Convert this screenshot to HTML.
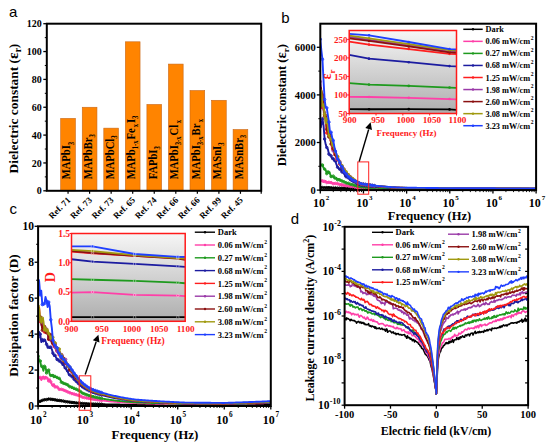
<!DOCTYPE html>
<html><head><meta charset="utf-8"><title>Figure</title>
<style>html,body{margin:0;padding:0;background:#fff;overflow:hidden;width:550px;height:445px}svg{display:block}</style>
</head><body>
<svg width="550" height="445" viewBox="0 0 550 445"><text x="9" y="17.2" font-family="Liberation Sans" font-size="15" fill="#000">a</text>
<text x="281.3" y="22.6" font-family="Liberation Sans" font-size="15" fill="#000">b</text>
<text x="9.5" y="213.7" font-family="Liberation Sans" font-size="15" fill="#000">c</text>
<text x="290.8" y="223.9" font-family="Liberation Sans" font-size="15" fill="#000">d</text>
<rect x="60.70" y="118.39" width="14.70" height="72.41" fill="#ff8400" stroke="#c8681a" stroke-width="0.6" />
<rect x="82.25" y="107.25" width="14.70" height="83.55" fill="#ff8400" stroke="#c8681a" stroke-width="0.6" />
<rect x="103.80" y="128.14" width="14.70" height="62.66" fill="#ff8400" stroke="#c8681a" stroke-width="0.6" />
<rect x="125.35" y="41.80" width="14.70" height="149.00" fill="#ff8400" stroke="#c8681a" stroke-width="0.6" />
<rect x="146.90" y="104.46" width="14.70" height="86.34" fill="#ff8400" stroke="#c8681a" stroke-width="0.6" />
<rect x="168.45" y="64.08" width="14.70" height="126.72" fill="#ff8400" stroke="#c8681a" stroke-width="0.6" />
<rect x="190.00" y="90.54" width="14.70" height="100.26" fill="#ff8400" stroke="#c8681a" stroke-width="0.6" />
<rect x="211.55" y="100.29" width="14.70" height="90.51" fill="#ff8400" stroke="#c8681a" stroke-width="0.6" />
<rect x="233.10" y="129.53" width="14.70" height="61.27" fill="#ff8400" stroke="#c8681a" stroke-width="0.6" />
<text x="0" y="0" font-size="10.6" transform="translate(70.45 179.3) rotate(-90) scale(1 1.1)" font-family="Liberation Serif" font-weight="bold">MAPbI<tspan font-size="6.6" dy="2.8">3</tspan></text>
<text x="0" y="0" font-size="10.6" transform="translate(92.00 179.3) rotate(-90) scale(1 1.1)" font-family="Liberation Serif" font-weight="bold">MAPbBr<tspan font-size="6.6" dy="2.8">3</tspan></text>
<text x="0" y="0" font-size="10.6" transform="translate(113.55 179.3) rotate(-90) scale(1 1.1)" font-family="Liberation Serif" font-weight="bold">MAPbCl<tspan font-size="6.6" dy="2.8">3</tspan></text>
<text x="0" y="0" font-size="10.6" transform="translate(135.10 179.3) rotate(-90) scale(1 1.1)" font-family="Liberation Serif" font-weight="bold">MAPb<tspan font-size="6.6" dy="2.8">1-x</tspan><tspan dx="1" dy="-2.8">Fe</tspan><tspan font-size="6.6" dx="1.2" dy="2.8">x</tspan><tspan dx="0.8" dy="-2.8">I</tspan><tspan font-size="6.6" dy="2.8">3</tspan></text>
<text x="0" y="0" font-size="10.6" transform="translate(156.65 179.3) rotate(-90) scale(1 1.1)" font-family="Liberation Serif" font-weight="bold">FAPbI<tspan font-size="6.6" dy="2.8">3</tspan></text>
<text x="0" y="0" font-size="10.6" transform="translate(178.20 179.3) rotate(-90) scale(1 1.1)" font-family="Liberation Serif" font-weight="bold">MAPbI<tspan font-size="6.6" dy="2.8">3-x</tspan><tspan dx="1" dy="-2.8">Cl</tspan><tspan font-size="6.6" dx="1.5" dy="2.8">x</tspan></text>
<text x="0" y="0" font-size="10.6" transform="translate(199.75 179.3) rotate(-90) scale(1 1.1)" font-family="Liberation Serif" font-weight="bold">MAPbI<tspan font-size="6.6" dy="2.8">3-x</tspan><tspan dx="1" dy="-2.8">Br</tspan><tspan font-size="6.6" dx="1.5" dy="2.8">x</tspan></text>
<text x="0" y="0" font-size="10.6" transform="translate(221.30 179.3) rotate(-90) scale(1 1.1)" font-family="Liberation Serif" font-weight="bold">MASnI<tspan font-size="6.6" dy="2.8">3</tspan></text>
<text x="0" y="0" font-size="10.6" transform="translate(242.85 179.3) rotate(-90) scale(1 1.1)" font-family="Liberation Serif" font-weight="bold">MASnBr<tspan font-size="6.6" dy="2.8">3</tspan></text>
<text x="71.05" y="200.60" font-size="8.9" text-anchor="end" fill="#000" transform="rotate(-45 71.05 200.60)" font-family="Liberation Serif" font-weight="bold">Ref. 71</text>
<line x1="68.05" y1="190.80" x2="68.05" y2="193.80" stroke="#000" stroke-width="1.2" />
<text x="92.60" y="200.60" font-size="8.9" text-anchor="end" fill="#000" transform="rotate(-45 92.60 200.60)" font-family="Liberation Serif" font-weight="bold">Ref. 73</text>
<line x1="89.60" y1="190.80" x2="89.60" y2="193.80" stroke="#000" stroke-width="1.2" />
<text x="114.15" y="200.60" font-size="8.9" text-anchor="end" fill="#000" transform="rotate(-45 114.15 200.60)" font-family="Liberation Serif" font-weight="bold">Ref. 73</text>
<line x1="111.15" y1="190.80" x2="111.15" y2="193.80" stroke="#000" stroke-width="1.2" />
<text x="135.70" y="200.60" font-size="8.9" text-anchor="end" fill="#000" transform="rotate(-45 135.70 200.60)" font-family="Liberation Serif" font-weight="bold">Ref. 65</text>
<line x1="132.70" y1="190.80" x2="132.70" y2="193.80" stroke="#000" stroke-width="1.2" />
<text x="157.25" y="200.60" font-size="8.9" text-anchor="end" fill="#000" transform="rotate(-45 157.25 200.60)" font-family="Liberation Serif" font-weight="bold">Ref. 74</text>
<line x1="154.25" y1="190.80" x2="154.25" y2="193.80" stroke="#000" stroke-width="1.2" />
<text x="178.80" y="200.60" font-size="8.9" text-anchor="end" fill="#000" transform="rotate(-45 178.80 200.60)" font-family="Liberation Serif" font-weight="bold">Ref. 66</text>
<line x1="175.80" y1="190.80" x2="175.80" y2="193.80" stroke="#000" stroke-width="1.2" />
<text x="200.35" y="200.60" font-size="8.9" text-anchor="end" fill="#000" transform="rotate(-45 200.35 200.60)" font-family="Liberation Serif" font-weight="bold">Ref. 66</text>
<line x1="197.35" y1="190.80" x2="197.35" y2="193.80" stroke="#000" stroke-width="1.2" />
<text x="221.90" y="200.60" font-size="8.9" text-anchor="end" fill="#000" transform="rotate(-45 221.90 200.60)" font-family="Liberation Serif" font-weight="bold">Ref. 99</text>
<line x1="218.90" y1="190.80" x2="218.90" y2="193.80" stroke="#000" stroke-width="1.2" />
<text x="243.45" y="200.60" font-size="8.9" text-anchor="end" fill="#000" transform="rotate(-45 243.45 200.60)" font-family="Liberation Serif" font-weight="bold">Ref. 45</text>
<line x1="240.45" y1="190.80" x2="240.45" y2="193.80" stroke="#000" stroke-width="1.2" />
<line x1="261.20" y1="190.80" x2="261.20" y2="193.80" stroke="#000" stroke-width="1.2" />
<line x1="43.30" y1="190.80" x2="46.80" y2="190.80" stroke="#000" stroke-width="1.3" />
<text x="41.80" y="194.40" font-size="10" text-anchor="end" fill="#000" font-family="Liberation Serif" font-weight="bold">0</text>
<line x1="43.30" y1="162.95" x2="46.80" y2="162.95" stroke="#000" stroke-width="1.3" />
<text x="41.80" y="166.55" font-size="10" text-anchor="end" fill="#000" font-family="Liberation Serif" font-weight="bold">20</text>
<line x1="43.30" y1="135.10" x2="46.80" y2="135.10" stroke="#000" stroke-width="1.3" />
<text x="41.80" y="138.70" font-size="10" text-anchor="end" fill="#000" font-family="Liberation Serif" font-weight="bold">40</text>
<line x1="43.30" y1="107.25" x2="46.80" y2="107.25" stroke="#000" stroke-width="1.3" />
<text x="41.80" y="110.85" font-size="10" text-anchor="end" fill="#000" font-family="Liberation Serif" font-weight="bold">60</text>
<line x1="43.30" y1="79.40" x2="46.80" y2="79.40" stroke="#000" stroke-width="1.3" />
<text x="41.80" y="83.00" font-size="10" text-anchor="end" fill="#000" font-family="Liberation Serif" font-weight="bold">80</text>
<line x1="43.30" y1="51.55" x2="46.80" y2="51.55" stroke="#000" stroke-width="1.3" />
<text x="41.80" y="55.15" font-size="10" text-anchor="end" fill="#000" font-family="Liberation Serif" font-weight="bold">100</text>
<line x1="43.30" y1="23.70" x2="46.80" y2="23.70" stroke="#000" stroke-width="1.3" />
<text x="41.80" y="27.30" font-size="10" text-anchor="end" fill="#000" font-family="Liberation Serif" font-weight="bold">120</text>
<line x1="44.80" y1="176.88" x2="46.80" y2="176.88" stroke="#000" stroke-width="1" />
<line x1="44.80" y1="149.03" x2="46.80" y2="149.03" stroke="#000" stroke-width="1" />
<line x1="44.80" y1="121.17" x2="46.80" y2="121.17" stroke="#000" stroke-width="1" />
<line x1="44.80" y1="93.32" x2="46.80" y2="93.32" stroke="#000" stroke-width="1" />
<line x1="44.80" y1="65.47" x2="46.80" y2="65.47" stroke="#000" stroke-width="1" />
<line x1="44.80" y1="37.62" x2="46.80" y2="37.62" stroke="#000" stroke-width="1" />
<rect x="46.80" y="23.70" width="214.40" height="167.10" fill="none" stroke="#000" stroke-width="2" />
<text x="17.60" y="108.60" font-size="13.4" text-anchor="middle" fill="#000" transform="rotate(-90 17.60 108.60)" font-family="Liberation Serif" font-weight="bold">Dielectric constant (<tspan font-size="15.5">&#949;</tspan><tspan font-size="9.5" dy="3.5">r</tspan><tspan dy="-3.5">)</tspan></text>
<defs><linearGradient id="g1" x1="0" y1="0" x2="0" y2="1"><stop offset="0" stop-color="#f6f6f6"/><stop offset="1" stop-color="#adadad"/></linearGradient><clipPath id="cpb"><rect x="320.3" y="23.7" width="215.8" height="166.4"/></clipPath><clipPath id="cpc"><rect x="38.1" y="226.3" width="232.7" height="179.7"/></clipPath><clipPath id="cpd"><rect x="344.6" y="226.8" width="183.5" height="178.4"/></clipPath></defs>
<g clip-path="url(#cpb)">
<polyline points="320.30,187.52 321.38,187.46 322.46,187.59 323.54,187.64 324.62,187.75 325.69,187.70 326.77,187.61 327.85,187.72 328.93,187.70 330.01,187.81 331.09,187.83 332.17,187.89 333.25,188.05 334.33,187.91 335.41,187.97 336.49,188.01 337.56,188.16 338.64,188.19 339.72,188.18 340.80,188.19 341.88,188.18 342.96,188.22 344.04,188.23 345.12,188.30 346.20,188.29 347.28,188.31 348.35,188.37 349.43,188.33 350.51,188.38 351.59,188.39 352.67,188.46 353.75,188.48 354.83,188.50 355.91,188.52 356.99,188.53 358.06,188.56 359.14,188.58 360.22,188.61 361.30,188.62 362.38,188.64 363.46,188.66 364.54,188.68 365.62,188.71 366.70,188.73 367.78,188.75 368.86,188.77 369.93,188.78 371.01,188.80 372.09,188.82 373.17,188.84 374.25,188.86 375.33,188.88 376.41,188.90 377.49,188.91 378.57,188.93 379.65,188.95 380.72,188.96 381.80,188.98 382.88,189.00 383.96,189.01 385.04,189.03 386.12,189.04 387.20,189.04 388.28,189.05 389.36,189.06 390.44,189.06 391.51,189.07 392.59,189.08 393.67,189.09 394.75,189.09 395.83,189.10 396.91,189.11 397.99,189.11 399.07,189.12 400.15,189.13 401.23,189.13 402.30,189.14 403.38,189.15 404.46,189.15 405.54,189.16 406.62,189.16 407.70,189.17 408.78,189.18 409.86,189.18 410.94,189.19 412.01,189.20 413.09,189.20 414.17,189.21 415.25,189.21 416.33,189.22 417.41,189.23 418.49,189.23 419.57,189.24 420.65,189.24 421.73,189.25 422.81,189.25 423.88,189.26 424.96,189.27 426.04,189.27 427.12,189.28 428.20,189.28 429.28,189.29 430.36,189.29 431.44,189.30 432.52,189.30 433.60,189.31 434.67,189.32 435.75,189.32 436.83,189.33 437.91,189.33 438.99,189.34 440.07,189.34 441.15,189.35 442.23,189.35 443.31,189.36 444.38,189.36 445.46,189.37 446.54,189.37 447.62,189.38 448.70,189.38 449.78,189.39 450.86,189.39 451.94,189.39 453.02,189.39 454.10,189.39 455.18,189.39 456.25,189.40 457.33,189.40 458.41,189.40 459.49,189.40 460.57,189.40 461.65,189.40 462.73,189.41 463.81,189.41 464.89,189.41 465.97,189.41 467.04,189.41 468.12,189.41 469.20,189.41 470.28,189.42 471.36,189.42 472.44,189.42 473.52,189.42 474.60,189.42 475.68,189.42 476.75,189.43 477.83,189.43 478.91,189.43 479.99,189.43 481.07,189.43 482.15,189.43 483.23,189.43 484.31,189.44 485.39,189.44 486.47,189.44 487.55,189.44 488.62,189.44 489.70,189.44 490.78,189.45 491.86,189.45 492.94,189.45 494.02,189.45 495.10,189.45 496.18,189.45 497.26,189.45 498.34,189.46 499.41,189.46 500.49,189.46 501.57,189.46 502.65,189.46 503.73,189.46 504.81,189.46 505.89,189.47 506.97,189.47 508.05,189.47 509.12,189.47 510.20,189.47 511.28,189.47 512.36,189.47 513.44,189.48 514.52,189.48 515.60,189.48 516.68,189.48 517.76,189.48 518.84,189.48 519.91,189.48 520.99,189.49 522.07,189.49 523.15,189.49 524.23,189.49 525.31,189.49 526.39,189.49 527.47,189.49 528.55,189.50 529.63,189.50 530.71,189.50 531.78,189.50 532.86,189.50 533.94,189.50 535.02,189.50 536.10,189.50" fill="none" stroke="#000000" stroke-width="1.9" stroke-linejoin="round" />
<circle cx="320.30" cy="187.52" r="1.25" fill="none" stroke="#000000" stroke-width="1.0"/>
<circle cx="322.46" cy="187.59" r="1.25" fill="none" stroke="#000000" stroke-width="1.0"/>
<circle cx="324.62" cy="187.75" r="1.25" fill="none" stroke="#000000" stroke-width="1.0"/>
<circle cx="326.77" cy="187.61" r="1.25" fill="none" stroke="#000000" stroke-width="1.0"/>
<circle cx="328.93" cy="187.70" r="1.25" fill="none" stroke="#000000" stroke-width="1.0"/>
<circle cx="331.09" cy="187.83" r="1.25" fill="none" stroke="#000000" stroke-width="1.0"/>
<circle cx="333.25" cy="188.05" r="1.25" fill="none" stroke="#000000" stroke-width="1.0"/>
<circle cx="335.41" cy="187.97" r="1.25" fill="none" stroke="#000000" stroke-width="1.0"/>
<circle cx="337.56" cy="188.16" r="1.25" fill="none" stroke="#000000" stroke-width="1.0"/>
<circle cx="339.72" cy="188.18" r="1.25" fill="none" stroke="#000000" stroke-width="1.0"/>
<circle cx="341.88" cy="188.18" r="1.25" fill="none" stroke="#000000" stroke-width="1.0"/>
<circle cx="344.04" cy="188.23" r="1.25" fill="none" stroke="#000000" stroke-width="1.0"/>
<circle cx="346.20" cy="188.29" r="1.25" fill="none" stroke="#000000" stroke-width="1.0"/>
<circle cx="348.35" cy="188.37" r="1.25" fill="none" stroke="#000000" stroke-width="1.0"/>
<circle cx="350.51" cy="188.38" r="1.25" fill="none" stroke="#000000" stroke-width="1.0"/>
<circle cx="352.67" cy="188.46" r="1.25" fill="none" stroke="#000000" stroke-width="1.0"/>
<circle cx="354.83" cy="188.50" r="1.25" fill="none" stroke="#000000" stroke-width="1.0"/>
<circle cx="356.99" cy="188.53" r="1.25" fill="none" stroke="#000000" stroke-width="1.0"/>
<circle cx="359.14" cy="188.58" r="1.25" fill="none" stroke="#000000" stroke-width="1.0"/>
<circle cx="361.30" cy="188.62" r="1.25" fill="none" stroke="#000000" stroke-width="1.0"/>
<circle cx="363.46" cy="188.66" r="1.25" fill="none" stroke="#000000" stroke-width="1.0"/>
<circle cx="365.62" cy="188.71" r="1.25" fill="none" stroke="#000000" stroke-width="1.0"/>
<circle cx="367.78" cy="188.75" r="1.25" fill="none" stroke="#000000" stroke-width="1.0"/>
<circle cx="369.93" cy="188.78" r="1.25" fill="none" stroke="#000000" stroke-width="1.0"/>
<circle cx="372.09" cy="188.82" r="1.25" fill="none" stroke="#000000" stroke-width="1.0"/>
<circle cx="374.25" cy="188.86" r="1.25" fill="none" stroke="#000000" stroke-width="1.0"/>
<polyline points="320.30,181.12 321.38,180.65 322.46,180.77 323.54,182.10 324.62,181.43 325.69,180.98 326.77,182.59 327.85,182.20 328.93,182.29 330.01,182.84 331.09,182.57 332.17,183.03 333.25,183.73 334.33,183.21 335.41,183.49 336.49,183.64 337.56,183.74 338.64,184.22 339.72,184.47 340.80,184.94 341.88,184.75 342.96,185.17 344.04,185.33 345.12,185.63 346.20,185.76 347.28,185.87 348.35,185.85 349.43,186.27 350.51,186.41 351.59,186.47 352.67,186.58 353.75,186.81 354.83,187.06 355.91,187.21 356.99,187.29 358.06,187.46 359.14,187.59 360.22,187.69 361.30,187.81 362.38,187.88 363.46,187.93 364.54,187.98 365.62,188.02 366.70,188.07 367.78,188.11 368.86,188.16 369.93,188.20 371.01,188.24 372.09,188.28 373.17,188.32 374.25,188.36 375.33,188.40 376.41,188.43 377.49,188.46 378.57,188.49 379.65,188.52 380.72,188.55 381.80,188.57 382.88,188.60 383.96,188.63 385.04,188.65 386.12,188.68 387.20,188.70 388.28,188.73 389.36,188.75 390.44,188.77 391.51,188.80 392.59,188.82 393.67,188.84 394.75,188.86 395.83,188.88 396.91,188.90 397.99,188.93 399.07,188.95 400.15,188.96 401.23,188.97 402.30,188.98 403.38,188.98 404.46,188.99 405.54,189.00 406.62,189.01 407.70,189.01 408.78,189.02 409.86,189.03 410.94,189.04 412.01,189.04 413.09,189.05 414.17,189.06 415.25,189.06 416.33,189.07 417.41,189.08 418.49,189.09 419.57,189.09 420.65,189.10 421.73,189.11 422.81,189.11 423.88,189.12 424.96,189.13 426.04,189.13 427.12,189.14 428.20,189.15 429.28,189.15 430.36,189.16 431.44,189.16 432.52,189.17 433.60,189.18 434.67,189.18 435.75,189.19 436.83,189.20 437.91,189.20 438.99,189.21 440.07,189.21 441.15,189.22 442.23,189.23 443.31,189.23 444.38,189.24 445.46,189.24 446.54,189.25 447.62,189.26 448.70,189.26 449.78,189.27 450.86,189.27 451.94,189.27 453.02,189.27 454.10,189.27 455.18,189.27 456.25,189.28 457.33,189.28 458.41,189.28 459.49,189.28 460.57,189.28 461.65,189.28 462.73,189.29 463.81,189.29 464.89,189.29 465.97,189.29 467.04,189.29 468.12,189.29 469.20,189.30 470.28,189.30 471.36,189.30 472.44,189.30 473.52,189.30 474.60,189.30 475.68,189.30 476.75,189.31 477.83,189.31 478.91,189.31 479.99,189.31 481.07,189.31 482.15,189.31 483.23,189.32 484.31,189.32 485.39,189.32 486.47,189.32 487.55,189.32 488.62,189.32 489.70,189.32 490.78,189.33 491.86,189.33 492.94,189.33 494.02,189.33 495.10,189.33 496.18,189.33 497.26,189.33 498.34,189.34 499.41,189.34 500.49,189.34 501.57,189.34 502.65,189.34 503.73,189.34 504.81,189.34 505.89,189.35 506.97,189.35 508.05,189.35 509.12,189.35 510.20,189.35 511.28,189.35 512.36,189.36 513.44,189.36 514.52,189.36 515.60,189.36 516.68,189.36 517.76,189.36 518.84,189.36 519.91,189.37 520.99,189.37 522.07,189.37 523.15,189.37 524.23,189.37 525.31,189.37 526.39,189.37 527.47,189.37 528.55,189.38 529.63,189.38 530.71,189.38 531.78,189.38 532.86,189.38 533.94,189.38 535.02,189.38 536.10,189.39" fill="none" stroke="#ff3fa8" stroke-width="1.9" stroke-linejoin="round" />
<circle cx="320.30" cy="181.12" r="1.25" fill="none" stroke="#ff3fa8" stroke-width="1.0"/>
<circle cx="322.46" cy="180.77" r="1.25" fill="none" stroke="#ff3fa8" stroke-width="1.0"/>
<circle cx="324.62" cy="181.43" r="1.25" fill="none" stroke="#ff3fa8" stroke-width="1.0"/>
<circle cx="326.77" cy="182.59" r="1.25" fill="none" stroke="#ff3fa8" stroke-width="1.0"/>
<circle cx="328.93" cy="182.29" r="1.25" fill="none" stroke="#ff3fa8" stroke-width="1.0"/>
<circle cx="331.09" cy="182.57" r="1.25" fill="none" stroke="#ff3fa8" stroke-width="1.0"/>
<circle cx="333.25" cy="183.73" r="1.25" fill="none" stroke="#ff3fa8" stroke-width="1.0"/>
<circle cx="335.41" cy="183.49" r="1.25" fill="none" stroke="#ff3fa8" stroke-width="1.0"/>
<circle cx="337.56" cy="183.74" r="1.25" fill="none" stroke="#ff3fa8" stroke-width="1.0"/>
<circle cx="339.72" cy="184.47" r="1.25" fill="none" stroke="#ff3fa8" stroke-width="1.0"/>
<circle cx="341.88" cy="184.75" r="1.25" fill="none" stroke="#ff3fa8" stroke-width="1.0"/>
<circle cx="344.04" cy="185.33" r="1.25" fill="none" stroke="#ff3fa8" stroke-width="1.0"/>
<circle cx="346.20" cy="185.76" r="1.25" fill="none" stroke="#ff3fa8" stroke-width="1.0"/>
<circle cx="348.35" cy="185.85" r="1.25" fill="none" stroke="#ff3fa8" stroke-width="1.0"/>
<circle cx="350.51" cy="186.41" r="1.25" fill="none" stroke="#ff3fa8" stroke-width="1.0"/>
<circle cx="352.67" cy="186.58" r="1.25" fill="none" stroke="#ff3fa8" stroke-width="1.0"/>
<circle cx="354.83" cy="187.06" r="1.25" fill="none" stroke="#ff3fa8" stroke-width="1.0"/>
<circle cx="356.99" cy="187.29" r="1.25" fill="none" stroke="#ff3fa8" stroke-width="1.0"/>
<circle cx="359.14" cy="187.59" r="1.25" fill="none" stroke="#ff3fa8" stroke-width="1.0"/>
<circle cx="361.30" cy="187.81" r="1.25" fill="none" stroke="#ff3fa8" stroke-width="1.0"/>
<circle cx="363.46" cy="187.93" r="1.25" fill="none" stroke="#ff3fa8" stroke-width="1.0"/>
<circle cx="365.62" cy="188.02" r="1.25" fill="none" stroke="#ff3fa8" stroke-width="1.0"/>
<circle cx="367.78" cy="188.11" r="1.25" fill="none" stroke="#ff3fa8" stroke-width="1.0"/>
<circle cx="369.93" cy="188.20" r="1.25" fill="none" stroke="#ff3fa8" stroke-width="1.0"/>
<circle cx="372.09" cy="188.28" r="1.25" fill="none" stroke="#ff3fa8" stroke-width="1.0"/>
<circle cx="374.25" cy="188.36" r="1.25" fill="none" stroke="#ff3fa8" stroke-width="1.0"/>
<polyline points="320.30,164.62 321.38,165.59 322.46,165.05 323.54,167.80 324.62,169.11 325.69,170.09 326.77,173.61 327.85,171.13 328.93,172.42 330.01,173.83 331.09,176.54 332.17,176.53 333.25,176.14 334.33,178.43 335.41,178.12 336.49,177.99 337.56,179.81 338.64,178.92 339.72,179.89 340.80,180.67 341.88,180.94 342.96,181.31 344.04,181.92 345.12,182.07 346.20,182.92 347.28,183.23 348.35,183.30 349.43,183.83 350.51,184.28 351.59,184.40 352.67,184.70 353.75,185.21 354.83,185.57 355.91,185.76 356.99,186.03 358.06,186.28 359.14,186.46 360.22,186.74 361.30,186.91 362.38,187.03 363.46,187.09 364.54,187.16 365.62,187.23 366.70,187.30 367.78,187.37 368.86,187.43 369.93,187.49 371.01,187.55 372.09,187.61 373.17,187.67 374.25,187.73 375.33,187.78 376.41,187.84 377.49,187.88 378.57,187.93 379.65,187.97 380.72,188.01 381.80,188.05 382.88,188.09 383.96,188.13 385.04,188.17 386.12,188.21 387.20,188.24 388.28,188.28 389.36,188.32 390.44,188.35 391.51,188.39 392.59,188.42 393.67,188.45 394.75,188.48 395.83,188.52 396.91,188.55 397.99,188.58 399.07,188.61 400.15,188.63 401.23,188.64 402.30,188.65 403.38,188.66 404.46,188.67 405.54,188.68 406.62,188.69 407.70,188.70 408.78,188.71 409.86,188.72 410.94,188.73 412.01,188.74 413.09,188.75 414.17,188.75 415.25,188.76 416.33,188.77 417.41,188.78 418.49,188.79 419.57,188.80 420.65,188.81 421.73,188.82 422.81,188.83 423.88,188.84 424.96,188.84 426.04,188.85 427.12,188.86 428.20,188.87 429.28,188.88 430.36,188.89 431.44,188.90 432.52,188.90 433.60,188.91 434.67,188.92 435.75,188.93 436.83,188.94 437.91,188.94 438.99,188.95 440.07,188.96 441.15,188.97 442.23,188.98 443.31,188.98 444.38,188.99 445.46,189.00 446.54,189.01 447.62,189.01 448.70,189.02 449.78,189.03 450.86,189.03 451.94,189.03 453.02,189.04 454.10,189.04 455.18,189.04 456.25,189.04 457.33,189.04 458.41,189.05 459.49,189.05 460.57,189.05 461.65,189.05 462.73,189.06 463.81,189.06 464.89,189.06 465.97,189.06 467.04,189.06 468.12,189.07 469.20,189.07 470.28,189.07 471.36,189.07 472.44,189.08 473.52,189.08 474.60,189.08 475.68,189.08 476.75,189.08 477.83,189.09 478.91,189.09 479.99,189.09 481.07,189.09 482.15,189.09 483.23,189.10 484.31,189.10 485.39,189.10 486.47,189.10 487.55,189.11 488.62,189.11 489.70,189.11 490.78,189.11 491.86,189.11 492.94,189.12 494.02,189.12 495.10,189.12 496.18,189.12 497.26,189.12 498.34,189.13 499.41,189.13 500.49,189.13 501.57,189.13 502.65,189.13 503.73,189.14 504.81,189.14 505.89,189.14 506.97,189.14 508.05,189.14 509.12,189.15 510.20,189.15 511.28,189.15 512.36,189.15 513.44,189.15 514.52,189.16 515.60,189.16 516.68,189.16 517.76,189.16 518.84,189.16 519.91,189.17 520.99,189.17 522.07,189.17 523.15,189.17 524.23,189.17 525.31,189.18 526.39,189.18 527.47,189.18 528.55,189.18 529.63,189.18 530.71,189.19 531.78,189.19 532.86,189.19 533.94,189.19 535.02,189.19 536.10,189.20" fill="none" stroke="#1e9a1e" stroke-width="1.9" stroke-linejoin="round" />
<circle cx="320.30" cy="164.62" r="1.25" fill="none" stroke="#1e9a1e" stroke-width="1.0"/>
<circle cx="322.46" cy="165.05" r="1.25" fill="none" stroke="#1e9a1e" stroke-width="1.0"/>
<circle cx="324.62" cy="169.11" r="1.25" fill="none" stroke="#1e9a1e" stroke-width="1.0"/>
<circle cx="326.77" cy="173.61" r="1.25" fill="none" stroke="#1e9a1e" stroke-width="1.0"/>
<circle cx="328.93" cy="172.42" r="1.25" fill="none" stroke="#1e9a1e" stroke-width="1.0"/>
<circle cx="331.09" cy="176.54" r="1.25" fill="none" stroke="#1e9a1e" stroke-width="1.0"/>
<circle cx="333.25" cy="176.14" r="1.25" fill="none" stroke="#1e9a1e" stroke-width="1.0"/>
<circle cx="335.41" cy="178.12" r="1.25" fill="none" stroke="#1e9a1e" stroke-width="1.0"/>
<circle cx="337.56" cy="179.81" r="1.25" fill="none" stroke="#1e9a1e" stroke-width="1.0"/>
<circle cx="339.72" cy="179.89" r="1.25" fill="none" stroke="#1e9a1e" stroke-width="1.0"/>
<circle cx="341.88" cy="180.94" r="1.25" fill="none" stroke="#1e9a1e" stroke-width="1.0"/>
<circle cx="344.04" cy="181.92" r="1.25" fill="none" stroke="#1e9a1e" stroke-width="1.0"/>
<circle cx="346.20" cy="182.92" r="1.25" fill="none" stroke="#1e9a1e" stroke-width="1.0"/>
<circle cx="348.35" cy="183.30" r="1.25" fill="none" stroke="#1e9a1e" stroke-width="1.0"/>
<circle cx="350.51" cy="184.28" r="1.25" fill="none" stroke="#1e9a1e" stroke-width="1.0"/>
<circle cx="352.67" cy="184.70" r="1.25" fill="none" stroke="#1e9a1e" stroke-width="1.0"/>
<circle cx="354.83" cy="185.57" r="1.25" fill="none" stroke="#1e9a1e" stroke-width="1.0"/>
<circle cx="356.99" cy="186.03" r="1.25" fill="none" stroke="#1e9a1e" stroke-width="1.0"/>
<circle cx="359.14" cy="186.46" r="1.25" fill="none" stroke="#1e9a1e" stroke-width="1.0"/>
<circle cx="361.30" cy="186.91" r="1.25" fill="none" stroke="#1e9a1e" stroke-width="1.0"/>
<circle cx="363.46" cy="187.09" r="1.25" fill="none" stroke="#1e9a1e" stroke-width="1.0"/>
<circle cx="365.62" cy="187.23" r="1.25" fill="none" stroke="#1e9a1e" stroke-width="1.0"/>
<circle cx="367.78" cy="187.37" r="1.25" fill="none" stroke="#1e9a1e" stroke-width="1.0"/>
<circle cx="369.93" cy="187.49" r="1.25" fill="none" stroke="#1e9a1e" stroke-width="1.0"/>
<circle cx="372.09" cy="187.61" r="1.25" fill="none" stroke="#1e9a1e" stroke-width="1.0"/>
<circle cx="374.25" cy="187.73" r="1.25" fill="none" stroke="#1e9a1e" stroke-width="1.0"/>
<polyline points="320.30,126.83 321.38,124.75 322.46,118.71 323.54,125.44 324.62,139.01 325.69,144.33 326.77,147.47 327.85,149.06 328.93,154.14 330.01,154.88 331.09,155.86 332.17,158.85 333.25,158.76 334.33,160.98 335.41,161.08 336.49,164.67 337.56,167.20 338.64,168.42 339.72,169.23 340.80,169.45 341.88,171.85 342.96,172.50 344.04,172.93 345.12,176.08 346.20,176.78 347.28,177.00 348.35,177.85 349.43,178.76 350.51,179.76 351.59,180.20 352.67,181.00 353.75,181.80 354.83,182.07 355.91,182.81 356.99,183.43 358.06,183.86 359.14,184.31 360.22,184.71 361.30,185.13 362.38,185.27 363.46,185.40 364.54,185.54 365.62,185.66 366.70,185.79 367.78,185.91 368.86,186.03 369.93,186.14 371.01,186.26 372.09,186.36 373.17,186.47 374.25,186.57 375.33,186.67 376.41,186.77 377.49,186.84 378.57,186.92 379.65,186.99 380.72,187.06 381.80,187.13 382.88,187.20 383.96,187.27 385.04,187.33 386.12,187.39 387.20,187.46 388.28,187.52 389.36,187.57 390.44,187.63 391.51,187.69 392.59,187.74 393.67,187.80 394.75,187.85 395.83,187.90 396.91,187.95 397.99,188.00 399.07,188.05 400.15,188.08 401.23,188.10 402.30,188.11 403.38,188.12 404.46,188.14 405.54,188.15 406.62,188.16 407.70,188.18 408.78,188.19 409.86,188.20 410.94,188.22 412.01,188.23 413.09,188.24 414.17,188.25 415.25,188.27 416.33,188.28 417.41,188.29 418.49,188.30 419.57,188.31 420.65,188.33 421.73,188.34 422.81,188.35 423.88,188.36 424.96,188.37 426.04,188.39 427.12,188.40 428.20,188.41 429.28,188.42 430.36,188.43 431.44,188.44 432.52,188.45 433.60,188.47 434.67,188.48 435.75,188.49 436.83,188.50 437.91,188.51 438.99,188.52 440.07,188.53 441.15,188.54 442.23,188.55 443.31,188.56 444.38,188.57 445.46,188.58 446.54,188.59 447.62,188.60 448.70,188.61 449.78,188.62 450.86,188.63 451.94,188.63 453.02,188.63 454.10,188.64 455.18,188.64 456.25,188.64 457.33,188.65 458.41,188.65 459.49,188.65 460.57,188.66 461.65,188.66 462.73,188.66 463.81,188.67 464.89,188.67 465.97,188.67 467.04,188.68 468.12,188.68 469.20,188.68 470.28,188.68 471.36,188.69 472.44,188.69 473.52,188.69 474.60,188.70 475.68,188.70 476.75,188.70 477.83,188.71 478.91,188.71 479.99,188.71 481.07,188.72 482.15,188.72 483.23,188.72 484.31,188.72 485.39,188.73 486.47,188.73 487.55,188.73 488.62,188.74 489.70,188.74 490.78,188.74 491.86,188.75 492.94,188.75 494.02,188.75 495.10,188.75 496.18,188.76 497.26,188.76 498.34,188.76 499.41,188.77 500.49,188.77 501.57,188.77 502.65,188.78 503.73,188.78 504.81,188.78 505.89,188.78 506.97,188.79 508.05,188.79 509.12,188.79 510.20,188.80 511.28,188.80 512.36,188.80 513.44,188.80 514.52,188.81 515.60,188.81 516.68,188.81 517.76,188.82 518.84,188.82 519.91,188.82 520.99,188.82 522.07,188.83 523.15,188.83 524.23,188.83 525.31,188.83 526.39,188.84 527.47,188.84 528.55,188.84 529.63,188.85 530.71,188.85 531.78,188.85 532.86,188.85 533.94,188.86 535.02,188.86 536.10,188.86" fill="none" stroke="#1c1ca0" stroke-width="1.9" stroke-linejoin="round" />
<circle cx="320.30" cy="126.83" r="1.25" fill="none" stroke="#1c1ca0" stroke-width="1.0"/>
<circle cx="322.46" cy="118.71" r="1.25" fill="none" stroke="#1c1ca0" stroke-width="1.0"/>
<circle cx="324.62" cy="139.01" r="1.25" fill="none" stroke="#1c1ca0" stroke-width="1.0"/>
<circle cx="326.77" cy="147.47" r="1.25" fill="none" stroke="#1c1ca0" stroke-width="1.0"/>
<circle cx="328.93" cy="154.14" r="1.25" fill="none" stroke="#1c1ca0" stroke-width="1.0"/>
<circle cx="331.09" cy="155.86" r="1.25" fill="none" stroke="#1c1ca0" stroke-width="1.0"/>
<circle cx="333.25" cy="158.76" r="1.25" fill="none" stroke="#1c1ca0" stroke-width="1.0"/>
<circle cx="335.41" cy="161.08" r="1.25" fill="none" stroke="#1c1ca0" stroke-width="1.0"/>
<circle cx="337.56" cy="167.20" r="1.25" fill="none" stroke="#1c1ca0" stroke-width="1.0"/>
<circle cx="339.72" cy="169.23" r="1.25" fill="none" stroke="#1c1ca0" stroke-width="1.0"/>
<circle cx="341.88" cy="171.85" r="1.25" fill="none" stroke="#1c1ca0" stroke-width="1.0"/>
<circle cx="344.04" cy="172.93" r="1.25" fill="none" stroke="#1c1ca0" stroke-width="1.0"/>
<circle cx="346.20" cy="176.78" r="1.25" fill="none" stroke="#1c1ca0" stroke-width="1.0"/>
<circle cx="348.35" cy="177.85" r="1.25" fill="none" stroke="#1c1ca0" stroke-width="1.0"/>
<circle cx="350.51" cy="179.76" r="1.25" fill="none" stroke="#1c1ca0" stroke-width="1.0"/>
<circle cx="352.67" cy="181.00" r="1.25" fill="none" stroke="#1c1ca0" stroke-width="1.0"/>
<circle cx="354.83" cy="182.07" r="1.25" fill="none" stroke="#1c1ca0" stroke-width="1.0"/>
<circle cx="356.99" cy="183.43" r="1.25" fill="none" stroke="#1c1ca0" stroke-width="1.0"/>
<circle cx="359.14" cy="184.31" r="1.25" fill="none" stroke="#1c1ca0" stroke-width="1.0"/>
<circle cx="361.30" cy="185.13" r="1.25" fill="none" stroke="#1c1ca0" stroke-width="1.0"/>
<circle cx="363.46" cy="185.40" r="1.25" fill="none" stroke="#1c1ca0" stroke-width="1.0"/>
<circle cx="365.62" cy="185.66" r="1.25" fill="none" stroke="#1c1ca0" stroke-width="1.0"/>
<circle cx="367.78" cy="185.91" r="1.25" fill="none" stroke="#1c1ca0" stroke-width="1.0"/>
<circle cx="369.93" cy="186.14" r="1.25" fill="none" stroke="#1c1ca0" stroke-width="1.0"/>
<circle cx="372.09" cy="186.36" r="1.25" fill="none" stroke="#1c1ca0" stroke-width="1.0"/>
<circle cx="374.25" cy="186.57" r="1.25" fill="none" stroke="#1c1ca0" stroke-width="1.0"/>
<polyline points="320.30,90.58 321.38,106.41 322.46,107.76 323.54,109.03 324.62,114.63 325.69,116.88 326.77,133.00 327.85,132.71 328.93,136.41 330.01,137.63 331.09,140.34 332.17,149.79 333.25,147.48 334.33,155.05 335.41,154.03 336.49,159.70 337.56,159.63 338.64,160.62 339.72,164.10 340.80,165.61 341.88,166.86 342.96,169.03 344.04,170.71 345.12,171.26 346.20,172.88 347.28,174.71 348.35,175.18 349.43,177.10 350.51,177.49 351.59,178.67 352.67,179.41 353.75,180.09 354.83,180.88 355.91,181.51 356.99,182.31 358.06,182.85 359.14,183.25 360.22,183.80 361.30,184.24 362.38,184.44 363.46,184.59 364.54,184.74 365.62,184.89 366.70,185.04 367.78,185.18 368.86,185.31 369.93,185.45 371.01,185.58 372.09,185.70 373.17,185.83 374.25,185.94 375.33,186.06 376.41,186.17 377.49,186.27 378.57,186.37 379.65,186.46 380.72,186.55 381.80,186.64 382.88,186.73 383.96,186.82 385.04,186.90 386.12,186.98 387.20,187.06 388.28,187.14 389.36,187.21 390.44,187.28 391.51,187.35 392.59,187.42 393.67,187.49 394.75,187.56 395.83,187.62 396.91,187.68 397.99,187.74 399.07,187.80 400.15,187.84 401.23,187.86 402.30,187.87 403.38,187.89 404.46,187.90 405.54,187.92 406.62,187.93 407.70,187.95 408.78,187.96 409.86,187.97 410.94,187.99 412.01,188.00 413.09,188.02 414.17,188.03 415.25,188.04 416.33,188.06 417.41,188.07 418.49,188.08 419.57,188.10 420.65,188.11 421.73,188.12 422.81,188.14 423.88,188.15 424.96,188.16 426.04,188.17 427.12,188.19 428.20,188.20 429.28,188.21 430.36,188.22 431.44,188.24 432.52,188.25 433.60,188.26 434.67,188.27 435.75,188.29 436.83,188.30 437.91,188.31 438.99,188.32 440.07,188.33 441.15,188.34 442.23,188.36 443.31,188.37 444.38,188.38 445.46,188.39 446.54,188.40 447.62,188.41 448.70,188.42 449.78,188.43 450.86,188.44 451.94,188.44 453.02,188.44 454.10,188.45 455.18,188.45 456.25,188.45 457.33,188.46 458.41,188.46 459.49,188.46 460.57,188.47 461.65,188.47 462.73,188.47 463.81,188.48 464.89,188.48 465.97,188.48 467.04,188.48 468.12,188.49 469.20,188.49 470.28,188.49 471.36,188.50 472.44,188.50 473.52,188.50 474.60,188.51 475.68,188.51 476.75,188.51 477.83,188.52 478.91,188.52 479.99,188.52 481.07,188.52 482.15,188.53 483.23,188.53 484.31,188.53 485.39,188.54 486.47,188.54 487.55,188.54 488.62,188.55 489.70,188.55 490.78,188.55 491.86,188.55 492.94,188.56 494.02,188.56 495.10,188.56 496.18,188.57 497.26,188.57 498.34,188.57 499.41,188.58 500.49,188.58 501.57,188.58 502.65,188.58 503.73,188.59 504.81,188.59 505.89,188.59 506.97,188.60 508.05,188.60 509.12,188.60 510.20,188.60 511.28,188.61 512.36,188.61 513.44,188.61 514.52,188.62 515.60,188.62 516.68,188.62 517.76,188.62 518.84,188.63 519.91,188.63 520.99,188.63 522.07,188.64 523.15,188.64 524.23,188.64 525.31,188.64 526.39,188.65 527.47,188.65 528.55,188.65 529.63,188.66 530.71,188.66 531.78,188.66 532.86,188.66 533.94,188.67 535.02,188.67 536.10,188.67" fill="none" stroke="#ff1e1e" stroke-width="1.9" stroke-linejoin="round" />
<circle cx="320.30" cy="90.58" r="1.25" fill="none" stroke="#ff1e1e" stroke-width="1.0"/>
<circle cx="322.46" cy="107.76" r="1.25" fill="none" stroke="#ff1e1e" stroke-width="1.0"/>
<circle cx="324.62" cy="114.63" r="1.25" fill="none" stroke="#ff1e1e" stroke-width="1.0"/>
<circle cx="326.77" cy="133.00" r="1.25" fill="none" stroke="#ff1e1e" stroke-width="1.0"/>
<circle cx="328.93" cy="136.41" r="1.25" fill="none" stroke="#ff1e1e" stroke-width="1.0"/>
<circle cx="331.09" cy="140.34" r="1.25" fill="none" stroke="#ff1e1e" stroke-width="1.0"/>
<circle cx="333.25" cy="147.48" r="1.25" fill="none" stroke="#ff1e1e" stroke-width="1.0"/>
<circle cx="335.41" cy="154.03" r="1.25" fill="none" stroke="#ff1e1e" stroke-width="1.0"/>
<circle cx="337.56" cy="159.63" r="1.25" fill="none" stroke="#ff1e1e" stroke-width="1.0"/>
<circle cx="339.72" cy="164.10" r="1.25" fill="none" stroke="#ff1e1e" stroke-width="1.0"/>
<circle cx="341.88" cy="166.86" r="1.25" fill="none" stroke="#ff1e1e" stroke-width="1.0"/>
<circle cx="344.04" cy="170.71" r="1.25" fill="none" stroke="#ff1e1e" stroke-width="1.0"/>
<circle cx="346.20" cy="172.88" r="1.25" fill="none" stroke="#ff1e1e" stroke-width="1.0"/>
<circle cx="348.35" cy="175.18" r="1.25" fill="none" stroke="#ff1e1e" stroke-width="1.0"/>
<circle cx="350.51" cy="177.49" r="1.25" fill="none" stroke="#ff1e1e" stroke-width="1.0"/>
<circle cx="352.67" cy="179.41" r="1.25" fill="none" stroke="#ff1e1e" stroke-width="1.0"/>
<circle cx="354.83" cy="180.88" r="1.25" fill="none" stroke="#ff1e1e" stroke-width="1.0"/>
<circle cx="356.99" cy="182.31" r="1.25" fill="none" stroke="#ff1e1e" stroke-width="1.0"/>
<circle cx="359.14" cy="183.25" r="1.25" fill="none" stroke="#ff1e1e" stroke-width="1.0"/>
<circle cx="361.30" cy="184.24" r="1.25" fill="none" stroke="#ff1e1e" stroke-width="1.0"/>
<circle cx="363.46" cy="184.59" r="1.25" fill="none" stroke="#ff1e1e" stroke-width="1.0"/>
<circle cx="365.62" cy="184.89" r="1.25" fill="none" stroke="#ff1e1e" stroke-width="1.0"/>
<circle cx="367.78" cy="185.18" r="1.25" fill="none" stroke="#ff1e1e" stroke-width="1.0"/>
<circle cx="369.93" cy="185.45" r="1.25" fill="none" stroke="#ff1e1e" stroke-width="1.0"/>
<circle cx="372.09" cy="185.70" r="1.25" fill="none" stroke="#ff1e1e" stroke-width="1.0"/>
<circle cx="374.25" cy="185.94" r="1.25" fill="none" stroke="#ff1e1e" stroke-width="1.0"/>
<polyline points="320.30,81.53 321.38,90.91 322.46,94.46 323.54,110.99 324.62,112.73 325.69,122.81 326.77,119.70 327.85,121.84 328.93,134.41 330.01,131.72 331.09,137.79 332.17,144.70 333.25,151.00 334.33,148.29 335.41,153.83 336.49,157.14 337.56,158.12 338.64,160.39 339.72,161.38 340.80,165.82 341.88,165.72 342.96,167.27 344.04,168.99 345.12,171.47 346.20,173.08 347.28,173.53 348.35,175.09 349.43,176.17 350.51,176.82 351.59,178.18 352.67,179.27 353.75,179.83 354.83,180.70 355.91,181.09 356.99,181.79 358.06,182.45 359.14,182.95 360.22,183.43 361.30,183.93 362.38,184.14 363.46,184.32 364.54,184.48 365.62,184.64 366.70,184.79 367.78,184.94 368.86,185.09 369.93,185.23 371.01,185.37 372.09,185.50 373.17,185.63 374.25,185.76 375.33,185.88 376.41,186.00 377.49,186.10 378.57,186.20 379.65,186.30 380.72,186.40 381.80,186.50 382.88,186.59 383.96,186.68 385.04,186.77 386.12,186.85 387.20,186.93 388.28,187.01 389.36,187.09 390.44,187.17 391.51,187.25 392.59,187.32 393.67,187.39 394.75,187.46 395.83,187.53 396.91,187.59 397.99,187.66 399.07,187.72 400.15,187.76 401.23,187.78 402.30,187.79 403.38,187.80 404.46,187.82 405.54,187.83 406.62,187.85 407.70,187.86 408.78,187.87 409.86,187.89 410.94,187.90 412.01,187.92 413.09,187.93 414.17,187.94 415.25,187.96 416.33,187.97 417.41,187.98 418.49,188.00 419.57,188.01 420.65,188.02 421.73,188.03 422.81,188.05 423.88,188.06 424.96,188.07 426.04,188.08 427.12,188.10 428.20,188.11 429.28,188.12 430.36,188.13 431.44,188.15 432.52,188.16 433.60,188.17 434.67,188.18 435.75,188.19 436.83,188.21 437.91,188.22 438.99,188.23 440.07,188.24 441.15,188.25 442.23,188.26 443.31,188.28 444.38,188.29 445.46,188.30 446.54,188.31 447.62,188.32 448.70,188.33 449.78,188.34 450.86,188.34 451.94,188.35 453.02,188.35 454.10,188.35 455.18,188.36 456.25,188.36 457.33,188.36 458.41,188.37 459.49,188.37 460.57,188.37 461.65,188.38 462.73,188.38 463.81,188.38 464.89,188.39 465.97,188.39 467.04,188.39 468.12,188.39 469.20,188.40 470.28,188.40 471.36,188.40 472.44,188.41 473.52,188.41 474.60,188.41 475.68,188.42 476.75,188.42 477.83,188.42 478.91,188.42 479.99,188.43 481.07,188.43 482.15,188.43 483.23,188.44 484.31,188.44 485.39,188.44 486.47,188.45 487.55,188.45 488.62,188.45 489.70,188.45 490.78,188.46 491.86,188.46 492.94,188.46 494.02,188.47 495.10,188.47 496.18,188.47 497.26,188.47 498.34,188.48 499.41,188.48 500.49,188.48 501.57,188.49 502.65,188.49 503.73,188.49 504.81,188.50 505.89,188.50 506.97,188.50 508.05,188.50 509.12,188.51 510.20,188.51 511.28,188.51 512.36,188.52 513.44,188.52 514.52,188.52 515.60,188.52 516.68,188.53 517.76,188.53 518.84,188.53 519.91,188.53 520.99,188.54 522.07,188.54 523.15,188.54 524.23,188.55 525.31,188.55 526.39,188.55 527.47,188.55 528.55,188.56 529.63,188.56 530.71,188.56 531.78,188.57 532.86,188.57 533.94,188.57 535.02,188.57 536.10,188.58" fill="none" stroke="#9a3aa8" stroke-width="1.9" stroke-linejoin="round" />
<circle cx="320.30" cy="81.53" r="1.25" fill="none" stroke="#9a3aa8" stroke-width="1.0"/>
<circle cx="322.46" cy="94.46" r="1.25" fill="none" stroke="#9a3aa8" stroke-width="1.0"/>
<circle cx="324.62" cy="112.73" r="1.25" fill="none" stroke="#9a3aa8" stroke-width="1.0"/>
<circle cx="326.77" cy="119.70" r="1.25" fill="none" stroke="#9a3aa8" stroke-width="1.0"/>
<circle cx="328.93" cy="134.41" r="1.25" fill="none" stroke="#9a3aa8" stroke-width="1.0"/>
<circle cx="331.09" cy="137.79" r="1.25" fill="none" stroke="#9a3aa8" stroke-width="1.0"/>
<circle cx="333.25" cy="151.00" r="1.25" fill="none" stroke="#9a3aa8" stroke-width="1.0"/>
<circle cx="335.41" cy="153.83" r="1.25" fill="none" stroke="#9a3aa8" stroke-width="1.0"/>
<circle cx="337.56" cy="158.12" r="1.25" fill="none" stroke="#9a3aa8" stroke-width="1.0"/>
<circle cx="339.72" cy="161.38" r="1.25" fill="none" stroke="#9a3aa8" stroke-width="1.0"/>
<circle cx="341.88" cy="165.72" r="1.25" fill="none" stroke="#9a3aa8" stroke-width="1.0"/>
<circle cx="344.04" cy="168.99" r="1.25" fill="none" stroke="#9a3aa8" stroke-width="1.0"/>
<circle cx="346.20" cy="173.08" r="1.25" fill="none" stroke="#9a3aa8" stroke-width="1.0"/>
<circle cx="348.35" cy="175.09" r="1.25" fill="none" stroke="#9a3aa8" stroke-width="1.0"/>
<circle cx="350.51" cy="176.82" r="1.25" fill="none" stroke="#9a3aa8" stroke-width="1.0"/>
<circle cx="352.67" cy="179.27" r="1.25" fill="none" stroke="#9a3aa8" stroke-width="1.0"/>
<circle cx="354.83" cy="180.70" r="1.25" fill="none" stroke="#9a3aa8" stroke-width="1.0"/>
<circle cx="356.99" cy="181.79" r="1.25" fill="none" stroke="#9a3aa8" stroke-width="1.0"/>
<circle cx="359.14" cy="182.95" r="1.25" fill="none" stroke="#9a3aa8" stroke-width="1.0"/>
<circle cx="361.30" cy="183.93" r="1.25" fill="none" stroke="#9a3aa8" stroke-width="1.0"/>
<circle cx="363.46" cy="184.32" r="1.25" fill="none" stroke="#9a3aa8" stroke-width="1.0"/>
<circle cx="365.62" cy="184.64" r="1.25" fill="none" stroke="#9a3aa8" stroke-width="1.0"/>
<circle cx="367.78" cy="184.94" r="1.25" fill="none" stroke="#9a3aa8" stroke-width="1.0"/>
<circle cx="369.93" cy="185.23" r="1.25" fill="none" stroke="#9a3aa8" stroke-width="1.0"/>
<circle cx="372.09" cy="185.50" r="1.25" fill="none" stroke="#9a3aa8" stroke-width="1.0"/>
<circle cx="374.25" cy="185.76" r="1.25" fill="none" stroke="#9a3aa8" stroke-width="1.0"/>
<polyline points="320.30,88.26 321.38,90.63 322.46,95.29 323.54,101.39 324.62,116.40 325.69,114.89 326.77,129.40 327.85,131.81 328.93,136.96 330.01,133.56 331.09,144.06 332.17,144.79 333.25,148.72 334.33,151.34 335.41,155.01 336.49,156.25 337.56,157.01 338.64,161.12 339.72,162.67 340.80,164.21 341.88,167.06 342.96,169.47 344.04,170.47 345.12,170.96 346.20,173.61 347.28,174.38 348.35,174.91 349.43,176.10 350.51,177.34 351.59,178.06 352.67,179.06 353.75,180.06 354.83,180.80 355.91,181.34 356.99,181.82 358.06,182.52 359.14,183.07 360.22,183.55 361.30,184.03 362.38,184.21 363.46,184.38 364.54,184.54 365.62,184.69 366.70,184.85 367.78,184.99 368.86,185.14 369.93,185.28 371.01,185.41 372.09,185.55 373.17,185.68 374.25,185.80 375.33,185.92 376.41,186.04 377.49,186.14 378.57,186.24 379.65,186.34 380.72,186.44 381.80,186.53 382.88,186.62 383.96,186.71 385.04,186.80 386.12,186.88 387.20,186.97 388.28,187.05 389.36,187.12 390.44,187.20 391.51,187.27 392.59,187.35 393.67,187.42 394.75,187.49 395.83,187.55 396.91,187.62 397.99,187.68 399.07,187.74 400.15,187.79 401.23,187.80 402.30,187.81 403.38,187.83 404.46,187.84 405.54,187.86 406.62,187.87 407.70,187.88 408.78,187.90 409.86,187.91 410.94,187.92 412.01,187.94 413.09,187.95 414.17,187.96 415.25,187.98 416.33,187.99 417.41,188.00 418.49,188.02 419.57,188.03 420.65,188.04 421.73,188.06 422.81,188.07 423.88,188.08 424.96,188.09 426.04,188.11 427.12,188.12 428.20,188.13 429.28,188.14 430.36,188.15 431.44,188.17 432.52,188.18 433.60,188.19 434.67,188.20 435.75,188.21 436.83,188.23 437.91,188.24 438.99,188.25 440.07,188.26 441.15,188.27 442.23,188.28 443.31,188.29 444.38,188.30 445.46,188.32 446.54,188.33 447.62,188.34 448.70,188.35 449.78,188.36 450.86,188.36 451.94,188.37 453.02,188.37 454.10,188.37 455.18,188.38 456.25,188.38 457.33,188.38 458.41,188.38 459.49,188.39 460.57,188.39 461.65,188.39 462.73,188.40 463.81,188.40 464.89,188.40 465.97,188.41 467.04,188.41 468.12,188.41 469.20,188.41 470.28,188.42 471.36,188.42 472.44,188.42 473.52,188.43 474.60,188.43 475.68,188.43 476.75,188.44 477.83,188.44 478.91,188.44 479.99,188.44 481.07,188.45 482.15,188.45 483.23,188.45 484.31,188.46 485.39,188.46 486.47,188.46 487.55,188.47 488.62,188.47 489.70,188.47 490.78,188.47 491.86,188.48 492.94,188.48 494.02,188.48 495.10,188.49 496.18,188.49 497.26,188.49 498.34,188.49 499.41,188.50 500.49,188.50 501.57,188.50 502.65,188.51 503.73,188.51 504.81,188.51 505.89,188.51 506.97,188.52 508.05,188.52 509.12,188.52 510.20,188.53 511.28,188.53 512.36,188.53 513.44,188.53 514.52,188.54 515.60,188.54 516.68,188.54 517.76,188.55 518.84,188.55 519.91,188.55 520.99,188.55 522.07,188.56 523.15,188.56 524.23,188.56 525.31,188.56 526.39,188.57 527.47,188.57 528.55,188.57 529.63,188.58 530.71,188.58 531.78,188.58 532.86,188.58 533.94,188.59 535.02,188.59 536.10,188.59" fill="none" stroke="#8b1010" stroke-width="1.9" stroke-linejoin="round" />
<circle cx="320.30" cy="88.26" r="1.25" fill="none" stroke="#8b1010" stroke-width="1.0"/>
<circle cx="322.46" cy="95.29" r="1.25" fill="none" stroke="#8b1010" stroke-width="1.0"/>
<circle cx="324.62" cy="116.40" r="1.25" fill="none" stroke="#8b1010" stroke-width="1.0"/>
<circle cx="326.77" cy="129.40" r="1.25" fill="none" stroke="#8b1010" stroke-width="1.0"/>
<circle cx="328.93" cy="136.96" r="1.25" fill="none" stroke="#8b1010" stroke-width="1.0"/>
<circle cx="331.09" cy="144.06" r="1.25" fill="none" stroke="#8b1010" stroke-width="1.0"/>
<circle cx="333.25" cy="148.72" r="1.25" fill="none" stroke="#8b1010" stroke-width="1.0"/>
<circle cx="335.41" cy="155.01" r="1.25" fill="none" stroke="#8b1010" stroke-width="1.0"/>
<circle cx="337.56" cy="157.01" r="1.25" fill="none" stroke="#8b1010" stroke-width="1.0"/>
<circle cx="339.72" cy="162.67" r="1.25" fill="none" stroke="#8b1010" stroke-width="1.0"/>
<circle cx="341.88" cy="167.06" r="1.25" fill="none" stroke="#8b1010" stroke-width="1.0"/>
<circle cx="344.04" cy="170.47" r="1.25" fill="none" stroke="#8b1010" stroke-width="1.0"/>
<circle cx="346.20" cy="173.61" r="1.25" fill="none" stroke="#8b1010" stroke-width="1.0"/>
<circle cx="348.35" cy="174.91" r="1.25" fill="none" stroke="#8b1010" stroke-width="1.0"/>
<circle cx="350.51" cy="177.34" r="1.25" fill="none" stroke="#8b1010" stroke-width="1.0"/>
<circle cx="352.67" cy="179.06" r="1.25" fill="none" stroke="#8b1010" stroke-width="1.0"/>
<circle cx="354.83" cy="180.80" r="1.25" fill="none" stroke="#8b1010" stroke-width="1.0"/>
<circle cx="356.99" cy="181.82" r="1.25" fill="none" stroke="#8b1010" stroke-width="1.0"/>
<circle cx="359.14" cy="183.07" r="1.25" fill="none" stroke="#8b1010" stroke-width="1.0"/>
<circle cx="361.30" cy="184.03" r="1.25" fill="none" stroke="#8b1010" stroke-width="1.0"/>
<circle cx="363.46" cy="184.38" r="1.25" fill="none" stroke="#8b1010" stroke-width="1.0"/>
<circle cx="365.62" cy="184.69" r="1.25" fill="none" stroke="#8b1010" stroke-width="1.0"/>
<circle cx="367.78" cy="184.99" r="1.25" fill="none" stroke="#8b1010" stroke-width="1.0"/>
<circle cx="369.93" cy="185.28" r="1.25" fill="none" stroke="#8b1010" stroke-width="1.0"/>
<circle cx="372.09" cy="185.55" r="1.25" fill="none" stroke="#8b1010" stroke-width="1.0"/>
<circle cx="374.25" cy="185.80" r="1.25" fill="none" stroke="#8b1010" stroke-width="1.0"/>
<polyline points="320.30,90.43 321.38,91.09 322.46,105.84 323.54,104.30 324.62,114.31 325.69,123.25 326.77,118.79 327.85,127.34 328.93,135.60 330.01,137.89 331.09,138.84 332.17,144.68 333.25,145.62 334.33,148.89 335.41,151.99 336.49,155.24 337.56,156.38 338.64,159.64 339.72,162.05 340.80,165.90 341.88,165.55 342.96,167.05 344.04,169.80 345.12,171.35 346.20,171.71 347.28,174.37 348.35,174.73 349.43,175.51 350.51,177.26 351.59,177.78 352.67,178.51 353.75,179.63 354.83,180.28 355.91,180.95 356.99,181.77 358.06,182.29 359.14,182.83 360.22,183.33 361.30,183.84 362.38,184.06 363.46,184.23 364.54,184.39 365.62,184.56 366.70,184.71 367.78,184.86 368.86,185.01 369.93,185.16 371.01,185.29 372.09,185.43 373.17,185.56 374.25,185.69 375.33,185.81 376.41,185.94 377.49,186.04 378.57,186.15 379.65,186.25 380.72,186.35 381.80,186.44 382.88,186.53 383.96,186.63 385.04,186.71 386.12,186.80 387.20,186.89 388.28,186.97 389.36,187.05 390.44,187.13 391.51,187.20 392.59,187.28 393.67,187.35 394.75,187.42 395.83,187.49 396.91,187.55 397.99,187.62 399.07,187.68 400.15,187.73 401.23,187.74 402.30,187.76 403.38,187.77 404.46,187.78 405.54,187.80 406.62,187.81 407.70,187.83 408.78,187.84 409.86,187.85 410.94,187.87 412.01,187.88 413.09,187.90 414.17,187.91 415.25,187.92 416.33,187.94 417.41,187.95 418.49,187.96 419.57,187.98 420.65,187.99 421.73,188.00 422.81,188.02 423.88,188.03 424.96,188.04 426.04,188.05 427.12,188.07 428.20,188.08 429.28,188.09 430.36,188.10 431.44,188.12 432.52,188.13 433.60,188.14 434.67,188.15 435.75,188.17 436.83,188.18 437.91,188.19 438.99,188.20 440.07,188.21 441.15,188.22 442.23,188.24 443.31,188.25 444.38,188.26 445.46,188.27 446.54,188.28 447.62,188.29 448.70,188.30 449.78,188.31 450.86,188.32 451.94,188.32 453.02,188.32 454.10,188.33 455.18,188.33 456.25,188.33 457.33,188.34 458.41,188.34 459.49,188.34 460.57,188.35 461.65,188.35 462.73,188.35 463.81,188.36 464.89,188.36 465.97,188.36 467.04,188.37 468.12,188.37 469.20,188.37 470.28,188.37 471.36,188.38 472.44,188.38 473.52,188.38 474.60,188.39 475.68,188.39 476.75,188.39 477.83,188.40 478.91,188.40 479.99,188.40 481.07,188.41 482.15,188.41 483.23,188.41 484.31,188.41 485.39,188.42 486.47,188.42 487.55,188.42 488.62,188.43 489.70,188.43 490.78,188.43 491.86,188.44 492.94,188.44 494.02,188.44 495.10,188.44 496.18,188.45 497.26,188.45 498.34,188.45 499.41,188.46 500.49,188.46 501.57,188.46 502.65,188.46 503.73,188.47 504.81,188.47 505.89,188.47 506.97,188.48 508.05,188.48 509.12,188.48 510.20,188.49 511.28,188.49 512.36,188.49 513.44,188.49 514.52,188.50 515.60,188.50 516.68,188.50 517.76,188.51 518.84,188.51 519.91,188.51 520.99,188.51 522.07,188.52 523.15,188.52 524.23,188.52 525.31,188.53 526.39,188.53 527.47,188.53 528.55,188.53 529.63,188.54 530.71,188.54 531.78,188.54 532.86,188.54 533.94,188.55 535.02,188.55 536.10,188.55" fill="none" stroke="#a09a10" stroke-width="1.9" stroke-linejoin="round" />
<circle cx="320.30" cy="90.43" r="1.25" fill="none" stroke="#a09a10" stroke-width="1.0"/>
<circle cx="322.46" cy="105.84" r="1.25" fill="none" stroke="#a09a10" stroke-width="1.0"/>
<circle cx="324.62" cy="114.31" r="1.25" fill="none" stroke="#a09a10" stroke-width="1.0"/>
<circle cx="326.77" cy="118.79" r="1.25" fill="none" stroke="#a09a10" stroke-width="1.0"/>
<circle cx="328.93" cy="135.60" r="1.25" fill="none" stroke="#a09a10" stroke-width="1.0"/>
<circle cx="331.09" cy="138.84" r="1.25" fill="none" stroke="#a09a10" stroke-width="1.0"/>
<circle cx="333.25" cy="145.62" r="1.25" fill="none" stroke="#a09a10" stroke-width="1.0"/>
<circle cx="335.41" cy="151.99" r="1.25" fill="none" stroke="#a09a10" stroke-width="1.0"/>
<circle cx="337.56" cy="156.38" r="1.25" fill="none" stroke="#a09a10" stroke-width="1.0"/>
<circle cx="339.72" cy="162.05" r="1.25" fill="none" stroke="#a09a10" stroke-width="1.0"/>
<circle cx="341.88" cy="165.55" r="1.25" fill="none" stroke="#a09a10" stroke-width="1.0"/>
<circle cx="344.04" cy="169.80" r="1.25" fill="none" stroke="#a09a10" stroke-width="1.0"/>
<circle cx="346.20" cy="171.71" r="1.25" fill="none" stroke="#a09a10" stroke-width="1.0"/>
<circle cx="348.35" cy="174.73" r="1.25" fill="none" stroke="#a09a10" stroke-width="1.0"/>
<circle cx="350.51" cy="177.26" r="1.25" fill="none" stroke="#a09a10" stroke-width="1.0"/>
<circle cx="352.67" cy="178.51" r="1.25" fill="none" stroke="#a09a10" stroke-width="1.0"/>
<circle cx="354.83" cy="180.28" r="1.25" fill="none" stroke="#a09a10" stroke-width="1.0"/>
<circle cx="356.99" cy="181.77" r="1.25" fill="none" stroke="#a09a10" stroke-width="1.0"/>
<circle cx="359.14" cy="182.83" r="1.25" fill="none" stroke="#a09a10" stroke-width="1.0"/>
<circle cx="361.30" cy="183.84" r="1.25" fill="none" stroke="#a09a10" stroke-width="1.0"/>
<circle cx="363.46" cy="184.23" r="1.25" fill="none" stroke="#a09a10" stroke-width="1.0"/>
<circle cx="365.62" cy="184.56" r="1.25" fill="none" stroke="#a09a10" stroke-width="1.0"/>
<circle cx="367.78" cy="184.86" r="1.25" fill="none" stroke="#a09a10" stroke-width="1.0"/>
<circle cx="369.93" cy="185.16" r="1.25" fill="none" stroke="#a09a10" stroke-width="1.0"/>
<circle cx="372.09" cy="185.43" r="1.25" fill="none" stroke="#a09a10" stroke-width="1.0"/>
<circle cx="374.25" cy="185.69" r="1.25" fill="none" stroke="#a09a10" stroke-width="1.0"/>
<polyline points="320.30,39.25 321.38,50.58 322.46,59.25 323.54,80.61 324.62,99.51 325.69,107.06 326.77,107.88 327.85,115.22 328.93,122.12 330.01,132.44 331.09,132.27 332.17,137.46 333.25,140.53 334.33,146.61 335.41,151.16 336.49,153.94 337.56,159.07 338.64,159.54 339.72,162.75 340.80,165.80 341.88,166.74 342.96,168.58 344.04,171.61 345.12,172.80 346.20,173.88 347.28,175.23 348.35,176.57 349.43,177.78 350.51,178.22 351.59,179.00 352.67,179.95 353.75,180.55 354.83,180.83 355.91,181.42 356.99,181.91 358.06,182.43 359.14,182.95 360.22,183.33 361.30,183.76 362.38,183.95 363.46,184.11 364.54,184.27 365.62,184.43 366.70,184.59 367.78,184.74 368.86,184.89 369.93,185.03 371.01,185.17 372.09,185.31 373.17,185.44 374.25,185.57 375.33,185.69 376.41,185.82 377.49,185.92 378.57,186.02 379.65,186.12 380.72,186.22 381.80,186.32 382.88,186.41 383.96,186.50 385.04,186.59 386.12,186.68 387.20,186.76 388.28,186.84 389.36,186.92 390.44,187.00 391.51,187.08 392.59,187.15 393.67,187.23 394.75,187.30 395.83,187.37 396.91,187.43 397.99,187.50 399.07,187.56 400.15,187.61 401.23,187.62 402.30,187.64 403.38,187.65 404.46,187.66 405.54,187.68 406.62,187.69 407.70,187.71 408.78,187.72 409.86,187.73 410.94,187.75 412.01,187.76 413.09,187.78 414.17,187.79 415.25,187.80 416.33,187.82 417.41,187.83 418.49,187.84 419.57,187.86 420.65,187.87 421.73,187.88 422.81,187.90 423.88,187.91 424.96,187.92 426.04,187.93 427.12,187.95 428.20,187.96 429.28,187.97 430.36,187.98 431.44,188.00 432.52,188.01 433.60,188.02 434.67,188.03 435.75,188.05 436.83,188.06 437.91,188.07 438.99,188.08 440.07,188.09 441.15,188.10 442.23,188.12 443.31,188.13 444.38,188.14 445.46,188.15 446.54,188.16 447.62,188.17 448.70,188.18 449.78,188.20 450.86,188.20 451.94,188.20 453.02,188.21 454.10,188.21 455.18,188.21 456.25,188.21 457.33,188.22 458.41,188.22 459.49,188.22 460.57,188.23 461.65,188.23 462.73,188.23 463.81,188.24 464.89,188.24 465.97,188.24 467.04,188.25 468.12,188.25 469.20,188.25 470.28,188.26 471.36,188.26 472.44,188.26 473.52,188.26 474.60,188.27 475.68,188.27 476.75,188.27 477.83,188.28 478.91,188.28 479.99,188.28 481.07,188.29 482.15,188.29 483.23,188.29 484.31,188.30 485.39,188.30 486.47,188.30 487.55,188.30 488.62,188.31 489.70,188.31 490.78,188.31 491.86,188.32 492.94,188.32 494.02,188.32 495.10,188.32 496.18,188.33 497.26,188.33 498.34,188.33 499.41,188.34 500.49,188.34 501.57,188.34 502.65,188.35 503.73,188.35 504.81,188.35 505.89,188.35 506.97,188.36 508.05,188.36 509.12,188.36 510.20,188.37 511.28,188.37 512.36,188.37 513.44,188.37 514.52,188.38 515.60,188.38 516.68,188.38 517.76,188.39 518.84,188.39 519.91,188.39 520.99,188.39 522.07,188.40 523.15,188.40 524.23,188.40 525.31,188.41 526.39,188.41 527.47,188.41 528.55,188.41 529.63,188.42 530.71,188.42 531.78,188.42 532.86,188.43 533.94,188.43 535.02,188.43 536.10,188.43" fill="none" stroke="#1f3fff" stroke-width="1.9" stroke-linejoin="round" />
<circle cx="320.30" cy="39.25" r="1.25" fill="none" stroke="#1f3fff" stroke-width="1.0"/>
<circle cx="322.46" cy="59.25" r="1.25" fill="none" stroke="#1f3fff" stroke-width="1.0"/>
<circle cx="324.62" cy="99.51" r="1.25" fill="none" stroke="#1f3fff" stroke-width="1.0"/>
<circle cx="326.77" cy="107.88" r="1.25" fill="none" stroke="#1f3fff" stroke-width="1.0"/>
<circle cx="328.93" cy="122.12" r="1.25" fill="none" stroke="#1f3fff" stroke-width="1.0"/>
<circle cx="331.09" cy="132.27" r="1.25" fill="none" stroke="#1f3fff" stroke-width="1.0"/>
<circle cx="333.25" cy="140.53" r="1.25" fill="none" stroke="#1f3fff" stroke-width="1.0"/>
<circle cx="335.41" cy="151.16" r="1.25" fill="none" stroke="#1f3fff" stroke-width="1.0"/>
<circle cx="337.56" cy="159.07" r="1.25" fill="none" stroke="#1f3fff" stroke-width="1.0"/>
<circle cx="339.72" cy="162.75" r="1.25" fill="none" stroke="#1f3fff" stroke-width="1.0"/>
<circle cx="341.88" cy="166.74" r="1.25" fill="none" stroke="#1f3fff" stroke-width="1.0"/>
<circle cx="344.04" cy="171.61" r="1.25" fill="none" stroke="#1f3fff" stroke-width="1.0"/>
<circle cx="346.20" cy="173.88" r="1.25" fill="none" stroke="#1f3fff" stroke-width="1.0"/>
<circle cx="348.35" cy="176.57" r="1.25" fill="none" stroke="#1f3fff" stroke-width="1.0"/>
<circle cx="350.51" cy="178.22" r="1.25" fill="none" stroke="#1f3fff" stroke-width="1.0"/>
<circle cx="352.67" cy="179.95" r="1.25" fill="none" stroke="#1f3fff" stroke-width="1.0"/>
<circle cx="354.83" cy="180.83" r="1.25" fill="none" stroke="#1f3fff" stroke-width="1.0"/>
<circle cx="356.99" cy="181.91" r="1.25" fill="none" stroke="#1f3fff" stroke-width="1.0"/>
<circle cx="359.14" cy="182.95" r="1.25" fill="none" stroke="#1f3fff" stroke-width="1.0"/>
<circle cx="361.30" cy="183.76" r="1.25" fill="none" stroke="#1f3fff" stroke-width="1.0"/>
<circle cx="363.46" cy="184.11" r="1.25" fill="none" stroke="#1f3fff" stroke-width="1.0"/>
<circle cx="365.62" cy="184.43" r="1.25" fill="none" stroke="#1f3fff" stroke-width="1.0"/>
<circle cx="367.78" cy="184.74" r="1.25" fill="none" stroke="#1f3fff" stroke-width="1.0"/>
<circle cx="369.93" cy="185.03" r="1.25" fill="none" stroke="#1f3fff" stroke-width="1.0"/>
<circle cx="372.09" cy="185.31" r="1.25" fill="none" stroke="#1f3fff" stroke-width="1.0"/>
<circle cx="374.25" cy="185.57" r="1.25" fill="none" stroke="#1f3fff" stroke-width="1.0"/>
</g>
<line x1="316.80" y1="190.10" x2="320.30" y2="190.10" stroke="#000" stroke-width="1.3" />
<text x="315.80" y="193.80" font-size="10.5" text-anchor="end" fill="#000" font-family="Liberation Serif" font-weight="bold">0</text>
<line x1="316.80" y1="142.50" x2="320.30" y2="142.50" stroke="#000" stroke-width="1.3" />
<text x="315.80" y="146.20" font-size="10.5" text-anchor="end" fill="#000" font-family="Liberation Serif" font-weight="bold">2000</text>
<line x1="316.80" y1="94.90" x2="320.30" y2="94.90" stroke="#000" stroke-width="1.3" />
<text x="315.80" y="98.60" font-size="10.5" text-anchor="end" fill="#000" font-family="Liberation Serif" font-weight="bold">4000</text>
<line x1="316.80" y1="47.30" x2="320.30" y2="47.30" stroke="#000" stroke-width="1.3" />
<text x="315.80" y="51.00" font-size="10.5" text-anchor="end" fill="#000" font-family="Liberation Serif" font-weight="bold">6000</text>
<line x1="318.30" y1="166.30" x2="320.30" y2="166.30" stroke="#000" stroke-width="1" />
<line x1="318.30" y1="118.70" x2="320.30" y2="118.70" stroke="#000" stroke-width="1" />
<line x1="318.30" y1="71.10" x2="320.30" y2="71.10" stroke="#000" stroke-width="1" />
<line x1="320.30" y1="190.10" x2="320.30" y2="193.60" stroke="#000" stroke-width="1.3" />
<text x="321.20" y="207.00" font-size="12" text-anchor="middle" fill="#000" font-family="Liberation Serif" font-weight="bold">10<tspan font-size="7" dx="0.8" dy="-6.6">2</tspan></text>
<line x1="333.29" y1="190.10" x2="333.29" y2="192.10" stroke="#000" stroke-width="0.9" />
<line x1="340.89" y1="190.10" x2="340.89" y2="192.10" stroke="#000" stroke-width="0.9" />
<line x1="346.28" y1="190.10" x2="346.28" y2="192.10" stroke="#000" stroke-width="0.9" />
<line x1="350.47" y1="190.10" x2="350.47" y2="192.10" stroke="#000" stroke-width="0.9" />
<line x1="353.89" y1="190.10" x2="353.89" y2="192.10" stroke="#000" stroke-width="0.9" />
<line x1="356.77" y1="190.10" x2="356.77" y2="192.10" stroke="#000" stroke-width="0.9" />
<line x1="359.28" y1="190.10" x2="359.28" y2="192.10" stroke="#000" stroke-width="0.9" />
<line x1="361.49" y1="190.10" x2="361.49" y2="192.10" stroke="#000" stroke-width="0.9" />
<line x1="363.46" y1="190.10" x2="363.46" y2="193.60" stroke="#000" stroke-width="1.3" />
<text x="364.36" y="207.00" font-size="12" text-anchor="middle" fill="#000" font-family="Liberation Serif" font-weight="bold">10<tspan font-size="7" dx="0.8" dy="-6.6">3</tspan></text>
<line x1="376.45" y1="190.10" x2="376.45" y2="192.10" stroke="#000" stroke-width="0.9" />
<line x1="384.05" y1="190.10" x2="384.05" y2="192.10" stroke="#000" stroke-width="0.9" />
<line x1="389.44" y1="190.10" x2="389.44" y2="192.10" stroke="#000" stroke-width="0.9" />
<line x1="393.63" y1="190.10" x2="393.63" y2="192.10" stroke="#000" stroke-width="0.9" />
<line x1="397.05" y1="190.10" x2="397.05" y2="192.10" stroke="#000" stroke-width="0.9" />
<line x1="399.93" y1="190.10" x2="399.93" y2="192.10" stroke="#000" stroke-width="0.9" />
<line x1="402.44" y1="190.10" x2="402.44" y2="192.10" stroke="#000" stroke-width="0.9" />
<line x1="404.65" y1="190.10" x2="404.65" y2="192.10" stroke="#000" stroke-width="0.9" />
<line x1="406.62" y1="190.10" x2="406.62" y2="193.60" stroke="#000" stroke-width="1.3" />
<text x="407.52" y="207.00" font-size="12" text-anchor="middle" fill="#000" font-family="Liberation Serif" font-weight="bold">10<tspan font-size="7" dx="0.8" dy="-6.6">4</tspan></text>
<line x1="419.61" y1="190.10" x2="419.61" y2="192.10" stroke="#000" stroke-width="0.9" />
<line x1="427.21" y1="190.10" x2="427.21" y2="192.10" stroke="#000" stroke-width="0.9" />
<line x1="432.60" y1="190.10" x2="432.60" y2="192.10" stroke="#000" stroke-width="0.9" />
<line x1="436.79" y1="190.10" x2="436.79" y2="192.10" stroke="#000" stroke-width="0.9" />
<line x1="440.21" y1="190.10" x2="440.21" y2="192.10" stroke="#000" stroke-width="0.9" />
<line x1="443.09" y1="190.10" x2="443.09" y2="192.10" stroke="#000" stroke-width="0.9" />
<line x1="445.60" y1="190.10" x2="445.60" y2="192.10" stroke="#000" stroke-width="0.9" />
<line x1="447.81" y1="190.10" x2="447.81" y2="192.10" stroke="#000" stroke-width="0.9" />
<line x1="449.78" y1="190.10" x2="449.78" y2="193.60" stroke="#000" stroke-width="1.3" />
<text x="450.68" y="207.00" font-size="12" text-anchor="middle" fill="#000" font-family="Liberation Serif" font-weight="bold">10<tspan font-size="7" dx="0.8" dy="-6.6">5</tspan></text>
<line x1="462.77" y1="190.10" x2="462.77" y2="192.10" stroke="#000" stroke-width="0.9" />
<line x1="470.37" y1="190.10" x2="470.37" y2="192.10" stroke="#000" stroke-width="0.9" />
<line x1="475.76" y1="190.10" x2="475.76" y2="192.10" stroke="#000" stroke-width="0.9" />
<line x1="479.95" y1="190.10" x2="479.95" y2="192.10" stroke="#000" stroke-width="0.9" />
<line x1="483.37" y1="190.10" x2="483.37" y2="192.10" stroke="#000" stroke-width="0.9" />
<line x1="486.25" y1="190.10" x2="486.25" y2="192.10" stroke="#000" stroke-width="0.9" />
<line x1="488.76" y1="190.10" x2="488.76" y2="192.10" stroke="#000" stroke-width="0.9" />
<line x1="490.97" y1="190.10" x2="490.97" y2="192.10" stroke="#000" stroke-width="0.9" />
<line x1="492.94" y1="190.10" x2="492.94" y2="193.60" stroke="#000" stroke-width="1.3" />
<text x="493.84" y="207.00" font-size="12" text-anchor="middle" fill="#000" font-family="Liberation Serif" font-weight="bold">10<tspan font-size="7" dx="0.8" dy="-6.6">6</tspan></text>
<line x1="505.93" y1="190.10" x2="505.93" y2="192.10" stroke="#000" stroke-width="0.9" />
<line x1="513.53" y1="190.10" x2="513.53" y2="192.10" stroke="#000" stroke-width="0.9" />
<line x1="518.92" y1="190.10" x2="518.92" y2="192.10" stroke="#000" stroke-width="0.9" />
<line x1="523.11" y1="190.10" x2="523.11" y2="192.10" stroke="#000" stroke-width="0.9" />
<line x1="526.53" y1="190.10" x2="526.53" y2="192.10" stroke="#000" stroke-width="0.9" />
<line x1="529.41" y1="190.10" x2="529.41" y2="192.10" stroke="#000" stroke-width="0.9" />
<line x1="531.92" y1="190.10" x2="531.92" y2="192.10" stroke="#000" stroke-width="0.9" />
<line x1="534.13" y1="190.10" x2="534.13" y2="192.10" stroke="#000" stroke-width="0.9" />
<line x1="536.10" y1="190.10" x2="536.10" y2="193.60" stroke="#000" stroke-width="1.3" />
<text x="537.00" y="207.00" font-size="12" text-anchor="middle" fill="#000" font-family="Liberation Serif" font-weight="bold">10<tspan font-size="7" dx="0.8" dy="-6.6">7</tspan></text>
<rect x="320.30" y="23.70" width="215.80" height="166.40" fill="none" stroke="#000" stroke-width="2" />
<text x="285.80" y="105.20" font-size="12.6" text-anchor="middle" fill="#000" transform="rotate(-90 285.80 105.20)" font-family="Liberation Serif" font-weight="bold">Dielectric constant (<tspan font-size="14.5">&#949;</tspan><tspan font-size="9" dy="3.3">r</tspan><tspan dy="-3.3">)</tspan></text>
<text x="429.50" y="219.70" font-size="12.5" text-anchor="middle" fill="#000" font-family="Liberation Serif" font-weight="bold">Frequency (Hz)</text>
<rect x="357.80" y="161.90" width="10.90" height="32.30" fill="none" stroke="#ff2020" stroke-width="1" />
<line x1="359.20" y1="161.50" x2="368.65" y2="129.50" stroke="#000" stroke-width="1.4" />
<polygon points="370.6,122.3 365.29,128.05 372.01,130.0" fill="#000"/>
<rect x="349.20" y="30.50" width="107.30" height="83.00" fill="url(#g1)" stroke="none" stroke-width="1" />
<polyline points="349.20,109.05 369.05,109.24 408.75,109.15 449.53,109.42 456.50,109.80" fill="none" stroke="#000000" stroke-width="1.8" stroke-linejoin="round" />
<circle cx="369.05" cy="109.24" r="1.3" fill="#000000"/>
<circle cx="408.75" cy="109.15" r="1.3" fill="#000000"/>
<circle cx="449.53" cy="109.42" r="1.3" fill="#000000"/>
<polyline points="349.20,96.83 369.05,97.01 408.75,97.85 449.53,99.05 456.50,99.42" fill="none" stroke="#ff3fa8" stroke-width="1.8" stroke-linejoin="round" />
<circle cx="369.05" cy="97.01" r="1.3" fill="#ff3fa8"/>
<circle cx="408.75" cy="97.85" r="1.3" fill="#ff3fa8"/>
<circle cx="449.53" cy="99.05" r="1.3" fill="#ff3fa8"/>
<polyline points="349.20,83.12 369.05,84.60 408.75,85.90 449.53,87.56 456.50,87.94" fill="none" stroke="#1e9a1e" stroke-width="1.8" stroke-linejoin="round" />
<circle cx="369.05" cy="84.60" r="1.3" fill="#1e9a1e"/>
<circle cx="408.75" cy="85.90" r="1.3" fill="#1e9a1e"/>
<circle cx="449.53" cy="87.56" r="1.3" fill="#1e9a1e"/>
<polyline points="349.20,54.96 369.05,58.67 408.75,62.19 449.53,66.08 456.50,66.45" fill="none" stroke="#1c1ca0" stroke-width="1.8" stroke-linejoin="round" />
<circle cx="369.05" cy="58.67" r="1.3" fill="#1c1ca0"/>
<circle cx="408.75" cy="62.19" r="1.3" fill="#1c1ca0"/>
<circle cx="449.53" cy="66.08" r="1.3" fill="#1c1ca0"/>
<polyline points="349.20,41.62 369.05,44.59 408.75,49.03 449.53,53.85 456.50,54.22" fill="none" stroke="#ff1e1e" stroke-width="1.8" stroke-linejoin="round" />
<circle cx="369.05" cy="44.59" r="1.3" fill="#ff1e1e"/>
<circle cx="408.75" cy="49.03" r="1.3" fill="#ff1e1e"/>
<circle cx="449.53" cy="53.85" r="1.3" fill="#ff1e1e"/>
<polyline points="349.20,36.81 369.05,39.77 408.75,45.51 449.53,51.63 456.50,52.00" fill="none" stroke="#9a3aa8" stroke-width="1.8" stroke-linejoin="round" />
<circle cx="369.05" cy="39.77" r="1.3" fill="#9a3aa8"/>
<circle cx="408.75" cy="45.51" r="1.3" fill="#9a3aa8"/>
<circle cx="449.53" cy="51.63" r="1.3" fill="#9a3aa8"/>
<polyline points="349.20,38.29 369.05,40.88 408.75,46.44 449.53,52.37 456.50,52.74" fill="none" stroke="#8b1010" stroke-width="1.8" stroke-linejoin="round" />
<circle cx="369.05" cy="40.88" r="1.3" fill="#8b1010"/>
<circle cx="408.75" cy="46.44" r="1.3" fill="#8b1010"/>
<circle cx="449.53" cy="52.37" r="1.3" fill="#8b1010"/>
<polyline points="349.20,35.70 369.05,38.29 408.75,44.03 449.53,50.14 456.50,50.52" fill="none" stroke="#a09a10" stroke-width="1.8" stroke-linejoin="round" />
<circle cx="369.05" cy="38.29" r="1.3" fill="#a09a10"/>
<circle cx="408.75" cy="44.03" r="1.3" fill="#a09a10"/>
<circle cx="449.53" cy="50.14" r="1.3" fill="#a09a10"/>
<polyline points="349.20,33.84 369.05,35.32 408.75,41.99 449.53,49.03 456.50,49.40" fill="none" stroke="#1f3fff" stroke-width="1.8" stroke-linejoin="round" />
<circle cx="369.05" cy="35.32" r="1.3" fill="#1f3fff"/>
<circle cx="408.75" cy="41.99" r="1.3" fill="#1f3fff"/>
<circle cx="449.53" cy="49.03" r="1.3" fill="#1f3fff"/>
<rect x="349.20" y="30.50" width="107.30" height="83.00" fill="none" stroke="#ff1a1a" stroke-width="1.5" />
<line x1="347.20" y1="113.50" x2="349.20" y2="113.50" stroke="#ff1a1a" stroke-width="1" />
<text x="347.50" y="116.70" font-size="9" text-anchor="end" fill="#ff1a1a" font-family="Liberation Serif" font-weight="bold">50</text>
<line x1="347.20" y1="94.97" x2="349.20" y2="94.97" stroke="#ff1a1a" stroke-width="1" />
<text x="347.50" y="98.17" font-size="9" text-anchor="end" fill="#ff1a1a" font-family="Liberation Serif" font-weight="bold">100</text>
<line x1="347.20" y1="76.45" x2="349.20" y2="76.45" stroke="#ff1a1a" stroke-width="1" />
<text x="347.50" y="79.65" font-size="9" text-anchor="end" fill="#ff1a1a" font-family="Liberation Serif" font-weight="bold">150</text>
<line x1="347.20" y1="57.92" x2="349.20" y2="57.92" stroke="#ff1a1a" stroke-width="1" />
<text x="347.50" y="61.12" font-size="9" text-anchor="end" fill="#ff1a1a" font-family="Liberation Serif" font-weight="bold">200</text>
<line x1="347.20" y1="39.40" x2="349.20" y2="39.40" stroke="#ff1a1a" stroke-width="1" />
<text x="347.50" y="42.60" font-size="9" text-anchor="end" fill="#ff1a1a" font-family="Liberation Serif" font-weight="bold">250</text>
<line x1="349.20" y1="113.50" x2="349.20" y2="115.50" stroke="#ff1a1a" stroke-width="1" />
<text x="349.70" y="122.80" font-size="9.2" text-anchor="middle" fill="#ff1a1a" font-family="Liberation Serif" font-weight="bold">900</text>
<line x1="376.02" y1="113.50" x2="376.02" y2="115.50" stroke="#ff1a1a" stroke-width="1" />
<text x="378.02" y="122.80" font-size="9.2" text-anchor="middle" fill="#ff1a1a" font-family="Liberation Serif" font-weight="bold">950</text>
<line x1="402.85" y1="113.50" x2="402.85" y2="115.50" stroke="#ff1a1a" stroke-width="1" />
<text x="405.65" y="122.80" font-size="9.2" text-anchor="middle" fill="#ff1a1a" font-family="Liberation Serif" font-weight="bold">1000</text>
<line x1="429.68" y1="113.50" x2="429.68" y2="115.50" stroke="#ff1a1a" stroke-width="1" />
<text x="431.88" y="122.80" font-size="9.2" text-anchor="middle" fill="#ff1a1a" font-family="Liberation Serif" font-weight="bold">1050</text>
<line x1="456.50" y1="113.50" x2="456.50" y2="115.50" stroke="#ff1a1a" stroke-width="1" />
<text x="457.50" y="122.80" font-size="9.2" text-anchor="middle" fill="#ff1a1a" font-family="Liberation Serif" font-weight="bold">1100</text>
<text x="406.50" y="135.80" font-size="9" text-anchor="middle" fill="#ff1a1a" font-family="Liberation Serif" font-weight="bold">Frequency (Hz)</text>
<text x="330.50" y="74.50" font-size="14" text-anchor="middle" fill="#ff1a1a" transform="rotate(-90 330.50 74.50)" font-family="Liberation Serif" font-weight="bold">&#949;<tspan font-size="9" dy="4">r</tspan></text>
<line x1="463.30" y1="29.30" x2="482.70" y2="29.30" stroke="#000000" stroke-width="1.5" />
<circle cx="473" cy="29.30" r="1.2" fill="#000000"/>
<text x="485.50" y="32.30" font-size="8.3" text-anchor="start" fill="#000" font-family="Liberation Serif" font-weight="bold">Dark</text>
<line x1="463.30" y1="41.35" x2="482.70" y2="41.35" stroke="#ff3fa8" stroke-width="1.5" />
<circle cx="473" cy="41.35" r="1.2" fill="#ff3fa8"/>
<text x="485.50" y="44.35" font-size="8.3" text-anchor="start" fill="#000" font-family="Liberation Serif" font-weight="bold">0.06 mW/cm<tspan font-size="5.6" dx="0.6" dy="-4.3">2</tspan></text>
<line x1="463.30" y1="53.40" x2="482.70" y2="53.40" stroke="#1e9a1e" stroke-width="1.5" />
<circle cx="473" cy="53.40" r="1.2" fill="#1e9a1e"/>
<text x="485.50" y="56.40" font-size="8.3" text-anchor="start" fill="#000" font-family="Liberation Serif" font-weight="bold">0.27 mW/cm<tspan font-size="5.6" dx="0.6" dy="-4.3">2</tspan></text>
<line x1="463.30" y1="65.45" x2="482.70" y2="65.45" stroke="#1c1ca0" stroke-width="1.5" />
<circle cx="473" cy="65.45" r="1.2" fill="#1c1ca0"/>
<text x="485.50" y="68.45" font-size="8.3" text-anchor="start" fill="#000" font-family="Liberation Serif" font-weight="bold">0.68 mW/cm<tspan font-size="5.6" dx="0.6" dy="-4.3">2</tspan></text>
<line x1="463.30" y1="77.50" x2="482.70" y2="77.50" stroke="#ff1e1e" stroke-width="1.5" />
<circle cx="473" cy="77.50" r="1.2" fill="#ff1e1e"/>
<text x="485.50" y="80.50" font-size="8.3" text-anchor="start" fill="#000" font-family="Liberation Serif" font-weight="bold">1.25 mW/cm<tspan font-size="5.6" dx="0.6" dy="-4.3">2</tspan></text>
<line x1="463.30" y1="89.55" x2="482.70" y2="89.55" stroke="#9a3aa8" stroke-width="1.5" />
<circle cx="473" cy="89.55" r="1.2" fill="#9a3aa8"/>
<text x="485.50" y="92.55" font-size="8.3" text-anchor="start" fill="#000" font-family="Liberation Serif" font-weight="bold">1.98 mW/cm<tspan font-size="5.6" dx="0.6" dy="-4.3">2</tspan></text>
<line x1="463.30" y1="101.60" x2="482.70" y2="101.60" stroke="#8b1010" stroke-width="1.5" />
<circle cx="473" cy="101.60" r="1.2" fill="#8b1010"/>
<text x="485.50" y="104.60" font-size="8.3" text-anchor="start" fill="#000" font-family="Liberation Serif" font-weight="bold">2.60 mW/cm<tspan font-size="5.6" dx="0.6" dy="-4.3">2</tspan></text>
<line x1="463.30" y1="113.65" x2="482.70" y2="113.65" stroke="#a09a10" stroke-width="1.5" />
<circle cx="473" cy="113.65" r="1.2" fill="#a09a10"/>
<text x="485.50" y="116.65" font-size="8.3" text-anchor="start" fill="#000" font-family="Liberation Serif" font-weight="bold">3.08 mW/cm<tspan font-size="5.6" dx="0.6" dy="-4.3">2</tspan></text>
<line x1="463.30" y1="125.70" x2="482.70" y2="125.70" stroke="#1f3fff" stroke-width="1.5" />
<circle cx="473" cy="125.70" r="1.2" fill="#1f3fff"/>
<text x="485.50" y="128.70" font-size="8.3" text-anchor="start" fill="#000" font-family="Liberation Serif" font-weight="bold">3.23 mW/cm<tspan font-size="5.6" dx="0.6" dy="-4.3">2</tspan></text>
<g clip-path="url(#cpc)">
<polyline points="38.10,401.70 39.16,401.28 40.22,401.34 41.27,400.87 42.33,400.37 43.39,400.05 44.45,399.72 45.50,399.65 46.56,399.61 47.62,399.03 48.68,399.03 49.73,399.08 50.79,399.22 51.85,399.24 52.91,399.47 53.97,399.60 55.02,399.83 56.08,399.98 57.14,400.22 58.20,400.61 59.25,400.46 60.31,400.53 61.37,400.79 62.43,401.04 63.49,401.11 64.54,401.43 65.60,401.66 66.66,401.60 67.72,401.86 68.77,401.88 69.83,402.17 70.89,402.42 71.95,402.44 73.00,402.44 74.06,402.67 75.12,402.83 76.18,402.93 77.24,403.00 78.29,403.12 79.35,403.24 80.41,403.32 81.47,403.42 82.52,403.51 83.58,403.59 84.64,403.67 85.70,403.74 86.76,403.81 87.81,403.89 88.87,403.95 89.93,404.02 90.99,404.04 92.04,404.07 93.10,404.09 94.16,404.11 95.22,404.13 96.28,404.15 97.33,404.18 98.39,404.20 99.45,404.22 100.51,404.24 101.56,404.26 102.62,404.28 103.68,404.30 104.74,404.32 105.79,404.34 106.85,404.36 107.91,404.38 108.97,404.39 110.03,404.41 111.08,404.43 112.14,404.45 113.20,404.47 114.26,404.49 115.31,404.50 116.37,404.52 117.43,404.54 118.49,404.55 119.55,404.57 120.60,404.59 121.66,404.60 122.72,404.62 123.78,404.64 124.83,404.65 125.89,404.67 126.95,404.68 128.01,404.70 129.06,404.71 130.12,404.73 131.18,404.74 132.24,404.75 133.30,404.76 134.35,404.77 135.41,404.78 136.47,404.79 137.53,404.80 138.58,404.81 139.64,404.82 140.70,404.83 141.76,404.83 142.81,404.84 143.87,404.85 144.93,404.86 145.99,404.87 147.05,404.88 148.10,404.89 149.16,404.90 150.22,404.90 151.28,404.91 152.33,404.92 153.39,404.93 154.45,404.94 155.51,404.94 156.57,404.95 157.62,404.96 158.68,404.97 159.74,404.98 160.80,404.98 161.85,404.99 162.91,405.00 163.97,405.01 165.03,405.02 166.09,405.02 167.14,405.03 168.20,405.04 169.26,405.04 170.32,405.05 171.37,405.06 172.43,405.07 173.49,405.07 174.55,405.08 175.60,405.09 176.66,405.09 177.72,405.10 178.78,405.10 179.84,405.09 180.89,405.09 181.95,405.09 183.01,405.08 184.07,405.08 185.12,405.08 186.18,405.07 187.24,405.07 188.30,405.06 189.36,405.06 190.41,405.06 191.47,405.05 192.53,405.05 193.59,405.04 194.64,405.04 195.70,405.04 196.76,405.03 197.82,405.03 198.87,405.02 199.93,405.02 200.99,405.02 202.05,405.01 203.11,405.01 204.16,405.00 205.22,405.00 206.28,405.00 207.34,404.99 208.39,404.99 209.45,404.98 210.51,404.98 211.57,404.97 212.63,404.97 213.68,404.97 214.74,404.96 215.80,404.96 216.86,404.95 217.91,404.95 218.97,404.94 220.03,404.94 221.09,404.94 222.14,404.93 223.20,404.93 224.26,404.92 225.32,404.91 226.38,404.90 227.43,404.88 228.49,404.87 229.55,404.86 230.61,404.84 231.66,404.83 232.72,404.82 233.78,404.80 234.84,404.79 235.90,404.77 236.95,404.76 238.01,404.75 239.07,404.73 240.13,404.72 241.18,404.70 242.24,404.69 243.30,404.67 244.36,404.66 245.41,404.64 246.47,404.62 247.53,404.61 248.59,404.59 249.65,404.58 250.70,404.56 251.76,404.54 252.82,404.52 253.88,404.51 254.93,404.49 255.99,404.47 257.05,404.45 258.11,404.44 259.17,404.42 260.22,404.40 261.28,404.38 262.34,404.36 263.40,404.34 264.45,404.32 265.51,404.30 266.57,404.28 267.63,404.26 268.68,404.24 269.74,404.22 270.80,404.20" fill="none" stroke="#000000" stroke-width="1.9" stroke-linejoin="round" />
<circle cx="38.10" cy="401.70" r="1.25" fill="none" stroke="#000000" stroke-width="1.0"/>
<circle cx="40.22" cy="401.34" r="1.25" fill="none" stroke="#000000" stroke-width="1.0"/>
<circle cx="42.33" cy="400.37" r="1.25" fill="none" stroke="#000000" stroke-width="1.0"/>
<circle cx="44.45" cy="399.72" r="1.25" fill="none" stroke="#000000" stroke-width="1.0"/>
<circle cx="46.56" cy="399.61" r="1.25" fill="none" stroke="#000000" stroke-width="1.0"/>
<circle cx="48.68" cy="399.03" r="1.25" fill="none" stroke="#000000" stroke-width="1.0"/>
<circle cx="50.79" cy="399.22" r="1.25" fill="none" stroke="#000000" stroke-width="1.0"/>
<circle cx="52.91" cy="399.47" r="1.25" fill="none" stroke="#000000" stroke-width="1.0"/>
<circle cx="55.02" cy="399.83" r="1.25" fill="none" stroke="#000000" stroke-width="1.0"/>
<circle cx="57.14" cy="400.22" r="1.25" fill="none" stroke="#000000" stroke-width="1.0"/>
<circle cx="59.25" cy="400.46" r="1.25" fill="none" stroke="#000000" stroke-width="1.0"/>
<circle cx="61.37" cy="400.79" r="1.25" fill="none" stroke="#000000" stroke-width="1.0"/>
<circle cx="63.49" cy="401.11" r="1.25" fill="none" stroke="#000000" stroke-width="1.0"/>
<circle cx="65.60" cy="401.66" r="1.25" fill="none" stroke="#000000" stroke-width="1.0"/>
<circle cx="67.72" cy="401.86" r="1.25" fill="none" stroke="#000000" stroke-width="1.0"/>
<circle cx="69.83" cy="402.17" r="1.25" fill="none" stroke="#000000" stroke-width="1.0"/>
<circle cx="71.95" cy="402.44" r="1.25" fill="none" stroke="#000000" stroke-width="1.0"/>
<circle cx="74.06" cy="402.67" r="1.25" fill="none" stroke="#000000" stroke-width="1.0"/>
<circle cx="76.18" cy="402.93" r="1.25" fill="none" stroke="#000000" stroke-width="1.0"/>
<circle cx="78.29" cy="403.12" r="1.25" fill="none" stroke="#000000" stroke-width="1.0"/>
<circle cx="80.41" cy="403.32" r="1.25" fill="none" stroke="#000000" stroke-width="1.0"/>
<circle cx="82.52" cy="403.51" r="1.25" fill="none" stroke="#000000" stroke-width="1.0"/>
<circle cx="84.64" cy="403.67" r="1.25" fill="none" stroke="#000000" stroke-width="1.0"/>
<circle cx="86.76" cy="403.81" r="1.25" fill="none" stroke="#000000" stroke-width="1.0"/>
<circle cx="88.87" cy="403.95" r="1.25" fill="none" stroke="#000000" stroke-width="1.0"/>
<circle cx="90.99" cy="404.04" r="1.25" fill="none" stroke="#000000" stroke-width="1.0"/>
<circle cx="93.10" cy="404.09" r="1.25" fill="none" stroke="#000000" stroke-width="1.0"/>
<circle cx="95.22" cy="404.13" r="1.25" fill="none" stroke="#000000" stroke-width="1.0"/>
<circle cx="97.33" cy="404.18" r="1.25" fill="none" stroke="#000000" stroke-width="1.0"/>
<circle cx="99.45" cy="404.22" r="1.25" fill="none" stroke="#000000" stroke-width="1.0"/>
<circle cx="101.56" cy="404.26" r="1.25" fill="none" stroke="#000000" stroke-width="1.0"/>
<polyline points="38.10,377.95 39.16,378.29 40.22,377.48 41.27,380.00 42.33,377.79 43.39,376.39 44.45,378.35 45.50,376.83 46.56,377.93 47.62,378.16 48.68,380.90 49.73,379.15 50.79,381.87 51.85,384.45 52.91,385.26 53.97,384.09 55.02,386.91 56.08,386.56 57.14,387.02 58.20,388.14 59.25,389.28 60.31,388.97 61.37,389.34 62.43,389.43 63.49,390.04 64.54,390.78 65.60,390.88 66.66,391.40 67.72,391.90 68.77,392.31 69.83,392.75 70.89,392.88 71.95,393.60 73.00,393.83 74.06,394.04 75.12,394.56 76.18,394.71 77.24,395.17 78.29,395.31 79.35,395.49 80.41,396.06 81.47,396.67 82.52,397.21 83.58,397.44 84.64,397.63 85.70,397.84 86.76,398.04 87.81,398.24 88.87,398.43 89.93,398.62 90.99,398.80 92.04,398.98 93.10,399.15 94.16,399.31 95.22,399.48 96.28,399.64 97.33,399.79 98.39,399.94 99.45,400.09 100.51,400.23 101.56,400.37 102.62,400.51 103.68,400.65 104.74,400.78 105.79,400.90 106.85,401.03 107.91,401.15 108.97,401.24 110.03,401.34 111.08,401.43 112.14,401.52 113.20,401.61 114.26,401.70 115.31,401.79 116.37,401.87 117.43,401.95 118.49,402.03 119.55,402.11 120.60,402.19 121.66,402.27 122.72,402.34 123.78,402.41 124.83,402.49 125.89,402.56 126.95,402.62 128.01,402.69 129.06,402.76 130.12,402.82 131.18,402.89 132.24,402.95 133.30,403.01 134.35,403.07 135.41,403.13 136.47,403.16 137.53,403.19 138.58,403.23 139.64,403.26 140.70,403.29 141.76,403.32 142.81,403.35 143.87,403.38 144.93,403.41 145.99,403.44 147.05,403.47 148.10,403.50 149.16,403.53 150.22,403.56 151.28,403.59 152.33,403.62 153.39,403.65 154.45,403.67 155.51,403.70 156.57,403.73 157.62,403.75 158.68,403.78 159.74,403.81 160.80,403.83 161.85,403.86 162.91,403.88 163.97,403.91 165.03,403.93 166.09,403.96 167.14,403.98 168.20,404.00 169.26,404.03 170.32,404.05 171.37,404.07 172.43,404.09 173.49,404.12 174.55,404.14 175.60,404.16 176.66,404.18 177.72,404.20 178.78,404.20 179.84,404.20 180.89,404.20 181.95,404.20 183.01,404.20 184.07,404.20 185.12,404.20 186.18,404.20 187.24,404.20 188.30,404.20 189.36,404.20 190.41,404.20 191.47,404.20 192.53,404.20 193.59,404.20 194.64,404.20 195.70,404.20 196.76,404.20 197.82,404.20 198.87,404.20 199.93,404.20 200.99,404.20 202.05,404.20 203.11,404.20 204.16,404.20 205.22,404.20 206.28,404.20 207.34,404.20 208.39,404.20 209.45,404.20 210.51,404.20 211.57,404.20 212.63,404.20 213.68,404.20 214.74,404.20 215.80,404.20 216.86,404.20 217.91,404.20 218.97,404.20 220.03,404.20 221.09,404.20 222.14,404.20 223.20,404.20 224.26,404.20 225.32,404.18 226.38,404.16 227.43,404.14 228.49,404.11 229.55,404.09 230.61,404.07 231.66,404.04 232.72,404.02 233.78,404.00 234.84,403.97 235.90,403.95 236.95,403.92 238.01,403.90 239.07,403.87 240.13,403.85 241.18,403.82 242.24,403.79 243.30,403.77 244.36,403.74 245.41,403.71 246.47,403.69 247.53,403.66 248.59,403.63 249.65,403.60 250.70,403.57 251.76,403.54 252.82,403.51 253.88,403.48 254.93,403.45 255.99,403.42 257.05,403.39 258.11,403.36 259.17,403.32 260.22,403.29 261.28,403.26 262.34,403.23 263.40,403.19 264.45,403.16 265.51,403.12 266.57,403.09 267.63,403.05 268.68,403.02 269.74,402.98 270.80,402.95" fill="none" stroke="#ff3fa8" stroke-width="1.9" stroke-linejoin="round" />
<circle cx="38.10" cy="377.95" r="1.25" fill="none" stroke="#ff3fa8" stroke-width="1.0"/>
<circle cx="40.22" cy="377.48" r="1.25" fill="none" stroke="#ff3fa8" stroke-width="1.0"/>
<circle cx="42.33" cy="377.79" r="1.25" fill="none" stroke="#ff3fa8" stroke-width="1.0"/>
<circle cx="44.45" cy="378.35" r="1.25" fill="none" stroke="#ff3fa8" stroke-width="1.0"/>
<circle cx="46.56" cy="377.93" r="1.25" fill="none" stroke="#ff3fa8" stroke-width="1.0"/>
<circle cx="48.68" cy="380.90" r="1.25" fill="none" stroke="#ff3fa8" stroke-width="1.0"/>
<circle cx="50.79" cy="381.87" r="1.25" fill="none" stroke="#ff3fa8" stroke-width="1.0"/>
<circle cx="52.91" cy="385.26" r="1.25" fill="none" stroke="#ff3fa8" stroke-width="1.0"/>
<circle cx="55.02" cy="386.91" r="1.25" fill="none" stroke="#ff3fa8" stroke-width="1.0"/>
<circle cx="57.14" cy="387.02" r="1.25" fill="none" stroke="#ff3fa8" stroke-width="1.0"/>
<circle cx="59.25" cy="389.28" r="1.25" fill="none" stroke="#ff3fa8" stroke-width="1.0"/>
<circle cx="61.37" cy="389.34" r="1.25" fill="none" stroke="#ff3fa8" stroke-width="1.0"/>
<circle cx="63.49" cy="390.04" r="1.25" fill="none" stroke="#ff3fa8" stroke-width="1.0"/>
<circle cx="65.60" cy="390.88" r="1.25" fill="none" stroke="#ff3fa8" stroke-width="1.0"/>
<circle cx="67.72" cy="391.90" r="1.25" fill="none" stroke="#ff3fa8" stroke-width="1.0"/>
<circle cx="69.83" cy="392.75" r="1.25" fill="none" stroke="#ff3fa8" stroke-width="1.0"/>
<circle cx="71.95" cy="393.60" r="1.25" fill="none" stroke="#ff3fa8" stroke-width="1.0"/>
<circle cx="74.06" cy="394.04" r="1.25" fill="none" stroke="#ff3fa8" stroke-width="1.0"/>
<circle cx="76.18" cy="394.71" r="1.25" fill="none" stroke="#ff3fa8" stroke-width="1.0"/>
<circle cx="78.29" cy="395.31" r="1.25" fill="none" stroke="#ff3fa8" stroke-width="1.0"/>
<circle cx="80.41" cy="396.06" r="1.25" fill="none" stroke="#ff3fa8" stroke-width="1.0"/>
<circle cx="82.52" cy="397.21" r="1.25" fill="none" stroke="#ff3fa8" stroke-width="1.0"/>
<circle cx="84.64" cy="397.63" r="1.25" fill="none" stroke="#ff3fa8" stroke-width="1.0"/>
<circle cx="86.76" cy="398.04" r="1.25" fill="none" stroke="#ff3fa8" stroke-width="1.0"/>
<circle cx="88.87" cy="398.43" r="1.25" fill="none" stroke="#ff3fa8" stroke-width="1.0"/>
<circle cx="90.99" cy="398.80" r="1.25" fill="none" stroke="#ff3fa8" stroke-width="1.0"/>
<circle cx="93.10" cy="399.15" r="1.25" fill="none" stroke="#ff3fa8" stroke-width="1.0"/>
<circle cx="95.22" cy="399.48" r="1.25" fill="none" stroke="#ff3fa8" stroke-width="1.0"/>
<circle cx="97.33" cy="399.79" r="1.25" fill="none" stroke="#ff3fa8" stroke-width="1.0"/>
<circle cx="99.45" cy="400.09" r="1.25" fill="none" stroke="#ff3fa8" stroke-width="1.0"/>
<circle cx="101.56" cy="400.37" r="1.25" fill="none" stroke="#ff3fa8" stroke-width="1.0"/>
<polyline points="38.10,356.15 39.16,361.04 40.22,360.96 41.27,366.86 42.33,366.41 43.39,370.76 44.45,366.30 45.50,366.92 46.56,372.90 47.62,370.39 48.68,370.07 49.73,374.56 50.79,375.48 51.85,375.24 52.91,375.52 53.97,377.30 55.02,376.45 56.08,377.07 57.14,377.53 58.20,378.31 59.25,378.44 60.31,379.56 61.37,382.20 62.43,382.28 63.49,383.29 64.54,383.90 65.60,383.94 66.66,384.50 67.72,384.88 68.77,386.34 69.83,386.71 70.89,386.80 71.95,387.38 73.00,387.93 74.06,388.36 75.12,388.99 76.18,389.18 77.24,389.72 78.29,390.23 79.35,390.73 80.41,391.48 81.47,392.45 82.52,393.11 83.58,393.52 84.64,393.96 85.70,394.38 86.76,394.78 87.81,395.17 88.87,395.55 89.93,395.92 90.99,396.18 92.04,396.43 93.10,396.68 94.16,396.92 95.22,397.15 96.28,397.38 97.33,397.60 98.39,397.82 99.45,398.03 100.51,398.23 101.56,398.43 102.62,398.63 103.68,398.82 104.74,399.00 105.79,399.18 106.85,399.36 107.91,399.53 108.97,399.68 110.03,399.82 111.08,399.96 112.14,400.09 113.20,400.22 114.26,400.35 115.31,400.48 116.37,400.60 117.43,400.72 118.49,400.84 119.55,400.96 120.60,401.07 121.66,401.18 122.72,401.29 123.78,401.39 124.83,401.50 125.89,401.60 126.95,401.70 128.01,401.79 129.06,401.89 130.12,401.98 131.18,402.07 132.24,402.16 133.30,402.24 134.35,402.33 135.41,402.41 136.47,402.45 137.53,402.48 138.58,402.52 139.64,402.56 140.70,402.60 141.76,402.63 142.81,402.67 143.87,402.71 144.93,402.74 145.99,402.78 147.05,402.81 148.10,402.85 149.16,402.88 150.22,402.91 151.28,402.95 152.33,402.98 153.39,403.01 154.45,403.04 155.51,403.08 156.57,403.11 157.62,403.14 158.68,403.17 159.74,403.20 160.80,403.23 161.85,403.26 162.91,403.29 163.97,403.32 165.03,403.35 166.09,403.38 167.14,403.41 168.20,403.43 169.26,403.46 170.32,403.49 171.37,403.52 172.43,403.54 173.49,403.57 174.55,403.60 175.60,403.62 176.66,403.65 177.72,403.67 178.78,403.70 179.84,403.72 180.89,403.75 181.95,403.77 183.01,403.80 184.07,403.82 185.12,403.84 186.18,403.85 187.24,403.85 188.30,403.86 189.36,403.86 190.41,403.87 191.47,403.87 192.53,403.88 193.59,403.88 194.64,403.89 195.70,403.89 196.76,403.90 197.82,403.90 198.87,403.91 199.93,403.91 200.99,403.92 202.05,403.92 203.11,403.93 204.16,403.93 205.22,403.94 206.28,403.94 207.34,403.95 208.39,403.95 209.45,403.96 210.51,403.96 211.57,403.97 212.63,403.97 213.68,403.98 214.74,403.98 215.80,403.99 216.86,403.99 217.91,404.00 218.97,404.00 220.03,404.00 221.09,404.01 222.14,404.01 223.20,404.02 224.26,404.02 225.32,404.00 226.38,403.97 227.43,403.95 228.49,403.92 229.55,403.90 230.61,403.87 231.66,403.84 232.72,403.82 233.78,403.79 234.84,403.76 235.90,403.73 236.95,403.71 238.01,403.68 239.07,403.65 240.13,403.62 241.18,403.59 242.24,403.56 243.30,403.53 244.36,403.50 245.41,403.47 246.47,403.43 247.53,403.40 248.59,403.37 249.65,403.34 250.70,403.30 251.76,403.27 252.82,403.24 253.88,403.20 254.93,403.17 255.99,403.13 257.05,403.09 258.11,403.06 259.17,403.02 260.22,402.98 261.28,402.95 262.34,402.91 263.40,402.87 264.45,402.83 265.51,402.79 266.57,402.75 267.63,402.71 268.68,402.67 269.74,402.63 270.80,402.59" fill="none" stroke="#1e9a1e" stroke-width="1.9" stroke-linejoin="round" />
<circle cx="38.10" cy="356.15" r="1.25" fill="none" stroke="#1e9a1e" stroke-width="1.0"/>
<circle cx="40.22" cy="360.96" r="1.25" fill="none" stroke="#1e9a1e" stroke-width="1.0"/>
<circle cx="42.33" cy="366.41" r="1.25" fill="none" stroke="#1e9a1e" stroke-width="1.0"/>
<circle cx="44.45" cy="366.30" r="1.25" fill="none" stroke="#1e9a1e" stroke-width="1.0"/>
<circle cx="46.56" cy="372.90" r="1.25" fill="none" stroke="#1e9a1e" stroke-width="1.0"/>
<circle cx="48.68" cy="370.07" r="1.25" fill="none" stroke="#1e9a1e" stroke-width="1.0"/>
<circle cx="50.79" cy="375.48" r="1.25" fill="none" stroke="#1e9a1e" stroke-width="1.0"/>
<circle cx="52.91" cy="375.52" r="1.25" fill="none" stroke="#1e9a1e" stroke-width="1.0"/>
<circle cx="55.02" cy="376.45" r="1.25" fill="none" stroke="#1e9a1e" stroke-width="1.0"/>
<circle cx="57.14" cy="377.53" r="1.25" fill="none" stroke="#1e9a1e" stroke-width="1.0"/>
<circle cx="59.25" cy="378.44" r="1.25" fill="none" stroke="#1e9a1e" stroke-width="1.0"/>
<circle cx="61.37" cy="382.20" r="1.25" fill="none" stroke="#1e9a1e" stroke-width="1.0"/>
<circle cx="63.49" cy="383.29" r="1.25" fill="none" stroke="#1e9a1e" stroke-width="1.0"/>
<circle cx="65.60" cy="383.94" r="1.25" fill="none" stroke="#1e9a1e" stroke-width="1.0"/>
<circle cx="67.72" cy="384.88" r="1.25" fill="none" stroke="#1e9a1e" stroke-width="1.0"/>
<circle cx="69.83" cy="386.71" r="1.25" fill="none" stroke="#1e9a1e" stroke-width="1.0"/>
<circle cx="71.95" cy="387.38" r="1.25" fill="none" stroke="#1e9a1e" stroke-width="1.0"/>
<circle cx="74.06" cy="388.36" r="1.25" fill="none" stroke="#1e9a1e" stroke-width="1.0"/>
<circle cx="76.18" cy="389.18" r="1.25" fill="none" stroke="#1e9a1e" stroke-width="1.0"/>
<circle cx="78.29" cy="390.23" r="1.25" fill="none" stroke="#1e9a1e" stroke-width="1.0"/>
<circle cx="80.41" cy="391.48" r="1.25" fill="none" stroke="#1e9a1e" stroke-width="1.0"/>
<circle cx="82.52" cy="393.11" r="1.25" fill="none" stroke="#1e9a1e" stroke-width="1.0"/>
<circle cx="84.64" cy="393.96" r="1.25" fill="none" stroke="#1e9a1e" stroke-width="1.0"/>
<circle cx="86.76" cy="394.78" r="1.25" fill="none" stroke="#1e9a1e" stroke-width="1.0"/>
<circle cx="88.87" cy="395.55" r="1.25" fill="none" stroke="#1e9a1e" stroke-width="1.0"/>
<circle cx="90.99" cy="396.18" r="1.25" fill="none" stroke="#1e9a1e" stroke-width="1.0"/>
<circle cx="93.10" cy="396.68" r="1.25" fill="none" stroke="#1e9a1e" stroke-width="1.0"/>
<circle cx="95.22" cy="397.15" r="1.25" fill="none" stroke="#1e9a1e" stroke-width="1.0"/>
<circle cx="97.33" cy="397.60" r="1.25" fill="none" stroke="#1e9a1e" stroke-width="1.0"/>
<circle cx="99.45" cy="398.03" r="1.25" fill="none" stroke="#1e9a1e" stroke-width="1.0"/>
<circle cx="101.56" cy="398.43" r="1.25" fill="none" stroke="#1e9a1e" stroke-width="1.0"/>
<polyline points="38.10,337.34 39.16,331.81 40.22,334.15 41.27,342.11 42.33,339.66 43.39,341.40 44.45,340.08 45.50,340.95 46.56,344.26 47.62,347.85 48.68,346.99 49.73,347.95 50.79,347.10 51.85,349.37 52.91,353.18 53.97,355.97 55.02,355.38 56.08,357.48 57.14,359.46 58.20,359.13 59.25,361.02 60.31,361.45 61.37,362.19 62.43,365.02 63.49,363.60 64.54,367.97 65.60,368.13 66.66,370.45 67.72,371.08 68.77,374.81 69.83,374.93 70.89,375.58 71.95,376.68 73.00,377.19 74.06,379.20 75.12,380.02 76.18,381.27 77.24,382.28 78.29,383.37 79.35,384.42 80.41,385.24 81.47,386.24 82.52,386.91 83.58,387.67 84.64,388.30 85.70,388.93 86.76,389.54 87.81,390.12 88.87,390.69 89.93,391.23 90.99,391.63 92.04,392.01 93.10,392.38 94.16,392.75 95.22,393.10 96.28,393.44 97.33,393.77 98.39,394.10 99.45,394.41 100.51,394.72 101.56,395.02 102.62,395.31 103.68,395.59 104.74,395.87 105.79,396.14 106.85,396.40 107.91,396.66 108.97,396.89 110.03,397.12 111.08,397.34 112.14,397.55 113.20,397.76 114.26,397.97 115.31,398.17 116.37,398.36 117.43,398.55 118.49,398.74 119.55,398.92 120.60,399.10 121.66,399.27 122.72,399.44 123.78,399.60 124.83,399.76 125.89,399.92 126.95,400.07 128.01,400.22 129.06,400.36 130.12,400.50 131.18,400.64 132.24,400.77 133.30,400.90 134.35,401.03 135.41,401.15 136.47,401.22 137.53,401.28 138.58,401.35 139.64,401.41 140.70,401.48 141.76,401.54 142.81,401.60 143.87,401.66 144.93,401.72 145.99,401.78 147.05,401.84 148.10,401.90 149.16,401.96 150.22,402.01 151.28,402.07 152.33,402.12 153.39,402.17 154.45,402.23 155.51,402.28 156.57,402.33 157.62,402.38 158.68,402.43 159.74,402.48 160.80,402.53 161.85,402.58 162.91,402.63 163.97,402.67 165.03,402.72 166.09,402.76 167.14,402.81 168.20,402.85 169.26,402.90 170.32,402.94 171.37,402.98 172.43,403.02 173.49,403.07 174.55,403.11 175.60,403.15 176.66,403.19 177.72,403.22 178.78,403.26 179.84,403.30 180.89,403.34 181.95,403.38 183.01,403.41 184.07,403.45 185.12,403.48 186.18,403.49 187.24,403.49 188.30,403.50 189.36,403.50 190.41,403.51 191.47,403.51 192.53,403.52 193.59,403.52 194.64,403.53 195.70,403.53 196.76,403.54 197.82,403.54 198.87,403.55 199.93,403.55 200.99,403.56 202.05,403.56 203.11,403.57 204.16,403.57 205.22,403.58 206.28,403.58 207.34,403.59 208.39,403.59 209.45,403.60 210.51,403.60 211.57,403.61 212.63,403.61 213.68,403.62 214.74,403.62 215.80,403.63 216.86,403.63 217.91,403.64 218.97,403.64 220.03,403.65 221.09,403.65 222.14,403.65 223.20,403.66 224.26,403.66 225.32,403.64 226.38,403.62 227.43,403.59 228.49,403.57 229.55,403.55 230.61,403.52 231.66,403.50 232.72,403.47 233.78,403.45 234.84,403.42 235.90,403.40 236.95,403.37 238.01,403.35 239.07,403.32 240.13,403.29 241.18,403.27 242.24,403.24 243.30,403.21 244.36,403.19 245.41,403.16 246.47,403.13 247.53,403.10 248.59,403.07 249.65,403.05 250.70,403.02 251.76,402.99 252.82,402.96 253.88,402.93 254.93,402.90 255.99,402.87 257.05,402.84 258.11,402.80 259.17,402.77 260.22,402.74 261.28,402.71 262.34,402.68 263.40,402.64 264.45,402.61 265.51,402.58 266.57,402.54 267.63,402.51 268.68,402.48 269.74,402.44 270.80,402.41" fill="none" stroke="#1c1ca0" stroke-width="1.9" stroke-linejoin="round" />
<circle cx="38.10" cy="337.34" r="1.25" fill="none" stroke="#1c1ca0" stroke-width="1.0"/>
<circle cx="40.22" cy="334.15" r="1.25" fill="none" stroke="#1c1ca0" stroke-width="1.0"/>
<circle cx="42.33" cy="339.66" r="1.25" fill="none" stroke="#1c1ca0" stroke-width="1.0"/>
<circle cx="44.45" cy="340.08" r="1.25" fill="none" stroke="#1c1ca0" stroke-width="1.0"/>
<circle cx="46.56" cy="344.26" r="1.25" fill="none" stroke="#1c1ca0" stroke-width="1.0"/>
<circle cx="48.68" cy="346.99" r="1.25" fill="none" stroke="#1c1ca0" stroke-width="1.0"/>
<circle cx="50.79" cy="347.10" r="1.25" fill="none" stroke="#1c1ca0" stroke-width="1.0"/>
<circle cx="52.91" cy="353.18" r="1.25" fill="none" stroke="#1c1ca0" stroke-width="1.0"/>
<circle cx="55.02" cy="355.38" r="1.25" fill="none" stroke="#1c1ca0" stroke-width="1.0"/>
<circle cx="57.14" cy="359.46" r="1.25" fill="none" stroke="#1c1ca0" stroke-width="1.0"/>
<circle cx="59.25" cy="361.02" r="1.25" fill="none" stroke="#1c1ca0" stroke-width="1.0"/>
<circle cx="61.37" cy="362.19" r="1.25" fill="none" stroke="#1c1ca0" stroke-width="1.0"/>
<circle cx="63.49" cy="363.60" r="1.25" fill="none" stroke="#1c1ca0" stroke-width="1.0"/>
<circle cx="65.60" cy="368.13" r="1.25" fill="none" stroke="#1c1ca0" stroke-width="1.0"/>
<circle cx="67.72" cy="371.08" r="1.25" fill="none" stroke="#1c1ca0" stroke-width="1.0"/>
<circle cx="69.83" cy="374.93" r="1.25" fill="none" stroke="#1c1ca0" stroke-width="1.0"/>
<circle cx="71.95" cy="376.68" r="1.25" fill="none" stroke="#1c1ca0" stroke-width="1.0"/>
<circle cx="74.06" cy="379.20" r="1.25" fill="none" stroke="#1c1ca0" stroke-width="1.0"/>
<circle cx="76.18" cy="381.27" r="1.25" fill="none" stroke="#1c1ca0" stroke-width="1.0"/>
<circle cx="78.29" cy="383.37" r="1.25" fill="none" stroke="#1c1ca0" stroke-width="1.0"/>
<circle cx="80.41" cy="385.24" r="1.25" fill="none" stroke="#1c1ca0" stroke-width="1.0"/>
<circle cx="82.52" cy="386.91" r="1.25" fill="none" stroke="#1c1ca0" stroke-width="1.0"/>
<circle cx="84.64" cy="388.30" r="1.25" fill="none" stroke="#1c1ca0" stroke-width="1.0"/>
<circle cx="86.76" cy="389.54" r="1.25" fill="none" stroke="#1c1ca0" stroke-width="1.0"/>
<circle cx="88.87" cy="390.69" r="1.25" fill="none" stroke="#1c1ca0" stroke-width="1.0"/>
<circle cx="90.99" cy="391.63" r="1.25" fill="none" stroke="#1c1ca0" stroke-width="1.0"/>
<circle cx="93.10" cy="392.38" r="1.25" fill="none" stroke="#1c1ca0" stroke-width="1.0"/>
<circle cx="95.22" cy="393.10" r="1.25" fill="none" stroke="#1c1ca0" stroke-width="1.0"/>
<circle cx="97.33" cy="393.77" r="1.25" fill="none" stroke="#1c1ca0" stroke-width="1.0"/>
<circle cx="99.45" cy="394.41" r="1.25" fill="none" stroke="#1c1ca0" stroke-width="1.0"/>
<circle cx="101.56" cy="395.02" r="1.25" fill="none" stroke="#1c1ca0" stroke-width="1.0"/>
<polyline points="38.10,314.81 39.16,307.51 40.22,321.69 41.27,322.64 42.33,319.67 43.39,326.74 44.45,332.06 45.50,329.78 46.56,330.55 47.62,332.13 48.68,339.17 49.73,333.46 50.79,336.03 51.85,342.67 52.91,343.79 53.97,347.15 55.02,344.61 56.08,350.80 57.14,349.54 58.20,353.23 59.25,354.98 60.31,354.06 61.37,354.61 62.43,358.35 63.49,360.88 64.54,360.73 65.60,363.29 66.66,364.46 67.72,364.91 68.77,366.75 69.83,369.37 70.89,368.95 71.95,372.01 73.00,373.17 74.06,375.30 75.12,376.45 76.18,378.31 77.24,378.59 78.29,379.99 79.35,381.65 80.41,382.75 81.47,383.77 82.52,384.57 83.58,385.47 84.64,386.26 85.70,387.02 86.76,387.75 87.81,388.46 88.87,389.14 89.93,389.79 90.99,390.22 92.04,390.62 93.10,391.01 94.16,391.40 95.22,391.77 96.28,392.14 97.33,392.49 98.39,392.84 99.45,393.17 100.51,393.50 101.56,393.82 102.62,394.13 103.68,394.44 104.74,394.73 105.79,395.02 106.85,395.30 107.91,395.58 108.97,395.84 110.03,396.09 111.08,396.34 112.14,396.58 113.20,396.82 114.26,397.05 115.31,397.27 116.37,397.49 117.43,397.71 118.49,397.91 119.55,398.12 120.60,398.32 121.66,398.51 122.72,398.70 123.78,398.88 124.83,399.06 125.89,399.23 126.95,399.40 128.01,399.57 129.06,399.73 130.12,399.89 131.18,400.04 132.24,400.19 133.30,400.33 134.35,400.48 135.41,400.61 136.47,400.69 137.53,400.77 138.58,400.84 139.64,400.92 140.70,400.99 141.76,401.07 142.81,401.14 143.87,401.21 144.93,401.28 145.99,401.35 147.05,401.42 148.10,401.48 149.16,401.55 150.22,401.62 151.28,401.68 152.33,401.74 153.39,401.81 154.45,401.87 155.51,401.93 156.57,401.99 157.62,402.05 158.68,402.10 159.74,402.16 160.80,402.22 161.85,402.27 162.91,402.33 163.97,402.38 165.03,402.43 166.09,402.48 167.14,402.54 168.20,402.59 169.26,402.64 170.32,402.69 171.37,402.73 172.43,402.78 173.49,402.83 174.55,402.88 175.60,402.92 176.66,402.97 177.72,403.01 178.78,403.05 179.84,403.10 180.89,403.14 181.95,403.18 183.01,403.22 184.07,403.26 185.12,403.30 186.18,403.31 187.24,403.31 188.30,403.32 189.36,403.32 190.41,403.33 191.47,403.33 192.53,403.34 193.59,403.34 194.64,403.35 195.70,403.35 196.76,403.36 197.82,403.36 198.87,403.37 199.93,403.37 200.99,403.38 202.05,403.38 203.11,403.39 204.16,403.39 205.22,403.40 206.28,403.40 207.34,403.41 208.39,403.41 209.45,403.42 210.51,403.42 211.57,403.43 212.63,403.43 213.68,403.44 214.74,403.44 215.80,403.45 216.86,403.45 217.91,403.46 218.97,403.46 220.03,403.47 221.09,403.47 222.14,403.47 223.20,403.48 224.26,403.48 225.32,403.46 226.38,403.43 227.43,403.41 228.49,403.38 229.55,403.35 230.61,403.32 231.66,403.30 232.72,403.27 233.78,403.24 234.84,403.21 235.90,403.18 236.95,403.15 238.01,403.12 239.07,403.10 240.13,403.07 241.18,403.03 242.24,403.00 243.30,402.97 244.36,402.94 245.41,402.91 246.47,402.88 247.53,402.85 248.59,402.81 249.65,402.78 250.70,402.75 251.76,402.71 252.82,402.68 253.88,402.65 254.93,402.61 255.99,402.58 257.05,402.54 258.11,402.51 259.17,402.47 260.22,402.43 261.28,402.40 262.34,402.36 263.40,402.32 264.45,402.28 265.51,402.24 266.57,402.21 267.63,402.17 268.68,402.13 269.74,402.09 270.80,402.05" fill="none" stroke="#ff1e1e" stroke-width="1.9" stroke-linejoin="round" />
<circle cx="38.10" cy="314.81" r="1.25" fill="none" stroke="#ff1e1e" stroke-width="1.0"/>
<circle cx="40.22" cy="321.69" r="1.25" fill="none" stroke="#ff1e1e" stroke-width="1.0"/>
<circle cx="42.33" cy="319.67" r="1.25" fill="none" stroke="#ff1e1e" stroke-width="1.0"/>
<circle cx="44.45" cy="332.06" r="1.25" fill="none" stroke="#ff1e1e" stroke-width="1.0"/>
<circle cx="46.56" cy="330.55" r="1.25" fill="none" stroke="#ff1e1e" stroke-width="1.0"/>
<circle cx="48.68" cy="339.17" r="1.25" fill="none" stroke="#ff1e1e" stroke-width="1.0"/>
<circle cx="50.79" cy="336.03" r="1.25" fill="none" stroke="#ff1e1e" stroke-width="1.0"/>
<circle cx="52.91" cy="343.79" r="1.25" fill="none" stroke="#ff1e1e" stroke-width="1.0"/>
<circle cx="55.02" cy="344.61" r="1.25" fill="none" stroke="#ff1e1e" stroke-width="1.0"/>
<circle cx="57.14" cy="349.54" r="1.25" fill="none" stroke="#ff1e1e" stroke-width="1.0"/>
<circle cx="59.25" cy="354.98" r="1.25" fill="none" stroke="#ff1e1e" stroke-width="1.0"/>
<circle cx="61.37" cy="354.61" r="1.25" fill="none" stroke="#ff1e1e" stroke-width="1.0"/>
<circle cx="63.49" cy="360.88" r="1.25" fill="none" stroke="#ff1e1e" stroke-width="1.0"/>
<circle cx="65.60" cy="363.29" r="1.25" fill="none" stroke="#ff1e1e" stroke-width="1.0"/>
<circle cx="67.72" cy="364.91" r="1.25" fill="none" stroke="#ff1e1e" stroke-width="1.0"/>
<circle cx="69.83" cy="369.37" r="1.25" fill="none" stroke="#ff1e1e" stroke-width="1.0"/>
<circle cx="71.95" cy="372.01" r="1.25" fill="none" stroke="#ff1e1e" stroke-width="1.0"/>
<circle cx="74.06" cy="375.30" r="1.25" fill="none" stroke="#ff1e1e" stroke-width="1.0"/>
<circle cx="76.18" cy="378.31" r="1.25" fill="none" stroke="#ff1e1e" stroke-width="1.0"/>
<circle cx="78.29" cy="379.99" r="1.25" fill="none" stroke="#ff1e1e" stroke-width="1.0"/>
<circle cx="80.41" cy="382.75" r="1.25" fill="none" stroke="#ff1e1e" stroke-width="1.0"/>
<circle cx="82.52" cy="384.57" r="1.25" fill="none" stroke="#ff1e1e" stroke-width="1.0"/>
<circle cx="84.64" cy="386.26" r="1.25" fill="none" stroke="#ff1e1e" stroke-width="1.0"/>
<circle cx="86.76" cy="387.75" r="1.25" fill="none" stroke="#ff1e1e" stroke-width="1.0"/>
<circle cx="88.87" cy="389.14" r="1.25" fill="none" stroke="#ff1e1e" stroke-width="1.0"/>
<circle cx="90.99" cy="390.22" r="1.25" fill="none" stroke="#ff1e1e" stroke-width="1.0"/>
<circle cx="93.10" cy="391.01" r="1.25" fill="none" stroke="#ff1e1e" stroke-width="1.0"/>
<circle cx="95.22" cy="391.77" r="1.25" fill="none" stroke="#ff1e1e" stroke-width="1.0"/>
<circle cx="97.33" cy="392.49" r="1.25" fill="none" stroke="#ff1e1e" stroke-width="1.0"/>
<circle cx="99.45" cy="393.17" r="1.25" fill="none" stroke="#ff1e1e" stroke-width="1.0"/>
<circle cx="101.56" cy="393.82" r="1.25" fill="none" stroke="#ff1e1e" stroke-width="1.0"/>
<polyline points="38.10,312.90 39.16,316.71 40.22,318.08 41.27,325.07 42.33,322.01 43.39,330.60 44.45,326.83 45.50,327.45 46.56,328.99 47.62,333.57 48.68,337.87 49.73,336.47 50.79,340.39 51.85,336.62 52.91,340.78 53.97,344.83 55.02,347.35 56.08,349.46 57.14,351.47 58.20,351.84 59.25,352.21 60.31,353.39 61.37,354.83 62.43,354.52 63.49,360.03 64.54,360.74 65.60,359.34 66.66,365.68 67.72,365.78 68.77,366.60 69.83,367.99 70.89,369.24 71.95,371.32 73.00,372.61 74.06,374.30 75.12,375.50 76.18,377.77 77.24,378.74 78.29,379.77 79.35,381.16 80.41,382.27 81.47,383.17 82.52,384.32 83.58,385.12 84.64,385.96 85.70,386.75 86.76,387.51 87.81,388.23 88.87,388.94 89.93,389.61 90.99,390.04 92.04,390.44 93.10,390.83 94.16,391.22 95.22,391.59 96.28,391.95 97.33,392.31 98.39,392.65 99.45,392.99 100.51,393.32 101.56,393.64 102.62,393.95 103.68,394.26 104.74,394.55 105.79,394.84 106.85,395.12 107.91,395.40 108.97,395.67 110.03,395.94 111.08,396.19 112.14,396.45 113.20,396.69 114.26,396.93 115.31,397.17 116.37,397.39 117.43,397.61 118.49,397.83 119.55,398.04 120.60,398.24 121.66,398.44 122.72,398.64 123.78,398.83 124.83,399.01 125.89,399.19 126.95,399.37 128.01,399.54 129.06,399.70 130.12,399.87 131.18,400.02 132.24,400.18 133.30,400.33 134.35,400.47 135.41,400.61 136.47,400.69 137.53,400.77 138.58,400.84 139.64,400.92 140.70,400.99 141.76,401.07 142.81,401.14 143.87,401.21 144.93,401.28 145.99,401.35 147.05,401.42 148.10,401.48 149.16,401.55 150.22,401.62 151.28,401.68 152.33,401.74 153.39,401.81 154.45,401.87 155.51,401.93 156.57,401.99 157.62,402.05 158.68,402.10 159.74,402.16 160.80,402.22 161.85,402.27 162.91,402.33 163.97,402.38 165.03,402.43 166.09,402.48 167.14,402.54 168.20,402.59 169.26,402.64 170.32,402.69 171.37,402.73 172.43,402.78 173.49,402.83 174.55,402.88 175.60,402.92 176.66,402.97 177.72,403.01 178.78,403.05 179.84,403.10 180.89,403.14 181.95,403.18 183.01,403.22 184.07,403.26 185.12,403.30 186.18,403.31 187.24,403.31 188.30,403.32 189.36,403.32 190.41,403.33 191.47,403.33 192.53,403.34 193.59,403.34 194.64,403.35 195.70,403.35 196.76,403.36 197.82,403.36 198.87,403.37 199.93,403.37 200.99,403.38 202.05,403.38 203.11,403.39 204.16,403.39 205.22,403.40 206.28,403.40 207.34,403.41 208.39,403.41 209.45,403.42 210.51,403.42 211.57,403.43 212.63,403.43 213.68,403.44 214.74,403.44 215.80,403.45 216.86,403.45 217.91,403.46 218.97,403.46 220.03,403.47 221.09,403.47 222.14,403.47 223.20,403.48 224.26,403.48 225.32,403.46 226.38,403.43 227.43,403.41 228.49,403.38 229.55,403.35 230.61,403.32 231.66,403.30 232.72,403.27 233.78,403.24 234.84,403.21 235.90,403.18 236.95,403.15 238.01,403.12 239.07,403.10 240.13,403.07 241.18,403.03 242.24,403.00 243.30,402.97 244.36,402.94 245.41,402.91 246.47,402.88 247.53,402.85 248.59,402.81 249.65,402.78 250.70,402.75 251.76,402.71 252.82,402.68 253.88,402.65 254.93,402.61 255.99,402.58 257.05,402.54 258.11,402.51 259.17,402.47 260.22,402.43 261.28,402.40 262.34,402.36 263.40,402.32 264.45,402.28 265.51,402.24 266.57,402.21 267.63,402.17 268.68,402.13 269.74,402.09 270.80,402.05" fill="none" stroke="#9a3aa8" stroke-width="1.9" stroke-linejoin="round" />
<circle cx="38.10" cy="312.90" r="1.25" fill="none" stroke="#9a3aa8" stroke-width="1.0"/>
<circle cx="40.22" cy="318.08" r="1.25" fill="none" stroke="#9a3aa8" stroke-width="1.0"/>
<circle cx="42.33" cy="322.01" r="1.25" fill="none" stroke="#9a3aa8" stroke-width="1.0"/>
<circle cx="44.45" cy="326.83" r="1.25" fill="none" stroke="#9a3aa8" stroke-width="1.0"/>
<circle cx="46.56" cy="328.99" r="1.25" fill="none" stroke="#9a3aa8" stroke-width="1.0"/>
<circle cx="48.68" cy="337.87" r="1.25" fill="none" stroke="#9a3aa8" stroke-width="1.0"/>
<circle cx="50.79" cy="340.39" r="1.25" fill="none" stroke="#9a3aa8" stroke-width="1.0"/>
<circle cx="52.91" cy="340.78" r="1.25" fill="none" stroke="#9a3aa8" stroke-width="1.0"/>
<circle cx="55.02" cy="347.35" r="1.25" fill="none" stroke="#9a3aa8" stroke-width="1.0"/>
<circle cx="57.14" cy="351.47" r="1.25" fill="none" stroke="#9a3aa8" stroke-width="1.0"/>
<circle cx="59.25" cy="352.21" r="1.25" fill="none" stroke="#9a3aa8" stroke-width="1.0"/>
<circle cx="61.37" cy="354.83" r="1.25" fill="none" stroke="#9a3aa8" stroke-width="1.0"/>
<circle cx="63.49" cy="360.03" r="1.25" fill="none" stroke="#9a3aa8" stroke-width="1.0"/>
<circle cx="65.60" cy="359.34" r="1.25" fill="none" stroke="#9a3aa8" stroke-width="1.0"/>
<circle cx="67.72" cy="365.78" r="1.25" fill="none" stroke="#9a3aa8" stroke-width="1.0"/>
<circle cx="69.83" cy="367.99" r="1.25" fill="none" stroke="#9a3aa8" stroke-width="1.0"/>
<circle cx="71.95" cy="371.32" r="1.25" fill="none" stroke="#9a3aa8" stroke-width="1.0"/>
<circle cx="74.06" cy="374.30" r="1.25" fill="none" stroke="#9a3aa8" stroke-width="1.0"/>
<circle cx="76.18" cy="377.77" r="1.25" fill="none" stroke="#9a3aa8" stroke-width="1.0"/>
<circle cx="78.29" cy="379.77" r="1.25" fill="none" stroke="#9a3aa8" stroke-width="1.0"/>
<circle cx="80.41" cy="382.27" r="1.25" fill="none" stroke="#9a3aa8" stroke-width="1.0"/>
<circle cx="82.52" cy="384.32" r="1.25" fill="none" stroke="#9a3aa8" stroke-width="1.0"/>
<circle cx="84.64" cy="385.96" r="1.25" fill="none" stroke="#9a3aa8" stroke-width="1.0"/>
<circle cx="86.76" cy="387.51" r="1.25" fill="none" stroke="#9a3aa8" stroke-width="1.0"/>
<circle cx="88.87" cy="388.94" r="1.25" fill="none" stroke="#9a3aa8" stroke-width="1.0"/>
<circle cx="90.99" cy="390.04" r="1.25" fill="none" stroke="#9a3aa8" stroke-width="1.0"/>
<circle cx="93.10" cy="390.83" r="1.25" fill="none" stroke="#9a3aa8" stroke-width="1.0"/>
<circle cx="95.22" cy="391.59" r="1.25" fill="none" stroke="#9a3aa8" stroke-width="1.0"/>
<circle cx="97.33" cy="392.31" r="1.25" fill="none" stroke="#9a3aa8" stroke-width="1.0"/>
<circle cx="99.45" cy="392.99" r="1.25" fill="none" stroke="#9a3aa8" stroke-width="1.0"/>
<circle cx="101.56" cy="393.64" r="1.25" fill="none" stroke="#9a3aa8" stroke-width="1.0"/>
<polyline points="38.10,310.25 39.16,315.25 40.22,316.75 41.27,322.13 42.33,330.24 43.39,326.30 44.45,326.52 45.50,332.48 46.56,332.87 47.62,331.95 48.68,339.25 49.73,336.33 50.79,334.74 51.85,343.36 52.91,343.19 53.97,345.59 55.02,343.37 56.08,347.75 57.14,348.17 58.20,352.73 59.25,352.92 60.31,354.32 61.37,358.36 62.43,355.57 63.49,358.24 64.54,363.17 65.60,362.03 66.66,364.57 67.72,365.61 68.77,367.21 69.83,370.00 70.89,370.52 71.95,371.15 73.00,373.78 74.06,375.38 75.12,376.83 76.18,378.04 77.24,378.84 78.29,379.78 79.35,381.22 80.41,382.37 81.47,383.25 82.52,384.49 83.58,385.33 84.64,386.14 85.70,386.93 86.76,387.69 87.81,388.42 88.87,389.12 89.93,389.79 90.99,390.22 92.04,390.62 93.10,391.01 94.16,391.40 95.22,391.77 96.28,392.14 97.33,392.49 98.39,392.84 99.45,393.17 100.51,393.50 101.56,393.82 102.62,394.13 103.68,394.44 104.74,394.73 105.79,395.02 106.85,395.30 107.91,395.58 108.97,395.84 110.03,396.09 111.08,396.34 112.14,396.58 113.20,396.82 114.26,397.05 115.31,397.27 116.37,397.49 117.43,397.71 118.49,397.91 119.55,398.12 120.60,398.32 121.66,398.51 122.72,398.70 123.78,398.88 124.83,399.06 125.89,399.23 126.95,399.40 128.01,399.57 129.06,399.73 130.12,399.89 131.18,400.04 132.24,400.19 133.30,400.33 134.35,400.48 135.41,400.61 136.47,400.69 137.53,400.77 138.58,400.84 139.64,400.92 140.70,400.99 141.76,401.07 142.81,401.14 143.87,401.21 144.93,401.28 145.99,401.35 147.05,401.42 148.10,401.48 149.16,401.55 150.22,401.62 151.28,401.68 152.33,401.74 153.39,401.81 154.45,401.87 155.51,401.93 156.57,401.99 157.62,402.05 158.68,402.10 159.74,402.16 160.80,402.22 161.85,402.27 162.91,402.33 163.97,402.38 165.03,402.43 166.09,402.48 167.14,402.54 168.20,402.59 169.26,402.64 170.32,402.69 171.37,402.73 172.43,402.78 173.49,402.83 174.55,402.88 175.60,402.92 176.66,402.97 177.72,403.01 178.78,403.05 179.84,403.10 180.89,403.14 181.95,403.18 183.01,403.22 184.07,403.26 185.12,403.30 186.18,403.31 187.24,403.31 188.30,403.32 189.36,403.32 190.41,403.33 191.47,403.33 192.53,403.34 193.59,403.34 194.64,403.35 195.70,403.35 196.76,403.36 197.82,403.36 198.87,403.37 199.93,403.37 200.99,403.38 202.05,403.38 203.11,403.39 204.16,403.39 205.22,403.40 206.28,403.40 207.34,403.41 208.39,403.41 209.45,403.42 210.51,403.42 211.57,403.43 212.63,403.43 213.68,403.44 214.74,403.44 215.80,403.45 216.86,403.45 217.91,403.46 218.97,403.46 220.03,403.47 221.09,403.47 222.14,403.47 223.20,403.48 224.26,403.48 225.32,403.46 226.38,403.43 227.43,403.41 228.49,403.38 229.55,403.35 230.61,403.32 231.66,403.30 232.72,403.27 233.78,403.24 234.84,403.21 235.90,403.18 236.95,403.15 238.01,403.12 239.07,403.10 240.13,403.07 241.18,403.03 242.24,403.00 243.30,402.97 244.36,402.94 245.41,402.91 246.47,402.88 247.53,402.85 248.59,402.81 249.65,402.78 250.70,402.75 251.76,402.71 252.82,402.68 253.88,402.65 254.93,402.61 255.99,402.58 257.05,402.54 258.11,402.51 259.17,402.47 260.22,402.43 261.28,402.40 262.34,402.36 263.40,402.32 264.45,402.28 265.51,402.24 266.57,402.21 267.63,402.17 268.68,402.13 269.74,402.09 270.80,402.05" fill="none" stroke="#8b1010" stroke-width="1.9" stroke-linejoin="round" />
<circle cx="38.10" cy="310.25" r="1.25" fill="none" stroke="#8b1010" stroke-width="1.0"/>
<circle cx="40.22" cy="316.75" r="1.25" fill="none" stroke="#8b1010" stroke-width="1.0"/>
<circle cx="42.33" cy="330.24" r="1.25" fill="none" stroke="#8b1010" stroke-width="1.0"/>
<circle cx="44.45" cy="326.52" r="1.25" fill="none" stroke="#8b1010" stroke-width="1.0"/>
<circle cx="46.56" cy="332.87" r="1.25" fill="none" stroke="#8b1010" stroke-width="1.0"/>
<circle cx="48.68" cy="339.25" r="1.25" fill="none" stroke="#8b1010" stroke-width="1.0"/>
<circle cx="50.79" cy="334.74" r="1.25" fill="none" stroke="#8b1010" stroke-width="1.0"/>
<circle cx="52.91" cy="343.19" r="1.25" fill="none" stroke="#8b1010" stroke-width="1.0"/>
<circle cx="55.02" cy="343.37" r="1.25" fill="none" stroke="#8b1010" stroke-width="1.0"/>
<circle cx="57.14" cy="348.17" r="1.25" fill="none" stroke="#8b1010" stroke-width="1.0"/>
<circle cx="59.25" cy="352.92" r="1.25" fill="none" stroke="#8b1010" stroke-width="1.0"/>
<circle cx="61.37" cy="358.36" r="1.25" fill="none" stroke="#8b1010" stroke-width="1.0"/>
<circle cx="63.49" cy="358.24" r="1.25" fill="none" stroke="#8b1010" stroke-width="1.0"/>
<circle cx="65.60" cy="362.03" r="1.25" fill="none" stroke="#8b1010" stroke-width="1.0"/>
<circle cx="67.72" cy="365.61" r="1.25" fill="none" stroke="#8b1010" stroke-width="1.0"/>
<circle cx="69.83" cy="370.00" r="1.25" fill="none" stroke="#8b1010" stroke-width="1.0"/>
<circle cx="71.95" cy="371.15" r="1.25" fill="none" stroke="#8b1010" stroke-width="1.0"/>
<circle cx="74.06" cy="375.38" r="1.25" fill="none" stroke="#8b1010" stroke-width="1.0"/>
<circle cx="76.18" cy="378.04" r="1.25" fill="none" stroke="#8b1010" stroke-width="1.0"/>
<circle cx="78.29" cy="379.78" r="1.25" fill="none" stroke="#8b1010" stroke-width="1.0"/>
<circle cx="80.41" cy="382.37" r="1.25" fill="none" stroke="#8b1010" stroke-width="1.0"/>
<circle cx="82.52" cy="384.49" r="1.25" fill="none" stroke="#8b1010" stroke-width="1.0"/>
<circle cx="84.64" cy="386.14" r="1.25" fill="none" stroke="#8b1010" stroke-width="1.0"/>
<circle cx="86.76" cy="387.69" r="1.25" fill="none" stroke="#8b1010" stroke-width="1.0"/>
<circle cx="88.87" cy="389.12" r="1.25" fill="none" stroke="#8b1010" stroke-width="1.0"/>
<circle cx="90.99" cy="390.22" r="1.25" fill="none" stroke="#8b1010" stroke-width="1.0"/>
<circle cx="93.10" cy="391.01" r="1.25" fill="none" stroke="#8b1010" stroke-width="1.0"/>
<circle cx="95.22" cy="391.77" r="1.25" fill="none" stroke="#8b1010" stroke-width="1.0"/>
<circle cx="97.33" cy="392.49" r="1.25" fill="none" stroke="#8b1010" stroke-width="1.0"/>
<circle cx="99.45" cy="393.17" r="1.25" fill="none" stroke="#8b1010" stroke-width="1.0"/>
<circle cx="101.56" cy="393.82" r="1.25" fill="none" stroke="#8b1010" stroke-width="1.0"/>
<polyline points="38.10,305.89 39.16,308.66 40.22,319.68 41.27,322.76 42.33,318.06 43.39,320.77 44.45,329.78 45.50,327.36 46.56,330.84 47.62,329.31 48.68,333.49 49.73,335.44 50.79,338.23 51.85,336.15 52.91,337.38 53.97,343.88 55.02,342.83 56.08,348.26 57.14,348.19 58.20,348.59 59.25,348.96 60.31,353.88 61.37,354.90 62.43,356.25 63.49,360.17 64.54,359.83 65.60,362.16 66.66,362.57 67.72,365.44 68.77,367.45 69.83,367.17 70.89,368.46 71.95,370.72 73.00,371.64 74.06,373.82 75.12,375.46 76.18,376.54 77.24,378.50 78.29,379.55 79.35,380.67 80.41,381.76 81.47,383.03 82.52,384.08 83.58,384.97 84.64,385.78 85.70,386.56 86.76,387.32 87.81,388.05 88.87,388.75 89.93,389.43 90.99,389.86 92.04,390.26 93.10,390.65 94.16,391.03 95.22,391.41 96.28,391.77 97.33,392.12 98.39,392.47 99.45,392.81 100.51,393.14 101.56,393.46 102.62,393.77 103.68,394.07 104.74,394.37 105.79,394.66 106.85,394.94 107.91,395.22 108.97,395.49 110.03,395.75 111.08,396.01 112.14,396.26 113.20,396.51 114.26,396.74 115.31,396.98 116.37,397.20 117.43,397.42 118.49,397.64 119.55,397.85 120.60,398.05 121.66,398.25 122.72,398.45 123.78,398.64 124.83,398.82 125.89,399.00 126.95,399.18 128.01,399.35 129.06,399.52 130.12,399.68 131.18,399.84 132.24,399.99 133.30,400.14 134.35,400.29 135.41,400.43 136.47,400.51 137.53,400.59 138.58,400.66 139.64,400.74 140.70,400.81 141.76,400.88 142.81,400.95 143.87,401.02 144.93,401.09 145.99,401.16 147.05,401.23 148.10,401.30 149.16,401.36 150.22,401.43 151.28,401.49 152.33,401.55 153.39,401.62 154.45,401.68 155.51,401.74 156.57,401.80 157.62,401.85 158.68,401.91 159.74,401.97 160.80,402.03 161.85,402.08 162.91,402.14 163.97,402.19 165.03,402.24 166.09,402.30 167.14,402.35 168.20,402.40 169.26,402.45 170.32,402.50 171.37,402.55 172.43,402.59 173.49,402.64 174.55,402.69 175.60,402.74 176.66,402.78 177.72,402.83 178.78,402.87 179.84,402.91 180.89,402.96 181.95,403.00 183.01,403.04 184.07,403.08 185.12,403.12 186.18,403.13 187.24,403.13 188.30,403.14 189.36,403.14 190.41,403.15 191.47,403.15 192.53,403.16 193.59,403.16 194.64,403.17 195.70,403.17 196.76,403.18 197.82,403.18 198.87,403.19 199.93,403.19 200.99,403.20 202.05,403.20 203.11,403.21 204.16,403.21 205.22,403.22 206.28,403.22 207.34,403.23 208.39,403.23 209.45,403.24 210.51,403.24 211.57,403.25 212.63,403.25 213.68,403.26 214.74,403.26 215.80,403.27 216.86,403.27 217.91,403.28 218.97,403.28 220.03,403.29 221.09,403.29 222.14,403.30 223.20,403.30 224.26,403.30 225.32,403.28 226.38,403.25 227.43,403.22 228.49,403.20 229.55,403.17 230.61,403.14 231.66,403.11 232.72,403.09 233.78,403.06 234.84,403.03 235.90,403.00 236.95,402.97 238.01,402.94 239.07,402.91 240.13,402.88 241.18,402.85 242.24,402.82 243.30,402.79 244.36,402.76 245.41,402.73 246.47,402.69 247.53,402.66 248.59,402.63 249.65,402.60 250.70,402.56 251.76,402.53 252.82,402.50 253.88,402.46 254.93,402.43 255.99,402.39 257.05,402.36 258.11,402.32 259.17,402.29 260.22,402.25 261.28,402.21 262.34,402.18 263.40,402.14 264.45,402.10 265.51,402.06 266.57,402.02 267.63,401.99 268.68,401.95 269.74,401.91 270.80,401.87" fill="none" stroke="#a09a10" stroke-width="1.9" stroke-linejoin="round" />
<circle cx="38.10" cy="305.89" r="1.25" fill="none" stroke="#a09a10" stroke-width="1.0"/>
<circle cx="40.22" cy="319.68" r="1.25" fill="none" stroke="#a09a10" stroke-width="1.0"/>
<circle cx="42.33" cy="318.06" r="1.25" fill="none" stroke="#a09a10" stroke-width="1.0"/>
<circle cx="44.45" cy="329.78" r="1.25" fill="none" stroke="#a09a10" stroke-width="1.0"/>
<circle cx="46.56" cy="330.84" r="1.25" fill="none" stroke="#a09a10" stroke-width="1.0"/>
<circle cx="48.68" cy="333.49" r="1.25" fill="none" stroke="#a09a10" stroke-width="1.0"/>
<circle cx="50.79" cy="338.23" r="1.25" fill="none" stroke="#a09a10" stroke-width="1.0"/>
<circle cx="52.91" cy="337.38" r="1.25" fill="none" stroke="#a09a10" stroke-width="1.0"/>
<circle cx="55.02" cy="342.83" r="1.25" fill="none" stroke="#a09a10" stroke-width="1.0"/>
<circle cx="57.14" cy="348.19" r="1.25" fill="none" stroke="#a09a10" stroke-width="1.0"/>
<circle cx="59.25" cy="348.96" r="1.25" fill="none" stroke="#a09a10" stroke-width="1.0"/>
<circle cx="61.37" cy="354.90" r="1.25" fill="none" stroke="#a09a10" stroke-width="1.0"/>
<circle cx="63.49" cy="360.17" r="1.25" fill="none" stroke="#a09a10" stroke-width="1.0"/>
<circle cx="65.60" cy="362.16" r="1.25" fill="none" stroke="#a09a10" stroke-width="1.0"/>
<circle cx="67.72" cy="365.44" r="1.25" fill="none" stroke="#a09a10" stroke-width="1.0"/>
<circle cx="69.83" cy="367.17" r="1.25" fill="none" stroke="#a09a10" stroke-width="1.0"/>
<circle cx="71.95" cy="370.72" r="1.25" fill="none" stroke="#a09a10" stroke-width="1.0"/>
<circle cx="74.06" cy="373.82" r="1.25" fill="none" stroke="#a09a10" stroke-width="1.0"/>
<circle cx="76.18" cy="376.54" r="1.25" fill="none" stroke="#a09a10" stroke-width="1.0"/>
<circle cx="78.29" cy="379.55" r="1.25" fill="none" stroke="#a09a10" stroke-width="1.0"/>
<circle cx="80.41" cy="381.76" r="1.25" fill="none" stroke="#a09a10" stroke-width="1.0"/>
<circle cx="82.52" cy="384.08" r="1.25" fill="none" stroke="#a09a10" stroke-width="1.0"/>
<circle cx="84.64" cy="385.78" r="1.25" fill="none" stroke="#a09a10" stroke-width="1.0"/>
<circle cx="86.76" cy="387.32" r="1.25" fill="none" stroke="#a09a10" stroke-width="1.0"/>
<circle cx="88.87" cy="388.75" r="1.25" fill="none" stroke="#a09a10" stroke-width="1.0"/>
<circle cx="90.99" cy="389.86" r="1.25" fill="none" stroke="#a09a10" stroke-width="1.0"/>
<circle cx="93.10" cy="390.65" r="1.25" fill="none" stroke="#a09a10" stroke-width="1.0"/>
<circle cx="95.22" cy="391.41" r="1.25" fill="none" stroke="#a09a10" stroke-width="1.0"/>
<circle cx="97.33" cy="392.12" r="1.25" fill="none" stroke="#a09a10" stroke-width="1.0"/>
<circle cx="99.45" cy="392.81" r="1.25" fill="none" stroke="#a09a10" stroke-width="1.0"/>
<circle cx="101.56" cy="393.46" r="1.25" fill="none" stroke="#a09a10" stroke-width="1.0"/>
<polyline points="38.10,280.16 39.16,281.27 40.22,294.82 41.27,290.70 42.33,304.57 43.39,304.76 44.45,303.54 45.50,296.94 46.56,301.07 47.62,306.97 48.68,302.06 49.73,306.27 50.79,319.81 51.85,327.94 52.91,340.33 53.97,344.38 55.02,345.30 56.08,347.58 57.14,347.89 58.20,352.45 59.25,353.48 60.31,357.72 61.37,356.11 62.43,358.65 63.49,359.26 64.54,359.78 65.60,362.20 66.66,363.45 67.72,364.65 68.77,365.85 69.83,366.84 70.89,368.12 71.95,369.98 73.00,371.56 74.06,373.13 75.12,374.36 76.18,375.83 77.24,377.26 78.29,378.43 79.35,379.72 80.41,380.94 81.47,381.90 82.52,383.01 83.58,383.92 84.64,384.75 85.70,385.57 86.76,386.35 87.81,387.11 88.87,387.83 89.93,388.53 90.99,388.95 92.04,389.35 93.10,389.74 94.16,390.12 95.22,390.49 96.28,390.85 97.33,391.21 98.39,391.55 99.45,391.89 100.51,392.22 101.56,392.54 102.62,392.85 103.68,393.16 104.74,393.46 105.79,393.75 106.85,394.04 107.91,394.32 108.97,394.58 110.03,394.84 111.08,395.09 112.14,395.34 113.20,395.58 114.26,395.81 115.31,396.04 116.37,396.26 117.43,396.48 118.49,396.70 119.55,396.91 120.60,397.11 121.66,397.31 122.72,397.51 123.78,397.70 124.83,397.88 125.89,398.07 126.95,398.25 128.01,398.42 129.06,398.59 130.12,398.76 131.18,398.92 132.24,399.08 133.30,399.24 134.35,399.39 135.41,399.53 136.47,399.62 137.53,399.71 138.58,399.79 139.64,399.88 140.70,399.96 141.76,400.04 142.81,400.12 143.87,400.20 144.93,400.28 145.99,400.36 147.05,400.43 148.10,400.51 149.16,400.58 150.22,400.65 151.28,400.73 152.33,400.80 153.39,400.87 154.45,400.94 155.51,401.00 156.57,401.07 157.62,401.14 158.68,401.20 159.74,401.27 160.80,401.33 161.85,401.39 162.91,401.46 163.97,401.52 165.03,401.58 166.09,401.64 167.14,401.70 168.20,401.76 169.26,401.81 170.32,401.87 171.37,401.92 172.43,401.98 173.49,402.03 174.55,402.09 175.60,402.14 176.66,402.19 177.72,402.24 178.78,402.29 179.84,402.34 180.89,402.39 181.95,402.44 183.01,402.49 184.07,402.54 185.12,402.58 186.18,402.60 187.24,402.61 188.30,402.62 189.36,402.63 190.41,402.64 191.47,402.65 192.53,402.66 193.59,402.67 194.64,402.68 195.70,402.69 196.76,402.70 197.82,402.71 198.87,402.72 199.93,402.73 200.99,402.74 202.05,402.75 203.11,402.76 204.16,402.77 205.22,402.78 206.28,402.78 207.34,402.79 208.39,402.80 209.45,402.81 210.51,402.82 211.57,402.83 212.63,402.84 213.68,402.85 214.74,402.86 215.80,402.87 216.86,402.88 217.91,402.89 218.97,402.90 220.03,402.91 221.09,402.92 222.14,402.93 223.20,402.94 224.26,402.95 225.32,402.91 226.38,402.88 227.43,402.85 228.49,402.81 229.55,402.78 230.61,402.75 231.66,402.71 232.72,402.68 233.78,402.64 234.84,402.61 235.90,402.57 236.95,402.53 238.01,402.50 239.07,402.46 240.13,402.42 241.18,402.39 242.24,402.35 243.30,402.31 244.36,402.27 245.41,402.23 246.47,402.19 247.53,402.15 248.59,402.11 249.65,402.07 250.70,402.03 251.76,401.98 252.82,401.94 253.88,401.90 254.93,401.86 255.99,401.81 257.05,401.77 258.11,401.72 259.17,401.68 260.22,401.63 261.28,401.59 262.34,401.54 263.40,401.49 264.45,401.44 265.51,401.40 266.57,401.35 267.63,401.30 268.68,401.25 269.74,401.20 270.80,401.15" fill="none" stroke="#1f3fff" stroke-width="1.9" stroke-linejoin="round" />
<circle cx="38.10" cy="280.16" r="1.25" fill="none" stroke="#1f3fff" stroke-width="1.0"/>
<circle cx="40.22" cy="294.82" r="1.25" fill="none" stroke="#1f3fff" stroke-width="1.0"/>
<circle cx="42.33" cy="304.57" r="1.25" fill="none" stroke="#1f3fff" stroke-width="1.0"/>
<circle cx="44.45" cy="303.54" r="1.25" fill="none" stroke="#1f3fff" stroke-width="1.0"/>
<circle cx="46.56" cy="301.07" r="1.25" fill="none" stroke="#1f3fff" stroke-width="1.0"/>
<circle cx="48.68" cy="302.06" r="1.25" fill="none" stroke="#1f3fff" stroke-width="1.0"/>
<circle cx="50.79" cy="319.81" r="1.25" fill="none" stroke="#1f3fff" stroke-width="1.0"/>
<circle cx="52.91" cy="340.33" r="1.25" fill="none" stroke="#1f3fff" stroke-width="1.0"/>
<circle cx="55.02" cy="345.30" r="1.25" fill="none" stroke="#1f3fff" stroke-width="1.0"/>
<circle cx="57.14" cy="347.89" r="1.25" fill="none" stroke="#1f3fff" stroke-width="1.0"/>
<circle cx="59.25" cy="353.48" r="1.25" fill="none" stroke="#1f3fff" stroke-width="1.0"/>
<circle cx="61.37" cy="356.11" r="1.25" fill="none" stroke="#1f3fff" stroke-width="1.0"/>
<circle cx="63.49" cy="359.26" r="1.25" fill="none" stroke="#1f3fff" stroke-width="1.0"/>
<circle cx="65.60" cy="362.20" r="1.25" fill="none" stroke="#1f3fff" stroke-width="1.0"/>
<circle cx="67.72" cy="364.65" r="1.25" fill="none" stroke="#1f3fff" stroke-width="1.0"/>
<circle cx="69.83" cy="366.84" r="1.25" fill="none" stroke="#1f3fff" stroke-width="1.0"/>
<circle cx="71.95" cy="369.98" r="1.25" fill="none" stroke="#1f3fff" stroke-width="1.0"/>
<circle cx="74.06" cy="373.13" r="1.25" fill="none" stroke="#1f3fff" stroke-width="1.0"/>
<circle cx="76.18" cy="375.83" r="1.25" fill="none" stroke="#1f3fff" stroke-width="1.0"/>
<circle cx="78.29" cy="378.43" r="1.25" fill="none" stroke="#1f3fff" stroke-width="1.0"/>
<circle cx="80.41" cy="380.94" r="1.25" fill="none" stroke="#1f3fff" stroke-width="1.0"/>
<circle cx="82.52" cy="383.01" r="1.25" fill="none" stroke="#1f3fff" stroke-width="1.0"/>
<circle cx="84.64" cy="384.75" r="1.25" fill="none" stroke="#1f3fff" stroke-width="1.0"/>
<circle cx="86.76" cy="386.35" r="1.25" fill="none" stroke="#1f3fff" stroke-width="1.0"/>
<circle cx="88.87" cy="387.83" r="1.25" fill="none" stroke="#1f3fff" stroke-width="1.0"/>
<circle cx="90.99" cy="388.95" r="1.25" fill="none" stroke="#1f3fff" stroke-width="1.0"/>
<circle cx="93.10" cy="389.74" r="1.25" fill="none" stroke="#1f3fff" stroke-width="1.0"/>
<circle cx="95.22" cy="390.49" r="1.25" fill="none" stroke="#1f3fff" stroke-width="1.0"/>
<circle cx="97.33" cy="391.21" r="1.25" fill="none" stroke="#1f3fff" stroke-width="1.0"/>
<circle cx="99.45" cy="391.89" r="1.25" fill="none" stroke="#1f3fff" stroke-width="1.0"/>
<circle cx="101.56" cy="392.54" r="1.25" fill="none" stroke="#1f3fff" stroke-width="1.0"/>
</g>
<line x1="34.60" y1="406.00" x2="38.10" y2="406.00" stroke="#000" stroke-width="1.3" />
<text x="33.90" y="410.00" font-size="11.5" text-anchor="end" fill="#000" font-family="Liberation Serif" font-weight="bold">0</text>
<line x1="34.60" y1="370.06" x2="38.10" y2="370.06" stroke="#000" stroke-width="1.3" />
<text x="33.90" y="374.06" font-size="11.5" text-anchor="end" fill="#000" font-family="Liberation Serif" font-weight="bold">2</text>
<line x1="34.60" y1="334.12" x2="38.10" y2="334.12" stroke="#000" stroke-width="1.3" />
<text x="33.90" y="338.12" font-size="11.5" text-anchor="end" fill="#000" font-family="Liberation Serif" font-weight="bold">4</text>
<line x1="34.60" y1="298.18" x2="38.10" y2="298.18" stroke="#000" stroke-width="1.3" />
<text x="33.90" y="302.18" font-size="11.5" text-anchor="end" fill="#000" font-family="Liberation Serif" font-weight="bold">6</text>
<line x1="34.60" y1="262.24" x2="38.10" y2="262.24" stroke="#000" stroke-width="1.3" />
<text x="33.90" y="266.24" font-size="11.5" text-anchor="end" fill="#000" font-family="Liberation Serif" font-weight="bold">8</text>
<line x1="34.60" y1="226.30" x2="38.10" y2="226.30" stroke="#000" stroke-width="1.3" />
<text x="33.90" y="230.30" font-size="11.5" text-anchor="end" fill="#000" font-family="Liberation Serif" font-weight="bold">10</text>
<line x1="36.10" y1="388.03" x2="38.10" y2="388.03" stroke="#000" stroke-width="1" />
<line x1="36.10" y1="352.09" x2="38.10" y2="352.09" stroke="#000" stroke-width="1" />
<line x1="36.10" y1="316.15" x2="38.10" y2="316.15" stroke="#000" stroke-width="1" />
<line x1="36.10" y1="280.21" x2="38.10" y2="280.21" stroke="#000" stroke-width="1" />
<line x1="36.10" y1="244.27" x2="38.10" y2="244.27" stroke="#000" stroke-width="1" />
<line x1="38.10" y1="406.00" x2="38.10" y2="409.50" stroke="#000" stroke-width="1.3" />
<text x="38.30" y="423.60" font-size="12" text-anchor="middle" fill="#000" font-family="Liberation Serif" font-weight="bold">10<tspan font-size="7.2" dx="0.8" dy="-6.4">2</tspan></text>
<line x1="52.11" y1="406.00" x2="52.11" y2="408.00" stroke="#000" stroke-width="0.9" />
<line x1="60.31" y1="406.00" x2="60.31" y2="408.00" stroke="#000" stroke-width="0.9" />
<line x1="66.12" y1="406.00" x2="66.12" y2="408.00" stroke="#000" stroke-width="0.9" />
<line x1="70.63" y1="406.00" x2="70.63" y2="408.00" stroke="#000" stroke-width="0.9" />
<line x1="74.32" y1="406.00" x2="74.32" y2="408.00" stroke="#000" stroke-width="0.9" />
<line x1="77.43" y1="406.00" x2="77.43" y2="408.00" stroke="#000" stroke-width="0.9" />
<line x1="80.13" y1="406.00" x2="80.13" y2="408.00" stroke="#000" stroke-width="0.9" />
<line x1="82.51" y1="406.00" x2="82.51" y2="408.00" stroke="#000" stroke-width="0.9" />
<line x1="84.64" y1="406.00" x2="84.64" y2="409.50" stroke="#000" stroke-width="1.3" />
<text x="84.84" y="423.60" font-size="12" text-anchor="middle" fill="#000" font-family="Liberation Serif" font-weight="bold">10<tspan font-size="7.2" dx="0.8" dy="-6.4">3</tspan></text>
<line x1="98.65" y1="406.00" x2="98.65" y2="408.00" stroke="#000" stroke-width="0.9" />
<line x1="106.85" y1="406.00" x2="106.85" y2="408.00" stroke="#000" stroke-width="0.9" />
<line x1="112.66" y1="406.00" x2="112.66" y2="408.00" stroke="#000" stroke-width="0.9" />
<line x1="117.17" y1="406.00" x2="117.17" y2="408.00" stroke="#000" stroke-width="0.9" />
<line x1="120.86" y1="406.00" x2="120.86" y2="408.00" stroke="#000" stroke-width="0.9" />
<line x1="123.97" y1="406.00" x2="123.97" y2="408.00" stroke="#000" stroke-width="0.9" />
<line x1="126.67" y1="406.00" x2="126.67" y2="408.00" stroke="#000" stroke-width="0.9" />
<line x1="129.05" y1="406.00" x2="129.05" y2="408.00" stroke="#000" stroke-width="0.9" />
<line x1="131.18" y1="406.00" x2="131.18" y2="409.50" stroke="#000" stroke-width="1.3" />
<text x="131.38" y="423.60" font-size="12" text-anchor="middle" fill="#000" font-family="Liberation Serif" font-weight="bold">10<tspan font-size="7.2" dx="0.8" dy="-6.4">4</tspan></text>
<line x1="145.19" y1="406.00" x2="145.19" y2="408.00" stroke="#000" stroke-width="0.9" />
<line x1="153.39" y1="406.00" x2="153.39" y2="408.00" stroke="#000" stroke-width="0.9" />
<line x1="159.20" y1="406.00" x2="159.20" y2="408.00" stroke="#000" stroke-width="0.9" />
<line x1="163.71" y1="406.00" x2="163.71" y2="408.00" stroke="#000" stroke-width="0.9" />
<line x1="167.40" y1="406.00" x2="167.40" y2="408.00" stroke="#000" stroke-width="0.9" />
<line x1="170.51" y1="406.00" x2="170.51" y2="408.00" stroke="#000" stroke-width="0.9" />
<line x1="173.21" y1="406.00" x2="173.21" y2="408.00" stroke="#000" stroke-width="0.9" />
<line x1="175.59" y1="406.00" x2="175.59" y2="408.00" stroke="#000" stroke-width="0.9" />
<line x1="177.72" y1="406.00" x2="177.72" y2="409.50" stroke="#000" stroke-width="1.3" />
<text x="177.92" y="423.60" font-size="12" text-anchor="middle" fill="#000" font-family="Liberation Serif" font-weight="bold">10<tspan font-size="7.2" dx="0.8" dy="-6.4">5</tspan></text>
<line x1="191.73" y1="406.00" x2="191.73" y2="408.00" stroke="#000" stroke-width="0.9" />
<line x1="199.93" y1="406.00" x2="199.93" y2="408.00" stroke="#000" stroke-width="0.9" />
<line x1="205.74" y1="406.00" x2="205.74" y2="408.00" stroke="#000" stroke-width="0.9" />
<line x1="210.25" y1="406.00" x2="210.25" y2="408.00" stroke="#000" stroke-width="0.9" />
<line x1="213.94" y1="406.00" x2="213.94" y2="408.00" stroke="#000" stroke-width="0.9" />
<line x1="217.05" y1="406.00" x2="217.05" y2="408.00" stroke="#000" stroke-width="0.9" />
<line x1="219.75" y1="406.00" x2="219.75" y2="408.00" stroke="#000" stroke-width="0.9" />
<line x1="222.13" y1="406.00" x2="222.13" y2="408.00" stroke="#000" stroke-width="0.9" />
<line x1="224.26" y1="406.00" x2="224.26" y2="409.50" stroke="#000" stroke-width="1.3" />
<text x="224.46" y="423.60" font-size="12" text-anchor="middle" fill="#000" font-family="Liberation Serif" font-weight="bold">10<tspan font-size="7.2" dx="0.8" dy="-6.4">6</tspan></text>
<line x1="238.27" y1="406.00" x2="238.27" y2="408.00" stroke="#000" stroke-width="0.9" />
<line x1="246.47" y1="406.00" x2="246.47" y2="408.00" stroke="#000" stroke-width="0.9" />
<line x1="252.28" y1="406.00" x2="252.28" y2="408.00" stroke="#000" stroke-width="0.9" />
<line x1="256.79" y1="406.00" x2="256.79" y2="408.00" stroke="#000" stroke-width="0.9" />
<line x1="260.48" y1="406.00" x2="260.48" y2="408.00" stroke="#000" stroke-width="0.9" />
<line x1="263.59" y1="406.00" x2="263.59" y2="408.00" stroke="#000" stroke-width="0.9" />
<line x1="266.29" y1="406.00" x2="266.29" y2="408.00" stroke="#000" stroke-width="0.9" />
<line x1="268.67" y1="406.00" x2="268.67" y2="408.00" stroke="#000" stroke-width="0.9" />
<line x1="270.80" y1="406.00" x2="270.80" y2="409.50" stroke="#000" stroke-width="1.3" />
<text x="271.00" y="423.60" font-size="12" text-anchor="middle" fill="#000" font-family="Liberation Serif" font-weight="bold">10<tspan font-size="7.2" dx="0.8" dy="-6.4">7</tspan></text>
<rect x="38.10" y="226.30" width="232.70" height="179.70" fill="none" stroke="#000" stroke-width="2" />
<text x="18.30" y="315.50" font-size="13.3" text-anchor="middle" fill="#000" transform="rotate(-90 18.30 315.50)" font-family="Liberation Serif" font-weight="bold">Dissipation factor (D)</text>
<text x="155.00" y="438.50" font-size="13" text-anchor="middle" fill="#000" font-family="Liberation Serif" font-weight="bold">Frequency (Hz)</text>
<rect x="79.20" y="375.80" width="11.60" height="34.50" fill="none" stroke="#ff2020" stroke-width="1" />
<line x1="85.20" y1="374.50" x2="96.17" y2="341.80" stroke="#000" stroke-width="1.4" />
<polygon points="98.4,334.7 92.85,340.23 99.49,342.45" fill="#000"/>
<rect x="71.50" y="233.50" width="113.70" height="87.80" fill="url(#g1)" stroke="none" stroke-width="1" />
<polyline points="71.50,317.20 92.53,317.20 134.60,317.20 177.81,317.20 185.20,317.20" fill="none" stroke="#000000" stroke-width="1.8" stroke-linejoin="round" />
<circle cx="92.53" cy="317.20" r="1.3" fill="#000000" stroke="#fff" stroke-width="0.4"/>
<circle cx="134.60" cy="317.20" r="1.3" fill="#000000" stroke="#fff" stroke-width="0.4"/>
<circle cx="177.81" cy="317.20" r="1.3" fill="#000000" stroke="#fff" stroke-width="0.4"/>
<polyline points="71.50,292.62 92.53,292.03 134.60,294.96 177.81,295.55 185.20,296.13" fill="none" stroke="#ff3fa8" stroke-width="1.8" stroke-linejoin="round" />
<circle cx="92.53" cy="292.03" r="1.3" fill="#ff3fa8" stroke="#fff" stroke-width="0.4"/>
<circle cx="134.60" cy="294.96" r="1.3" fill="#ff3fa8" stroke="#fff" stroke-width="0.4"/>
<circle cx="177.81" cy="295.55" r="1.3" fill="#ff3fa8" stroke="#fff" stroke-width="0.4"/>
<polyline points="71.50,279.16 92.53,279.74 134.60,280.91 177.81,282.67 185.20,283.25" fill="none" stroke="#1e9a1e" stroke-width="1.8" stroke-linejoin="round" />
<circle cx="92.53" cy="279.74" r="1.3" fill="#1e9a1e" stroke="#fff" stroke-width="0.4"/>
<circle cx="134.60" cy="280.91" r="1.3" fill="#1e9a1e" stroke="#fff" stroke-width="0.4"/>
<circle cx="177.81" cy="282.67" r="1.3" fill="#1e9a1e" stroke="#fff" stroke-width="0.4"/>
<polyline points="71.50,259.25 92.53,261.60 134.60,263.94 177.81,266.28 185.20,266.86" fill="none" stroke="#1c1ca0" stroke-width="1.8" stroke-linejoin="round" />
<circle cx="92.53" cy="261.60" r="1.3" fill="#1c1ca0" stroke="#fff" stroke-width="0.4"/>
<circle cx="134.60" cy="263.94" r="1.3" fill="#1c1ca0" stroke="#fff" stroke-width="0.4"/>
<circle cx="177.81" cy="266.28" r="1.3" fill="#1c1ca0" stroke="#fff" stroke-width="0.4"/>
<polyline points="71.50,251.65 92.53,253.40 134.60,255.74 177.81,258.08 185.20,258.67" fill="none" stroke="#ff1e1e" stroke-width="1.8" stroke-linejoin="round" />
<circle cx="92.53" cy="253.40" r="1.3" fill="#ff1e1e" stroke="#fff" stroke-width="0.4"/>
<circle cx="134.60" cy="255.74" r="1.3" fill="#ff1e1e" stroke="#fff" stroke-width="0.4"/>
<circle cx="177.81" cy="258.08" r="1.3" fill="#ff1e1e" stroke="#fff" stroke-width="0.4"/>
<polyline points="71.50,250.47 92.53,252.82 134.60,255.16 177.81,257.50 185.20,258.08" fill="none" stroke="#9a3aa8" stroke-width="1.8" stroke-linejoin="round" />
<circle cx="92.53" cy="252.82" r="1.3" fill="#9a3aa8" stroke="#fff" stroke-width="0.4"/>
<circle cx="134.60" cy="255.16" r="1.3" fill="#9a3aa8" stroke="#fff" stroke-width="0.4"/>
<circle cx="177.81" cy="257.50" r="1.3" fill="#9a3aa8" stroke="#fff" stroke-width="0.4"/>
<polyline points="71.50,251.06 92.53,252.82 134.60,255.74 177.81,258.67 185.20,259.84" fill="none" stroke="#8b1010" stroke-width="1.8" stroke-linejoin="round" />
<circle cx="92.53" cy="252.82" r="1.3" fill="#8b1010" stroke="#fff" stroke-width="0.4"/>
<circle cx="134.60" cy="255.74" r="1.3" fill="#8b1010" stroke="#fff" stroke-width="0.4"/>
<circle cx="177.81" cy="258.67" r="1.3" fill="#8b1010" stroke="#fff" stroke-width="0.4"/>
<polyline points="71.50,249.89 92.53,251.06 134.60,255.16 177.81,258.08 185.20,258.67" fill="none" stroke="#a09a10" stroke-width="1.8" stroke-linejoin="round" />
<circle cx="92.53" cy="251.06" r="1.3" fill="#a09a10" stroke="#fff" stroke-width="0.4"/>
<circle cx="134.60" cy="255.16" r="1.3" fill="#a09a10" stroke="#fff" stroke-width="0.4"/>
<circle cx="177.81" cy="258.08" r="1.3" fill="#a09a10" stroke="#fff" stroke-width="0.4"/>
<polyline points="71.50,246.38 92.53,246.38 134.60,253.99 177.81,256.91 185.20,256.91" fill="none" stroke="#1f3fff" stroke-width="1.8" stroke-linejoin="round" />
<circle cx="92.53" cy="246.38" r="1.3" fill="#1f3fff" stroke="#fff" stroke-width="0.4"/>
<circle cx="134.60" cy="253.99" r="1.3" fill="#1f3fff" stroke="#fff" stroke-width="0.4"/>
<circle cx="177.81" cy="256.91" r="1.3" fill="#1f3fff" stroke="#fff" stroke-width="0.4"/>
<rect x="71.50" y="233.50" width="113.70" height="87.80" fill="none" stroke="#ff1a1a" stroke-width="1.5" />
<line x1="69.50" y1="321.30" x2="71.50" y2="321.30" stroke="#ff1a1a" stroke-width="1" />
<text x="70.00" y="324.60" font-size="9.5" text-anchor="end" fill="#ff1a1a" font-family="Liberation Serif" font-weight="bold">0.0</text>
<line x1="69.50" y1="292.03" x2="71.50" y2="292.03" stroke="#ff1a1a" stroke-width="1" />
<text x="70.00" y="295.33" font-size="9.5" text-anchor="end" fill="#ff1a1a" font-family="Liberation Serif" font-weight="bold">0.5</text>
<line x1="69.50" y1="262.77" x2="71.50" y2="262.77" stroke="#ff1a1a" stroke-width="1" />
<text x="70.00" y="266.07" font-size="9.5" text-anchor="end" fill="#ff1a1a" font-family="Liberation Serif" font-weight="bold">1.0</text>
<line x1="69.50" y1="233.50" x2="71.50" y2="233.50" stroke="#ff1a1a" stroke-width="1" />
<text x="70.00" y="236.80" font-size="9.5" text-anchor="end" fill="#ff1a1a" font-family="Liberation Serif" font-weight="bold">1.5</text>
<text x="71.50" y="331.50" font-size="9.2" text-anchor="middle" fill="#ff1a1a" font-family="Liberation Serif" font-weight="bold">900</text>
<text x="101.92" y="331.50" font-size="9.2" text-anchor="middle" fill="#ff1a1a" font-family="Liberation Serif" font-weight="bold">950</text>
<text x="131.85" y="331.50" font-size="9.2" text-anchor="middle" fill="#ff1a1a" font-family="Liberation Serif" font-weight="bold">1000</text>
<text x="159.08" y="331.50" font-size="9.2" text-anchor="middle" fill="#ff1a1a" font-family="Liberation Serif" font-weight="bold">1050</text>
<text x="185.70" y="331.50" font-size="9.2" text-anchor="middle" fill="#ff1a1a" font-family="Liberation Serif" font-weight="bold">1100</text>
<text x="101.30" y="343.50" font-size="9.5" text-anchor="start" fill="#ff1a1a" font-family="Liberation Serif" font-weight="bold">Frequency (Hz)</text>
<text x="54.80" y="277.20" font-size="14" text-anchor="middle" fill="#ff1a1a" transform="rotate(-90 54.80 277.20)" font-family="Liberation Serif" font-weight="bold">D</text>
<line x1="194.80" y1="232.20" x2="215.00" y2="232.20" stroke="#000000" stroke-width="1.4" />
<circle cx="205" cy="232.20" r="1.2" fill="#000000"/>
<text x="217.80" y="235.30" font-size="8.5" text-anchor="start" fill="#000" font-family="Liberation Serif" font-weight="bold">Dark</text>
<line x1="194.80" y1="245.00" x2="215.00" y2="245.00" stroke="#ff3fa8" stroke-width="1.4" />
<circle cx="205" cy="245.00" r="1.2" fill="#ff3fa8"/>
<text x="217.80" y="248.10" font-size="8.5" text-anchor="start" fill="#000" font-family="Liberation Serif" font-weight="bold">0.06 mW/cm<tspan font-size="5.6" dx="0.6" dy="-4.3">2</tspan></text>
<line x1="194.80" y1="257.80" x2="215.00" y2="257.80" stroke="#1e9a1e" stroke-width="1.4" />
<circle cx="205" cy="257.80" r="1.2" fill="#1e9a1e"/>
<text x="217.80" y="260.90" font-size="8.5" text-anchor="start" fill="#000" font-family="Liberation Serif" font-weight="bold">0.27 mW/cm<tspan font-size="5.6" dx="0.6" dy="-4.3">2</tspan></text>
<line x1="194.80" y1="270.60" x2="215.00" y2="270.60" stroke="#1c1ca0" stroke-width="1.4" />
<circle cx="205" cy="270.60" r="1.2" fill="#1c1ca0"/>
<text x="217.80" y="273.70" font-size="8.5" text-anchor="start" fill="#000" font-family="Liberation Serif" font-weight="bold">0.68 mW/cm<tspan font-size="5.6" dx="0.6" dy="-4.3">2</tspan></text>
<line x1="194.80" y1="283.40" x2="215.00" y2="283.40" stroke="#ff1e1e" stroke-width="1.4" />
<circle cx="205" cy="283.40" r="1.2" fill="#ff1e1e"/>
<text x="217.80" y="286.50" font-size="8.5" text-anchor="start" fill="#000" font-family="Liberation Serif" font-weight="bold">1.25 mW/cm<tspan font-size="5.6" dx="0.6" dy="-4.3">2</tspan></text>
<line x1="194.80" y1="296.20" x2="215.00" y2="296.20" stroke="#9a3aa8" stroke-width="1.4" />
<circle cx="205" cy="296.20" r="1.2" fill="#9a3aa8"/>
<text x="217.80" y="299.30" font-size="8.5" text-anchor="start" fill="#000" font-family="Liberation Serif" font-weight="bold">1.98 mW/cm<tspan font-size="5.6" dx="0.6" dy="-4.3">2</tspan></text>
<line x1="194.80" y1="309.00" x2="215.00" y2="309.00" stroke="#8b1010" stroke-width="1.4" />
<circle cx="205" cy="309.00" r="1.2" fill="#8b1010"/>
<text x="217.80" y="312.10" font-size="8.5" text-anchor="start" fill="#000" font-family="Liberation Serif" font-weight="bold">2.60 mW/cm<tspan font-size="5.6" dx="0.6" dy="-4.3">2</tspan></text>
<line x1="194.80" y1="321.80" x2="215.00" y2="321.80" stroke="#a09a10" stroke-width="1.4" />
<circle cx="205" cy="321.80" r="1.2" fill="#a09a10"/>
<text x="217.80" y="324.90" font-size="8.5" text-anchor="start" fill="#000" font-family="Liberation Serif" font-weight="bold">3.08 mW/cm<tspan font-size="5.6" dx="0.6" dy="-4.3">2</tspan></text>
<line x1="194.80" y1="334.60" x2="215.00" y2="334.60" stroke="#1f3fff" stroke-width="1.4" />
<circle cx="205" cy="334.60" r="1.2" fill="#1f3fff"/>
<text x="217.80" y="337.70" font-size="8.5" text-anchor="start" fill="#000" font-family="Liberation Serif" font-weight="bold">3.23 mW/cm<tspan font-size="5.6" dx="0.6" dy="-4.3">2</tspan></text>
<g clip-path="url(#cpd)">
<polyline points="344.60,317.93 345.31,318.52 346.01,319.91 346.72,317.89 347.42,318.85 348.13,318.59 348.83,319.16 349.54,319.60 350.25,320.75 350.95,319.28 351.66,320.13 352.36,320.55 353.07,320.34 353.78,320.73 354.48,320.55 355.19,321.46 355.89,321.45 356.60,323.07 357.30,322.14 358.01,321.62 358.72,321.39 359.42,322.74 360.13,322.79 360.83,321.87 361.54,323.36 362.24,322.86 362.95,322.44 363.66,323.75 364.36,323.17 365.07,324.68 365.77,324.28 366.48,324.69 367.18,324.77 367.89,324.31 368.60,323.68 369.30,325.94 370.01,326.09 370.71,325.59 371.42,326.84 372.12,326.01 372.83,326.18 373.54,326.96 374.24,326.63 374.95,328.24 375.65,326.91 376.36,328.66 377.07,328.31 377.77,328.43 378.48,328.54 379.18,327.91 379.89,328.64 380.59,329.18 381.30,328.76 382.01,328.28 382.71,329.55 383.42,329.52 384.12,329.14 384.83,329.99 385.53,331.23 386.24,328.91 386.95,329.30 387.65,332.30 388.36,331.20 389.06,331.08 389.77,330.91 390.48,331.30 391.18,332.11 391.89,332.83 392.59,332.24 393.30,331.81 394.00,333.42 394.71,333.56 395.42,333.08 396.12,334.55 396.83,333.62 397.53,333.92 398.24,333.52 398.94,334.48 399.65,334.79 400.36,334.65 401.06,334.61 401.77,335.23 402.47,335.00 403.18,334.74 403.88,334.70 404.59,334.61 405.30,336.56 406.00,336.61 406.71,338.29 407.41,335.68 408.12,337.78 408.83,337.66 409.53,337.66 410.24,339.29 410.94,338.45 411.65,339.16 412.35,340.74 413.06,339.70 413.77,339.47 414.47,341.90 415.18,340.52 415.88,341.40 416.59,341.76 417.29,342.38 418.00,342.46 418.71,344.20 419.41,344.24 420.12,345.94 420.82,346.07 421.53,348.05 422.23,348.59 422.94,348.43 423.65,350.44 424.35,351.99 425.06,353.79 425.76,354.69 426.47,355.17 427.18,355.81 427.88,357.28 428.59,358.34 429.29,360.15 430.00,361.08 430.70,364.53 431.41,367.35 432.12,369.52 432.82,373.33 433.53,376.80 434.23,380.74 434.94,384.56 435.64,388.75 436.35,394.05 437.06,378.91 437.76,363.43 438.47,358.16 439.17,354.80 439.88,352.15 440.58,351.54 441.29,348.79 442.00,347.69 442.70,347.59 443.41,345.50 444.11,345.36 444.82,344.70 445.53,343.39 446.23,342.65 446.94,343.76 447.64,342.84 448.35,343.55 449.05,341.22 449.76,342.85 450.47,341.20 451.17,342.13 451.88,340.83 452.58,339.56 453.29,342.41 453.99,340.65 454.70,339.68 455.41,339.73 456.11,339.78 456.82,337.57 457.52,338.65 458.23,339.50 458.93,337.54 459.64,338.99 460.35,336.80 461.05,337.70 461.76,336.96 462.46,335.95 463.17,336.46 463.88,337.21 464.58,337.16 465.29,334.98 465.99,335.01 466.70,335.80 467.40,334.44 468.11,334.45 468.82,334.12 469.52,335.85 470.23,334.34 470.93,333.34 471.64,333.27 472.34,333.00 473.05,335.07 473.76,333.15 474.46,332.79 475.17,331.28 475.87,333.49 476.58,332.94 477.28,332.57 477.99,331.87 478.70,332.62 479.40,331.42 480.11,332.57 480.81,331.72 481.52,332.09 482.23,331.48 482.93,331.88 483.64,332.32 484.34,330.34 485.05,330.69 485.75,331.09 486.46,330.39 487.17,329.67 487.87,330.79 488.58,330.01 489.28,329.38 489.99,329.19 490.69,329.57 491.40,330.56 492.11,328.12 492.81,328.53 493.52,328.55 494.22,328.54 494.93,327.98 495.63,328.25 496.34,328.45 497.05,328.06 497.75,327.77 498.46,327.59 499.16,327.75 499.87,326.36 500.58,327.46 501.28,325.95 501.99,326.87 502.69,325.76 503.40,324.88 504.10,325.46 504.81,325.89 505.52,325.17 506.22,324.91 506.93,325.97 507.63,325.02 508.34,324.31 509.04,324.53 509.75,323.97 510.46,323.33 511.16,323.12 511.87,322.83 512.57,322.84 513.28,323.23 513.98,322.85 514.69,322.82 515.40,322.66 516.10,322.37 516.81,323.21 517.51,322.08 518.22,321.67 518.92,322.11 519.63,321.28 520.34,320.72 521.04,320.98 521.75,319.28 522.45,322.22 523.16,320.42 523.87,321.30 524.57,319.33 525.28,318.11 525.98,321.46 526.69,319.60 527.39,319.24 528.10,319.69" fill="none" stroke="#000000" stroke-width="1.6" stroke-linejoin="round" />
<polyline points="344.60,311.23 345.31,313.22 346.01,311.27 346.72,311.72 347.42,312.07 348.13,312.60 348.83,311.90 349.54,312.90 350.25,312.67 350.95,313.40 351.66,314.80 352.36,313.57 353.07,313.65 353.78,313.53 354.48,314.86 355.19,314.54 355.89,314.35 356.60,314.90 357.30,314.41 358.01,314.16 358.72,316.34 359.42,317.26 360.13,315.64 360.83,315.44 361.54,316.09 362.24,316.40 362.95,317.60 363.66,317.91 364.36,317.08 365.07,318.53 365.77,319.37 366.48,319.07 367.18,316.98 367.89,317.60 368.60,319.59 369.30,319.86 370.01,319.46 370.71,320.36 371.42,319.23 372.12,320.40 372.83,321.32 373.54,319.96 374.24,321.47 374.95,321.17 375.65,321.57 376.36,322.02 377.07,321.83 377.77,322.76 378.48,323.77 379.18,324.26 379.89,323.87 380.59,323.77 381.30,323.52 382.01,323.71 382.71,323.62 383.42,324.15 384.12,324.99 384.83,325.17 385.53,326.34 386.24,325.27 386.95,325.06 387.65,325.25 388.36,325.91 389.06,326.16 389.77,325.64 390.48,326.47 391.18,326.20 391.89,326.52 392.59,326.98 393.30,326.46 394.00,327.94 394.71,328.01 395.42,328.52 396.12,328.73 396.83,327.37 397.53,327.45 398.24,328.82 398.94,328.67 399.65,328.48 400.36,328.94 401.06,328.89 401.77,330.78 402.47,330.61 403.18,330.15 403.88,329.78 404.59,330.97 405.30,331.93 406.00,331.92 406.71,332.48 407.41,332.98 408.12,331.78 408.83,333.60 409.53,333.59 410.24,332.58 410.94,333.66 411.65,334.66 412.35,335.72 413.06,335.47 413.77,335.09 414.47,336.18 415.18,336.22 415.88,337.53 416.59,337.85 417.29,338.99 418.00,339.29 418.71,339.50 419.41,342.18 420.12,342.17 420.82,342.94 421.53,344.52 422.23,345.44 422.94,345.88 423.65,346.31 424.35,348.47 425.06,349.90 425.76,352.37 426.47,351.26 427.18,353.70 427.88,354.98 428.59,356.90 429.29,357.71 430.00,360.40 430.70,362.08 431.41,364.74 432.12,368.42 432.82,371.77 433.53,376.01 434.23,378.50 434.94,383.97 435.64,388.47 436.35,394.05 437.06,377.50 437.76,360.38 438.47,354.90 439.17,352.74 439.88,348.60 440.58,347.23 441.29,345.65 442.00,343.90 442.70,342.57 443.41,342.63 444.11,341.07 444.82,339.32 445.53,339.29 446.23,339.50 446.94,339.14 447.64,339.21 448.35,339.06 449.05,338.38 449.76,338.71 450.47,339.58 451.17,337.66 451.88,337.88 452.58,336.48 453.29,336.93 453.99,336.02 454.70,334.25 455.41,335.99 456.11,335.64 456.82,335.44 457.52,335.72 458.23,335.02 458.93,333.17 459.64,333.50 460.35,334.00 461.05,333.43 461.76,331.72 462.46,332.34 463.17,331.75 463.88,330.98 464.58,329.98 465.29,329.28 465.99,329.57 466.70,329.86 467.40,329.54 468.11,328.18 468.82,328.16 469.52,329.06 470.23,328.30 470.93,328.18 471.64,328.12 472.34,328.28 473.05,328.63 473.76,327.91 474.46,328.41 475.17,326.40 475.87,326.70 476.58,327.70 477.28,325.81 477.99,325.98 478.70,327.70 479.40,325.02 480.11,325.54 480.81,324.52 481.52,326.54 482.23,325.17 482.93,325.04 483.64,324.98 484.34,324.79 485.05,323.99 485.75,325.47 486.46,325.07 487.17,324.94 487.87,324.14 488.58,323.94 489.28,323.05 489.99,322.88 490.69,322.80 491.40,323.03 492.11,322.64 492.81,321.47 493.52,321.35 494.22,321.56 494.93,321.60 495.63,320.11 496.34,321.31 497.05,320.24 497.75,319.66 498.46,320.38 499.16,319.41 499.87,320.47 500.58,318.81 501.28,319.11 501.99,320.07 502.69,318.32 503.40,319.13 504.10,317.44 504.81,318.51 505.52,317.93 506.22,317.39 506.93,317.56 507.63,316.93 508.34,317.24 509.04,316.18 509.75,316.39 510.46,316.01 511.16,317.76 511.87,314.90 512.57,315.42 513.28,316.39 513.98,314.90 514.69,314.41 515.40,313.77 516.10,314.97 516.81,312.98 517.51,313.88 518.22,311.93 518.92,313.39 519.63,312.60 520.34,313.07 521.04,313.33 521.75,311.61 522.45,311.50 523.16,310.84 523.87,311.06 524.57,311.89 525.28,312.50 525.98,311.71 526.69,311.61 527.39,311.58 528.10,310.53" fill="none" stroke="#ff3fa8" stroke-width="1.6" stroke-linejoin="round" />
<polyline points="344.60,303.45 345.31,303.99 346.01,303.83 346.72,304.18 347.42,304.08 348.13,303.85 348.83,303.85 349.54,305.23 350.25,306.05 350.95,304.37 351.66,305.52 352.36,305.13 353.07,307.25 353.78,306.64 354.48,306.68 355.19,307.94 355.89,307.59 356.60,307.04 357.30,307.08 358.01,307.01 358.72,308.93 359.42,309.56 360.13,308.55 360.83,308.55 361.54,309.32 362.24,310.60 362.95,309.48 363.66,309.75 364.36,310.18 365.07,311.16 365.77,310.90 366.48,310.85 367.18,312.03 367.89,313.17 368.60,311.99 369.30,312.16 370.01,312.75 370.71,312.44 371.42,313.70 372.12,313.64 372.83,314.06 373.54,313.75 374.24,313.34 374.95,314.85 375.65,313.59 376.36,314.21 377.07,314.98 377.77,315.39 378.48,314.88 379.18,316.46 379.89,316.69 380.59,317.60 381.30,316.85 382.01,316.54 382.71,317.35 383.42,317.70 384.12,318.38 384.83,318.40 385.53,319.73 386.24,318.33 386.95,319.56 387.65,320.28 388.36,320.30 389.06,320.59 389.77,319.72 390.48,319.83 391.18,321.69 391.89,320.40 392.59,320.67 393.30,321.89 394.00,322.74 394.71,322.49 395.42,322.66 396.12,322.25 396.83,322.96 397.53,324.32 398.24,323.05 398.94,324.48 399.65,323.09 400.36,324.74 401.06,324.65 401.77,325.02 402.47,325.10 403.18,324.17 403.88,324.79 404.59,325.29 405.30,325.84 406.00,327.47 406.71,327.18 407.41,327.61 408.12,328.33 408.83,327.79 409.53,329.10 410.24,329.56 410.94,330.27 411.65,331.44 412.35,330.15 413.06,330.14 413.77,331.40 414.47,332.65 415.18,334.33 415.88,333.00 416.59,332.97 417.29,334.31 418.00,334.69 418.71,335.19 419.41,336.36 420.12,338.41 420.82,338.48 421.53,339.79 422.23,342.53 422.94,343.07 423.65,345.09 424.35,345.55 425.06,346.41 425.76,348.83 426.47,350.79 427.18,349.84 427.88,351.73 428.59,352.27 429.29,355.77 430.00,356.33 430.70,358.31 431.41,361.52 432.12,366.67 432.82,370.17 433.53,374.21 434.23,377.77 434.94,383.31 435.64,388.14 436.35,394.05 437.06,375.95 437.76,357.76 438.47,350.52 439.17,347.70 439.88,345.19 440.58,341.71 441.29,340.43 442.00,338.05 442.70,337.11 443.41,335.00 444.11,334.22 444.82,334.34 445.53,333.03 446.23,331.49 446.94,332.61 447.64,331.61 448.35,330.76 449.05,330.37 449.76,330.50 450.47,331.30 451.17,330.88 451.88,329.49 452.58,329.02 453.29,327.21 453.99,329.13 454.70,327.44 455.41,327.34 456.11,328.64 456.82,327.74 457.52,326.77 458.23,326.91 458.93,326.40 459.64,325.70 460.35,326.29 461.05,325.18 461.76,325.66 462.46,325.34 463.17,324.36 463.88,324.85 464.58,324.01 465.29,322.88 465.99,323.67 466.70,323.54 467.40,322.70 468.11,323.21 468.82,322.01 469.52,323.38 470.23,321.91 470.93,322.47 471.64,322.48 472.34,320.58 473.05,322.17 473.76,320.27 474.46,320.86 475.17,320.19 475.87,321.69 476.58,320.10 477.28,319.80 477.99,320.72 478.70,320.59 479.40,318.73 480.11,320.11 480.81,320.36 481.52,320.34 482.23,319.47 482.93,319.38 483.64,319.31 484.34,318.11 485.05,319.30 485.75,318.58 486.46,317.73 487.17,319.18 487.87,317.62 488.58,316.89 489.28,318.82 489.99,318.46 490.69,318.22 491.40,318.56 492.11,316.83 492.81,318.17 493.52,316.40 494.22,315.57 494.93,317.42 495.63,316.36 496.34,317.23 497.05,315.23 497.75,316.05 498.46,315.53 499.16,315.12 499.87,314.60 500.58,315.00 501.28,314.56 501.99,314.74 502.69,314.10 503.40,314.76 504.10,313.74 504.81,314.88 505.52,313.71 506.22,311.91 506.93,312.94 507.63,313.64 508.34,312.43 509.04,313.05 509.75,313.31 510.46,312.50 511.16,311.32 511.87,311.36 512.57,311.48 513.28,311.84 513.98,311.74 514.69,309.92 515.40,310.46 516.10,311.07 516.81,311.65 517.51,310.95 518.22,308.18 518.92,310.41 519.63,309.50 520.34,309.11 521.04,309.16 521.75,309.04 522.45,309.58 523.16,309.16 523.87,307.13 524.57,308.67 525.28,307.50 525.98,309.10 526.69,308.05 527.39,307.60 528.10,306.98" fill="none" stroke="#1e9a1e" stroke-width="1.6" stroke-linejoin="round" />
<polyline points="344.60,299.25 345.31,298.27 346.01,298.58 346.72,299.50 347.42,298.86 348.13,299.95 348.83,300.05 349.54,299.86 350.25,302.00 350.95,300.60 351.66,301.53 352.36,302.18 353.07,301.82 353.78,301.36 354.48,302.48 355.19,301.70 355.89,303.66 356.60,304.10 357.30,302.52 358.01,303.63 358.72,303.60 359.42,305.12 360.13,304.37 360.83,305.07 361.54,305.14 362.24,305.90 362.95,305.45 363.66,307.02 364.36,307.57 365.07,308.25 365.77,306.82 366.48,308.43 367.18,308.97 367.89,309.24 368.60,309.25 369.30,310.14 370.01,309.82 370.71,310.38 371.42,310.66 372.12,311.28 372.83,310.95 373.54,311.62 374.24,311.57 374.95,311.81 375.65,312.09 376.36,314.12 377.07,313.35 377.77,313.86 378.48,313.15 379.18,315.06 379.89,314.82 380.59,314.87 381.30,315.24 382.01,314.69 382.71,315.98 383.42,315.37 384.12,317.32 384.83,317.87 385.53,316.17 386.24,317.01 386.95,317.29 387.65,317.84 388.36,317.91 389.06,319.35 389.77,318.20 390.48,319.49 391.18,318.77 391.89,319.67 392.59,321.35 393.30,321.19 394.00,319.87 394.71,321.01 395.42,321.48 396.12,321.35 396.83,322.10 397.53,322.47 398.24,322.34 398.94,322.61 399.65,321.99 400.36,323.27 401.06,322.34 401.77,322.72 402.47,323.13 403.18,323.93 403.88,324.95 404.59,325.36 405.30,325.99 406.00,326.84 406.71,326.88 407.41,327.78 408.12,326.78 408.83,328.07 409.53,329.31 410.24,330.88 410.94,330.23 411.65,331.07 412.35,332.11 413.06,332.74 413.77,334.08 414.47,332.77 415.18,333.80 415.88,332.71 416.59,335.21 417.29,336.10 418.00,335.91 418.71,337.72 419.41,338.70 420.12,340.11 420.82,341.36 421.53,341.11 422.23,342.64 422.94,343.57 423.65,346.29 424.35,347.35 425.06,349.24 425.76,349.25 426.47,352.05 427.18,351.92 427.88,352.72 428.59,353.64 429.29,356.72 430.00,357.42 430.70,361.22 431.41,364.38 432.12,368.39 432.82,370.54 433.53,373.84 434.23,379.53 434.94,383.85 435.64,388.45 436.35,394.05 437.06,374.38 437.76,354.47 438.47,347.88 439.17,343.92 439.88,338.28 440.58,337.08 441.29,335.90 442.00,335.01 442.70,333.03 443.41,330.54 444.11,328.93 444.82,329.39 445.53,328.89 446.23,328.19 446.94,328.72 447.64,326.55 448.35,327.58 449.05,325.81 449.76,327.30 450.47,326.45 451.17,325.00 451.88,325.29 452.58,323.84 453.29,323.94 453.99,324.32 454.70,322.70 455.41,322.15 456.11,323.59 456.82,320.71 457.52,321.23 458.23,320.70 458.93,322.11 459.64,321.02 460.35,320.46 461.05,319.20 461.76,320.59 462.46,319.90 463.17,320.37 463.88,318.86 464.58,318.17 465.29,319.22 465.99,318.19 466.70,317.15 467.40,316.14 468.11,316.48 468.82,316.87 469.52,317.20 470.23,316.80 470.93,316.39 471.64,315.63 472.34,315.55 473.05,314.21 473.76,314.95 474.46,315.68 475.17,313.77 475.87,314.02 476.58,314.43 477.28,314.82 477.99,315.44 478.70,314.71 479.40,313.26 480.11,314.23 480.81,314.40 481.52,313.21 482.23,312.99 482.93,312.55 483.64,312.32 484.34,311.61 485.05,312.90 485.75,311.47 486.46,312.56 487.17,311.20 487.87,311.32 488.58,311.04 489.28,310.32 489.99,310.75 490.69,309.76 491.40,309.68 492.11,309.95 492.81,310.18 493.52,310.08 494.22,309.69 494.93,309.24 495.63,308.89 496.34,306.65 497.05,307.98 497.75,307.66 498.46,308.52 499.16,308.18 499.87,307.69 500.58,307.11 501.28,307.70 501.99,305.70 502.69,306.92 503.40,305.59 504.10,307.64 504.81,305.85 505.52,305.43 506.22,305.25 506.93,304.74 507.63,304.73 508.34,304.57 509.04,305.71 509.75,304.69 510.46,305.55 511.16,303.33 511.87,303.31 512.57,303.41 513.28,303.60 513.98,303.21 514.69,301.35 515.40,301.19 516.10,302.16 516.81,301.02 517.51,302.72 518.22,302.72 518.92,301.51 519.63,301.54 520.34,301.10 521.04,300.36 521.75,298.23 522.45,300.47 523.16,299.76 523.87,299.37 524.57,299.46 525.28,298.70 525.98,298.02 526.69,299.92 527.39,298.87 528.10,299.04" fill="none" stroke="#1c1ca0" stroke-width="1.6" stroke-linejoin="round" />
<polyline points="344.60,291.87 345.31,293.32 346.01,293.65 346.72,294.21 347.42,292.49 348.13,292.89 348.83,293.15 349.54,295.15 350.25,294.18 350.95,294.80 351.66,295.60 352.36,295.63 353.07,294.91 353.78,295.38 354.48,296.12 355.19,296.12 355.89,297.23 356.60,297.15 357.30,297.53 358.01,297.55 358.72,298.33 359.42,298.74 360.13,299.10 360.83,299.80 361.54,298.24 362.24,299.75 362.95,300.17 363.66,299.29 364.36,300.25 365.07,302.59 365.77,301.45 366.48,301.71 367.18,301.38 367.89,302.12 368.60,302.85 369.30,304.51 370.01,304.67 370.71,304.27 371.42,304.48 372.12,305.86 372.83,305.80 373.54,306.17 374.24,306.23 374.95,306.40 375.65,307.18 376.36,308.18 377.07,306.89 377.77,307.01 378.48,308.51 379.18,308.12 379.89,308.87 380.59,309.09 381.30,309.57 382.01,310.77 382.71,310.23 383.42,310.29 384.12,311.92 384.83,310.35 385.53,310.61 386.24,311.13 386.95,311.36 387.65,312.53 388.36,313.59 389.06,314.09 389.77,314.56 390.48,314.26 391.18,314.68 391.89,314.53 392.59,316.65 393.30,314.07 394.00,314.41 394.71,316.27 395.42,316.12 396.12,316.58 396.83,317.03 397.53,317.68 398.24,317.94 398.94,318.73 399.65,318.38 400.36,318.83 401.06,318.93 401.77,320.06 402.47,319.84 403.18,320.23 403.88,320.29 404.59,321.85 405.30,321.33 406.00,321.45 406.71,322.23 407.41,323.42 408.12,324.08 408.83,324.50 409.53,324.48 410.24,324.57 410.94,326.35 411.65,327.32 412.35,327.28 413.06,328.03 413.77,329.42 414.47,329.91 415.18,330.15 415.88,330.36 416.59,332.41 417.29,333.16 418.00,333.09 418.71,335.24 419.41,335.41 420.12,336.37 420.82,337.85 421.53,339.68 422.23,340.32 422.94,342.00 423.65,342.99 424.35,345.16 425.06,345.23 425.76,348.41 426.47,348.69 427.18,349.82 427.88,350.41 428.59,352.64 429.29,353.47 430.00,356.40 430.70,358.28 431.41,360.93 432.12,366.22 432.82,369.71 433.53,374.48 434.23,377.66 434.94,383.31 435.64,388.19 436.35,394.05 437.06,374.38 437.76,354.17 438.47,346.31 439.17,343.55 439.88,340.68 440.58,337.53 441.29,334.92 442.00,333.35 442.70,332.43 443.41,333.05 444.11,331.22 444.82,328.95 445.53,330.05 446.23,328.00 446.94,327.24 447.64,327.83 448.35,327.41 449.05,328.16 449.76,328.46 450.47,326.98 451.17,326.65 451.88,326.13 452.58,325.20 453.29,325.31 453.99,324.62 454.70,324.00 455.41,323.81 456.11,322.12 456.82,322.62 457.52,322.43 458.23,322.22 458.93,322.10 459.64,320.41 460.35,320.84 461.05,321.31 461.76,320.62 462.46,319.98 463.17,319.84 463.88,318.46 464.58,319.61 465.29,318.16 465.99,318.04 466.70,318.58 467.40,317.43 468.11,317.20 468.82,316.50 469.52,316.85 470.23,316.06 470.93,317.12 471.64,316.48 472.34,314.99 473.05,314.59 473.76,315.08 474.46,315.28 475.17,313.97 475.87,315.91 476.58,314.87 477.28,313.71 477.99,313.54 478.70,314.49 479.40,314.87 480.11,312.44 480.81,313.10 481.52,313.60 482.23,312.74 482.93,311.95 483.64,314.06 484.34,311.35 485.05,311.35 485.75,312.99 486.46,310.82 487.17,312.26 487.87,310.04 488.58,310.27 489.28,308.76 489.99,310.40 490.69,309.72 491.40,308.76 492.11,309.62 492.81,309.39 493.52,308.90 494.22,308.43 494.93,308.84 495.63,307.52 496.34,307.21 497.05,307.26 497.75,305.90 498.46,306.99 499.16,305.63 499.87,306.60 500.58,305.46 501.28,306.99 501.99,305.29 502.69,305.28 503.40,305.22 504.10,305.03 504.81,304.58 505.52,304.56 506.22,305.28 506.93,303.94 507.63,303.64 508.34,303.36 509.04,303.45 509.75,302.56 510.46,301.68 511.16,302.10 511.87,301.99 512.57,300.49 513.28,300.47 513.98,300.24 514.69,299.82 515.40,300.54 516.10,300.14 516.81,299.04 517.51,299.89 518.22,299.33 518.92,298.72 519.63,298.46 520.34,298.62 521.04,297.51 521.75,298.02 522.45,297.15 523.16,296.65 523.87,296.66 524.57,296.47 525.28,297.60 525.98,297.57 526.69,296.97 527.39,296.11 528.10,295.29" fill="none" stroke="#ff1e1e" stroke-width="1.6" stroke-linejoin="round" />
<polyline points="344.60,285.11 345.31,284.27 346.01,285.22 346.72,285.32 347.42,285.20 348.13,284.73 348.83,285.23 349.54,284.94 350.25,286.74 350.95,285.85 351.66,286.18 352.36,284.22 353.07,284.30 353.78,285.36 354.48,286.07 355.19,285.97 355.89,286.48 356.60,284.48 357.30,287.09 358.01,286.02 358.72,287.35 359.42,287.64 360.13,287.71 360.83,291.98 361.54,291.21 362.24,291.93 362.95,293.55 363.66,292.49 364.36,292.88 365.07,293.31 365.77,292.91 366.48,294.60 367.18,294.34 367.89,294.54 368.60,293.11 369.30,292.06 370.01,294.19 370.71,294.45 371.42,293.59 372.12,295.02 372.83,294.73 373.54,296.11 374.24,295.32 374.95,296.49 375.65,295.86 376.36,297.47 377.07,299.40 377.77,300.24 378.48,300.38 379.18,300.82 379.89,301.05 380.59,302.38 381.30,303.57 382.01,302.19 382.71,303.19 383.42,303.22 384.12,302.98 384.83,304.94 385.53,301.56 386.24,301.80 386.95,302.43 387.65,301.84 388.36,302.48 389.06,303.27 389.77,303.70 390.48,302.82 391.18,304.12 391.89,303.61 392.59,304.02 393.30,308.81 394.00,308.59 394.71,308.18 395.42,308.27 396.12,308.30 396.83,308.61 397.53,308.77 398.24,310.03 398.94,310.25 399.65,309.91 400.36,311.03 401.06,310.36 401.77,312.48 402.47,311.35 403.18,312.29 403.88,313.90 404.59,312.37 405.30,313.27 406.00,313.94 406.71,315.18 407.41,315.29 408.12,314.51 408.83,316.65 409.53,319.00 410.24,317.86 410.94,318.70 411.65,318.59 412.35,319.37 413.06,320.32 413.77,320.61 414.47,319.66 415.18,321.71 415.88,319.90 416.59,322.12 417.29,323.11 418.00,322.57 418.71,323.51 419.41,325.46 420.12,325.22 420.82,327.99 421.53,328.49 422.23,328.31 422.94,330.81 423.65,333.17 424.35,333.61 425.06,334.98 425.76,337.25 426.47,340.07 427.18,340.71 427.88,341.80 428.59,343.17 429.29,344.49 430.00,348.57 430.70,352.01 431.41,355.63 432.12,359.32 432.82,365.48 433.53,368.64 434.23,376.72 434.94,380.93 435.64,386.95 436.35,394.05 437.06,372.18 437.76,350.48 438.47,342.00 439.17,338.68 439.88,333.66 440.58,330.91 441.29,329.53 442.00,326.72 442.70,324.94 443.41,323.17 444.11,322.76 444.82,321.57 445.53,321.16 446.23,317.35 446.94,318.54 447.64,318.02 448.35,318.33 449.05,316.19 449.76,316.67 450.47,314.99 451.17,314.92 451.88,315.01 452.58,314.11 453.29,314.92 453.99,314.00 454.70,313.80 455.41,313.90 456.11,312.69 456.82,312.47 457.52,311.09 458.23,313.98 458.93,311.88 459.64,311.76 460.35,311.18 461.05,310.32 461.76,310.06 462.46,310.05 463.17,310.11 463.88,309.20 464.58,309.02 465.29,310.23 465.99,308.90 466.70,309.38 467.40,309.00 468.11,307.87 468.82,307.70 469.52,307.44 470.23,307.89 470.93,307.24 471.64,307.52 472.34,306.47 473.05,306.10 473.76,305.22 474.46,305.40 475.17,306.64 475.87,306.27 476.58,306.46 477.28,305.49 477.99,304.23 478.70,304.95 479.40,306.75 480.11,305.97 480.81,305.84 481.52,304.47 482.23,304.65 482.93,304.28 483.64,303.11 484.34,304.67 485.05,304.50 485.75,302.43 486.46,303.32 487.17,303.87 487.87,304.50 488.58,303.96 489.28,304.37 489.99,302.48 490.69,302.29 491.40,301.45 492.11,302.00 492.81,302.17 493.52,302.00 494.22,300.03 494.93,302.27 495.63,300.77 496.34,300.67 497.05,300.07 497.75,300.54 498.46,299.74 499.16,299.32 499.87,299.76 500.58,299.76 501.28,299.37 501.99,299.69 502.69,298.98 503.40,298.84 504.10,298.29 504.81,297.33 505.52,297.15 506.22,298.11 506.93,297.21 507.63,297.21 508.34,296.69 509.04,296.98 509.75,296.62 510.46,296.90 511.16,296.91 511.87,295.60 512.57,295.11 513.28,295.33 513.98,295.27 514.69,295.18 515.40,295.46 516.10,296.14 516.81,294.30 517.51,294.41 518.22,294.71 518.92,294.78 519.63,293.07 520.34,294.93 521.04,292.34 521.75,292.88 522.45,291.52 523.16,293.38 523.87,292.71 524.57,292.93 525.28,292.39 525.98,292.53 526.69,292.79 527.39,291.47 528.10,292.61" fill="none" stroke="#9a3aa8" stroke-width="1.6" stroke-linejoin="round" />
<polyline points="344.60,281.51 345.31,280.97 346.01,281.88 346.72,281.99 347.42,281.64 348.13,282.30 348.83,283.07 349.54,280.88 350.25,281.31 350.95,280.38 351.66,282.61 352.36,281.59 353.07,283.12 353.78,283.18 354.48,283.52 355.19,285.26 355.89,285.22 356.60,284.99 357.30,286.94 358.01,285.98 358.72,286.56 359.42,287.04 360.13,288.45 360.83,285.91 361.54,286.94 362.24,286.99 362.95,287.76 363.66,287.49 364.36,287.55 365.07,287.89 365.77,290.93 366.48,290.48 367.18,290.53 367.89,292.48 368.60,291.23 369.30,293.46 370.01,292.56 370.71,292.89 371.42,290.86 372.12,292.03 372.83,292.89 373.54,293.46 374.24,294.12 374.95,293.13 375.65,294.15 376.36,294.83 377.07,296.14 377.77,297.36 378.48,297.50 379.18,297.87 379.89,296.81 380.59,297.30 381.30,298.74 382.01,300.04 382.71,299.15 383.42,299.64 384.12,299.80 384.83,299.99 385.53,300.93 386.24,300.43 386.95,300.82 387.65,301.57 388.36,302.31 389.06,302.68 389.77,302.21 390.48,303.73 391.18,303.41 391.89,304.12 392.59,304.87 393.30,303.85 394.00,304.58 394.71,304.85 395.42,304.61 396.12,306.51 396.83,305.87 397.53,305.94 398.24,305.89 398.94,307.49 399.65,306.60 400.36,307.25 401.06,306.81 401.77,307.30 402.47,308.06 403.18,307.38 403.88,309.23 404.59,309.96 405.30,310.37 406.00,311.26 406.71,311.16 407.41,312.93 408.12,312.29 408.83,312.54 409.53,312.77 410.24,314.29 410.94,313.76 411.65,315.76 412.35,316.04 413.06,317.83 413.77,317.72 414.47,318.35 415.18,317.52 415.88,318.90 416.59,320.81 417.29,320.67 418.00,321.72 418.71,323.27 419.41,324.28 420.12,325.74 420.82,327.22 421.53,329.43 422.23,329.81 422.94,330.54 423.65,332.11 424.35,334.87 425.06,336.81 425.76,338.06 426.47,338.93 427.18,340.86 427.88,343.02 428.59,343.93 429.29,346.30 430.00,348.46 430.70,352.34 431.41,356.93 432.12,360.47 432.82,364.73 433.53,370.57 434.23,375.24 434.94,381.16 435.64,387.08 436.35,394.05 437.06,371.04 437.76,348.39 438.47,339.42 439.17,335.63 439.88,331.28 440.58,326.74 441.29,324.70 442.00,322.31 442.70,321.90 443.41,318.53 444.11,319.12 444.82,317.03 445.53,315.06 446.23,313.73 446.94,314.46 447.64,313.64 448.35,312.43 449.05,313.21 449.76,310.97 450.47,310.75 451.17,310.90 451.88,309.79 452.58,309.18 453.29,309.07 453.99,308.54 454.70,307.54 455.41,308.49 456.11,307.75 456.82,307.87 457.52,306.55 458.23,307.19 458.93,306.34 459.64,306.28 460.35,306.06 461.05,304.74 461.76,305.65 462.46,304.43 463.17,304.55 463.88,303.98 464.58,304.69 465.29,303.73 465.99,303.58 466.70,304.22 467.40,303.41 468.11,303.44 468.82,303.16 469.52,302.08 470.23,303.19 470.93,303.62 471.64,303.47 472.34,302.47 473.05,302.43 473.76,301.85 474.46,301.35 475.17,300.44 475.87,301.25 476.58,301.02 477.28,301.67 477.99,300.69 478.70,300.06 479.40,299.93 480.11,301.91 480.81,299.93 481.52,299.33 482.23,299.67 482.93,301.00 483.64,300.07 484.34,299.32 485.05,299.25 485.75,299.86 486.46,299.73 487.17,298.34 487.87,299.63 488.58,297.65 489.28,298.36 489.99,297.99 490.69,298.85 491.40,298.18 492.11,297.15 492.81,298.35 493.52,295.88 494.22,297.92 494.93,297.61 495.63,296.60 496.34,296.12 497.05,295.77 497.75,296.28 498.46,295.98 499.16,295.81 499.87,295.83 500.58,296.92 501.28,294.45 501.99,294.71 502.69,294.58 503.40,294.89 504.10,294.13 504.81,294.11 505.52,293.95 506.22,293.00 506.93,294.62 507.63,293.16 508.34,293.81 509.04,293.13 509.75,291.77 510.46,293.24 511.16,292.41 511.87,292.53 512.57,291.35 513.28,292.39 513.98,292.65 514.69,291.04 515.40,291.41 516.10,291.19 516.81,290.10 517.51,291.17 518.22,290.64 518.92,290.11 519.63,289.75 520.34,290.15 521.04,288.96 521.75,287.99 522.45,289.50 523.16,287.84 523.87,290.20 524.57,287.84 525.28,288.87 525.98,288.47 526.69,288.68 527.39,288.77 528.10,289.08" fill="none" stroke="#8b1010" stroke-width="1.6" stroke-linejoin="round" />
<polyline points="344.60,279.32 345.31,278.39 346.01,278.65 346.72,279.77 347.42,280.05 348.13,280.32 348.83,280.80 349.54,279.20 350.25,280.26 350.95,280.93 351.66,281.65 352.36,282.31 353.07,281.13 353.78,281.80 354.48,283.24 355.19,282.31 355.89,283.99 356.60,283.19 357.30,284.54 358.01,284.51 358.72,284.25 359.42,284.62 360.13,284.57 360.83,286.08 361.54,284.85 362.24,285.33 362.95,286.52 363.66,286.54 364.36,287.66 365.07,287.58 365.77,288.66 366.48,288.08 367.18,288.33 367.89,287.92 368.60,288.50 369.30,288.91 370.01,289.99 370.71,290.22 371.42,290.62 372.12,290.58 372.83,292.29 373.54,290.88 374.24,292.71 374.95,292.35 375.65,292.33 376.36,293.00 377.07,291.93 377.77,293.38 378.48,292.63 379.18,293.21 379.89,294.61 380.59,294.36 381.30,294.11 382.01,295.48 382.71,295.52 383.42,296.26 384.12,296.17 384.83,296.75 385.53,296.78 386.24,296.49 386.95,296.54 387.65,297.65 388.36,297.90 389.06,297.78 389.77,298.80 390.48,299.58 391.18,298.48 391.89,300.08 392.59,299.16 393.30,300.67 394.00,299.16 394.71,301.29 395.42,300.36 396.12,300.23 396.83,302.09 397.53,300.81 398.24,302.58 398.94,303.47 399.65,302.16 400.36,302.46 401.06,303.33 401.77,305.13 402.47,303.88 403.18,304.40 403.88,304.82 404.59,305.16 405.30,306.55 406.00,306.21 406.71,305.15 407.41,305.81 408.12,307.54 408.83,308.30 409.53,308.14 410.24,308.28 410.94,309.07 411.65,310.86 412.35,310.58 413.06,311.16 413.77,310.90 414.47,311.63 415.18,312.69 415.88,312.98 416.59,314.83 417.29,314.50 418.00,316.77 418.71,317.34 419.41,318.19 420.12,320.65 420.82,321.88 421.53,324.03 422.23,324.35 422.94,326.12 423.65,328.06 424.35,329.30 425.06,332.74 425.76,333.15 426.47,334.84 427.18,336.82 427.88,337.89 428.59,339.02 429.29,342.65 430.00,345.83 430.70,349.13 431.41,352.86 432.12,357.37 432.82,363.31 433.53,367.12 434.23,374.17 434.94,380.00 435.64,386.47 436.35,394.05 437.06,370.42 437.76,347.02 438.47,337.89 439.17,333.47 439.88,328.83 440.58,324.92 441.29,323.61 442.00,321.28 442.70,319.17 443.41,317.24 444.11,317.09 444.82,314.71 445.53,314.23 446.23,312.43 446.94,311.25 447.64,311.48 448.35,310.98 449.05,310.21 449.76,311.68 450.47,308.93 451.17,308.56 451.88,308.32 452.58,308.21 453.29,307.98 453.99,307.21 454.70,305.92 455.41,306.39 456.11,305.10 456.82,307.26 457.52,305.56 458.23,304.77 458.93,304.64 459.64,305.39 460.35,304.46 461.05,302.95 461.76,304.30 462.46,303.83 463.17,303.61 463.88,302.98 464.58,301.93 465.29,301.68 465.99,303.09 466.70,300.57 467.40,301.63 468.11,301.37 468.82,299.68 469.52,300.57 470.23,301.09 470.93,300.49 471.64,300.34 472.34,300.34 473.05,299.72 473.76,298.77 474.46,298.95 475.17,299.92 475.87,297.10 476.58,299.38 477.28,298.53 477.99,298.44 478.70,297.82 479.40,298.37 480.11,297.71 480.81,296.49 481.52,297.61 482.23,298.20 482.93,297.11 483.64,297.65 484.34,297.19 485.05,296.63 485.75,296.34 486.46,296.53 487.17,295.59 487.87,296.04 488.58,296.54 489.28,294.92 489.99,295.51 490.69,294.28 491.40,295.26 492.11,294.26 492.81,294.21 493.52,295.93 494.22,294.94 494.93,294.49 495.63,292.65 496.34,294.55 497.05,292.54 497.75,292.21 498.46,292.38 499.16,292.05 499.87,292.58 500.58,292.06 501.28,291.69 501.99,291.35 502.69,290.95 503.40,291.32 504.10,291.42 504.81,291.12 505.52,290.28 506.22,291.40 506.93,290.92 507.63,290.16 508.34,290.04 509.04,289.64 509.75,290.96 510.46,289.26 511.16,288.99 511.87,288.11 512.57,289.67 513.28,288.38 513.98,287.66 514.69,287.44 515.40,286.77 516.10,286.64 516.81,287.78 517.51,286.48 518.22,286.89 518.92,286.98 519.63,285.26 520.34,286.43 521.04,286.36 521.75,285.86 522.45,285.93 523.16,284.52 523.87,284.71 524.57,283.95 525.28,284.48 525.98,285.03 526.69,283.85 527.39,284.84 528.10,284.61" fill="none" stroke="#a09a10" stroke-width="1.6" stroke-linejoin="round" />
<polyline points="344.60,276.49 345.31,276.52 346.01,275.94 346.72,277.26 347.42,276.81 348.13,277.21 348.83,278.17 349.54,278.39 350.25,278.15 350.95,278.07 351.66,278.45 352.36,278.67 353.07,279.27 353.78,279.91 354.48,279.68 355.19,280.92 355.89,281.46 356.60,281.14 357.30,282.17 358.01,281.90 358.72,282.38 359.42,282.58 360.13,282.57 360.83,283.38 361.54,283.46 362.24,284.62 362.95,283.74 363.66,284.73 364.36,284.23 365.07,286.63 365.77,285.65 366.48,285.30 367.18,287.36 367.89,286.34 368.60,286.37 369.30,286.69 370.01,288.04 370.71,287.25 371.42,287.63 372.12,288.68 372.83,287.89 373.54,288.73 374.24,289.01 374.95,289.64 375.65,289.32 376.36,289.93 377.07,289.58 377.77,290.35 378.48,291.37 379.18,291.44 379.89,291.02 380.59,292.17 381.30,292.02 382.01,292.25 382.71,293.02 383.42,294.73 384.12,293.45 384.83,293.71 385.53,294.07 386.24,294.95 386.95,293.98 387.65,295.15 388.36,295.76 389.06,296.11 389.77,295.71 390.48,296.93 391.18,297.16 391.89,295.51 392.59,296.24 393.30,296.69 394.00,296.77 394.71,297.56 395.42,299.32 396.12,297.74 396.83,298.00 397.53,298.77 398.24,300.64 398.94,298.85 399.65,299.06 400.36,300.55 401.06,300.44 401.77,300.33 402.47,301.22 403.18,300.81 403.88,301.85 404.59,301.85 405.30,302.67 406.00,304.13 406.71,304.28 407.41,302.07 408.12,304.45 408.83,304.32 409.53,304.98 410.24,305.18 410.94,306.50 411.65,307.82 412.35,307.99 413.06,309.82 413.77,309.27 414.47,309.13 415.18,311.76 415.88,310.97 416.59,311.39 417.29,311.99 418.00,314.48 418.71,315.42 419.41,317.43 420.12,318.19 420.82,318.59 421.53,319.10 422.23,322.79 422.94,322.81 423.65,325.25 424.35,327.67 425.06,327.75 425.76,332.64 426.47,332.87 427.18,334.51 427.88,335.09 428.59,337.13 429.29,339.13 430.00,343.48 430.70,346.57 431.41,350.63 432.12,356.17 432.82,361.44 433.53,366.97 434.23,373.07 434.94,379.51 435.64,386.22 436.35,394.05 437.06,369.47 437.76,344.76 438.47,336.66 439.17,329.91 439.88,326.76 440.58,325.00 441.29,320.63 442.00,318.61 442.70,316.86 443.41,314.17 444.11,313.91 444.82,312.74 445.53,312.02 446.23,310.74 446.94,310.44 447.64,309.56 448.35,307.20 449.05,308.50 449.76,308.82 450.47,306.41 451.17,306.60 451.88,306.11 452.58,305.67 453.29,305.10 453.99,304.70 454.70,303.74 455.41,303.53 456.11,302.85 456.82,303.62 457.52,302.87 458.23,302.93 458.93,301.44 459.64,301.14 460.35,301.62 461.05,300.59 461.76,298.91 462.46,299.46 463.17,300.64 463.88,299.62 464.58,298.80 465.29,298.88 465.99,298.26 466.70,297.40 467.40,297.62 468.11,298.23 468.82,296.75 469.52,296.98 470.23,296.57 470.93,296.75 471.64,297.03 472.34,296.70 473.05,295.89 473.76,296.15 474.46,297.02 475.17,294.32 475.87,295.65 476.58,295.18 477.28,294.18 477.99,295.92 478.70,293.30 479.40,294.48 480.11,293.36 480.81,293.90 481.52,293.17 482.23,293.09 482.93,292.93 483.64,293.89 484.34,293.42 485.05,292.25 485.75,291.05 486.46,292.07 487.17,291.10 487.87,291.07 488.58,290.59 489.28,289.99 489.99,291.35 490.69,289.92 491.40,289.95 492.11,289.77 492.81,289.85 493.52,289.54 494.22,289.43 494.93,289.21 495.63,286.59 496.34,286.84 497.05,287.68 497.75,286.93 498.46,287.78 499.16,288.69 499.87,287.80 500.58,286.25 501.28,285.13 501.99,285.83 502.69,286.19 503.40,285.42 504.10,285.65 504.81,285.64 505.52,284.61 506.22,284.45 506.93,284.45 507.63,284.23 508.34,283.99 509.04,282.96 509.75,281.94 510.46,282.72 511.16,280.85 511.87,283.10 512.57,281.59 513.28,282.26 513.98,281.34 514.69,280.90 515.40,280.33 516.10,279.69 516.81,280.52 517.51,280.70 518.22,279.74 518.92,279.16 519.63,279.54 520.34,278.23 521.04,277.45 521.75,279.21 522.45,277.77 523.16,277.08 523.87,278.73 524.57,277.20 525.28,277.35 525.98,278.00 526.69,276.08 527.39,276.66 528.10,276.98" fill="none" stroke="#1f3fff" stroke-width="1.6" stroke-linejoin="round" />
</g>
<line x1="341.60" y1="405.20" x2="344.60" y2="405.20" stroke="#000" stroke-width="1.2" />
<line x1="528.10" y1="405.20" x2="525.10" y2="405.20" stroke="#000" stroke-width="1.2" />
<line x1="341.60" y1="382.90" x2="344.60" y2="382.90" stroke="#000" stroke-width="1.2" />
<line x1="528.10" y1="382.90" x2="525.10" y2="382.90" stroke="#000" stroke-width="1.2" />
<line x1="341.60" y1="360.60" x2="344.60" y2="360.60" stroke="#000" stroke-width="1.2" />
<line x1="528.10" y1="360.60" x2="525.10" y2="360.60" stroke="#000" stroke-width="1.2" />
<line x1="341.60" y1="338.30" x2="344.60" y2="338.30" stroke="#000" stroke-width="1.2" />
<line x1="528.10" y1="338.30" x2="525.10" y2="338.30" stroke="#000" stroke-width="1.2" />
<line x1="341.60" y1="316.00" x2="344.60" y2="316.00" stroke="#000" stroke-width="1.2" />
<line x1="528.10" y1="316.00" x2="525.10" y2="316.00" stroke="#000" stroke-width="1.2" />
<line x1="341.60" y1="293.70" x2="344.60" y2="293.70" stroke="#000" stroke-width="1.2" />
<line x1="528.10" y1="293.70" x2="525.10" y2="293.70" stroke="#000" stroke-width="1.2" />
<line x1="341.60" y1="271.40" x2="344.60" y2="271.40" stroke="#000" stroke-width="1.2" />
<line x1="528.10" y1="271.40" x2="525.10" y2="271.40" stroke="#000" stroke-width="1.2" />
<line x1="341.60" y1="249.10" x2="344.60" y2="249.10" stroke="#000" stroke-width="1.2" />
<line x1="528.10" y1="249.10" x2="525.10" y2="249.10" stroke="#000" stroke-width="1.2" />
<line x1="341.60" y1="226.80" x2="344.60" y2="226.80" stroke="#000" stroke-width="1.2" />
<line x1="528.10" y1="226.80" x2="525.10" y2="226.80" stroke="#000" stroke-width="1.2" />
<text x="341.0" y="230.60" font-size="11.5" text-anchor="end" font-family="Liberation Serif" font-weight="bold">10<tspan font-size="8" dx="0.3" dy="-5">-2</tspan></text>
<text x="341.0" y="275.20" font-size="11.5" text-anchor="end" font-family="Liberation Serif" font-weight="bold">10<tspan font-size="8" dx="0.3" dy="-5">-4</tspan></text>
<text x="341.0" y="319.80" font-size="11.5" text-anchor="end" font-family="Liberation Serif" font-weight="bold">10<tspan font-size="8" dx="0.3" dy="-5">-6</tspan></text>
<text x="341.0" y="364.40" font-size="11.5" text-anchor="end" font-family="Liberation Serif" font-weight="bold">10<tspan font-size="8" dx="0.3" dy="-5">-8</tspan></text>
<text x="340.4" y="409.00" font-size="11.5" text-anchor="end" font-family="Liberation Serif" font-weight="bold">10<tspan font-size="8" dx="0.3" dy="-5">-10</tspan></text>
<line x1="344.60" y1="405.20" x2="344.60" y2="408.70" stroke="#000" stroke-width="1.3" />
<text x="344.60" y="418.00" font-size="10.5" text-anchor="middle" fill="#000" font-family="Liberation Serif" font-weight="bold">-100</text>
<line x1="390.48" y1="405.20" x2="390.48" y2="408.70" stroke="#000" stroke-width="1.3" />
<text x="390.48" y="418.00" font-size="10.5" text-anchor="middle" fill="#000" font-family="Liberation Serif" font-weight="bold">-50</text>
<line x1="436.35" y1="405.20" x2="436.35" y2="408.70" stroke="#000" stroke-width="1.3" />
<text x="436.35" y="418.00" font-size="10.5" text-anchor="middle" fill="#000" font-family="Liberation Serif" font-weight="bold">0</text>
<line x1="482.23" y1="405.20" x2="482.23" y2="408.70" stroke="#000" stroke-width="1.3" />
<text x="482.23" y="418.00" font-size="10.5" text-anchor="middle" fill="#000" font-family="Liberation Serif" font-weight="bold">50</text>
<line x1="528.10" y1="405.20" x2="528.10" y2="408.70" stroke="#000" stroke-width="1.3" />
<text x="528.10" y="418.00" font-size="10.5" text-anchor="middle" fill="#000" font-family="Liberation Serif" font-weight="bold">100</text>
<rect x="344.60" y="226.80" width="183.50" height="178.40" fill="none" stroke="#000" stroke-width="2" />
<text x="314.50" y="318.10" font-size="12" text-anchor="middle" fill="#000" transform="rotate(-90 314.50 318.10)" font-family="Liberation Serif" font-weight="bold">Leakage current density (A/cm<tspan font-size="8" dy="-5">2</tspan><tspan dy="5">)</tspan></text>
<text x="436.00" y="434.50" font-size="12" text-anchor="middle" fill="#000" font-family="Liberation Serif" font-weight="bold">Electric field (kV/cm)</text>
<line x1="372.00" y1="232.30" x2="393.00" y2="232.30" stroke="#000000" stroke-width="1.4" />
<circle cx="382.5" cy="232.30" r="1.2" fill="#000000"/>
<text x="395.60" y="235.40" font-size="8.5" text-anchor="start" fill="#000" font-family="Liberation Serif" font-weight="bold">Dark</text>
<line x1="372.00" y1="244.80" x2="393.00" y2="244.80" stroke="#ff3fa8" stroke-width="1.4" />
<circle cx="382.5" cy="244.80" r="1.2" fill="#ff3fa8"/>
<text x="395.60" y="247.90" font-size="8.5" text-anchor="start" fill="#000" font-family="Liberation Serif" font-weight="bold">0.06 mW/cm<tspan font-size="5.6" dx="0.6" dy="-4.3">2</tspan></text>
<line x1="372.00" y1="257.30" x2="393.00" y2="257.30" stroke="#1e9a1e" stroke-width="1.4" />
<circle cx="382.5" cy="257.30" r="1.2" fill="#1e9a1e"/>
<text x="395.60" y="260.40" font-size="8.5" text-anchor="start" fill="#000" font-family="Liberation Serif" font-weight="bold">0.27 mW/cm<tspan font-size="5.6" dx="0.6" dy="-4.3">2</tspan></text>
<line x1="372.00" y1="269.80" x2="393.00" y2="269.80" stroke="#1c1ca0" stroke-width="1.4" />
<circle cx="382.5" cy="269.80" r="1.2" fill="#1c1ca0"/>
<text x="395.60" y="272.90" font-size="8.5" text-anchor="start" fill="#000" font-family="Liberation Serif" font-weight="bold">0.68 mW/cm<tspan font-size="5.6" dx="0.6" dy="-4.3">2</tspan></text>
<line x1="372.00" y1="282.30" x2="393.00" y2="282.30" stroke="#ff1e1e" stroke-width="1.4" />
<circle cx="382.5" cy="282.30" r="1.2" fill="#ff1e1e"/>
<text x="395.60" y="285.40" font-size="8.5" text-anchor="start" fill="#000" font-family="Liberation Serif" font-weight="bold">1.25 mW/cm<tspan font-size="5.6" dx="0.6" dy="-4.3">2</tspan></text>
<line x1="448.00" y1="234.20" x2="469.00" y2="234.20" stroke="#9a3aa8" stroke-width="1.4" />
<circle cx="458.5" cy="234.20" r="1.2" fill="#9a3aa8"/>
<text x="471.60" y="237.30" font-size="8.5" text-anchor="start" fill="#000" font-family="Liberation Serif" font-weight="bold">1.98 mW/cm<tspan font-size="5.6" dx="0.6" dy="-4.3">2</tspan></text>
<line x1="448.00" y1="246.75" x2="469.00" y2="246.75" stroke="#8b1010" stroke-width="1.4" />
<circle cx="458.5" cy="246.75" r="1.2" fill="#8b1010"/>
<text x="471.60" y="249.85" font-size="8.5" text-anchor="start" fill="#000" font-family="Liberation Serif" font-weight="bold">2.60 mW/cm<tspan font-size="5.6" dx="0.6" dy="-4.3">2</tspan></text>
<line x1="448.00" y1="259.30" x2="469.00" y2="259.30" stroke="#a09a10" stroke-width="1.4" />
<circle cx="458.5" cy="259.30" r="1.2" fill="#a09a10"/>
<text x="471.60" y="262.40" font-size="8.5" text-anchor="start" fill="#000" font-family="Liberation Serif" font-weight="bold">3.08 mW/cm<tspan font-size="5.6" dx="0.6" dy="-4.3">2</tspan></text>
<line x1="448.00" y1="271.85" x2="469.00" y2="271.85" stroke="#1f3fff" stroke-width="1.4" />
<circle cx="458.5" cy="271.85" r="1.2" fill="#1f3fff"/>
<text x="471.60" y="274.95" font-size="8.5" text-anchor="start" fill="#000" font-family="Liberation Serif" font-weight="bold">3.23 mW/cm<tspan font-size="5.6" dx="0.6" dy="-4.3">2</tspan></text></svg>
</body></html>
